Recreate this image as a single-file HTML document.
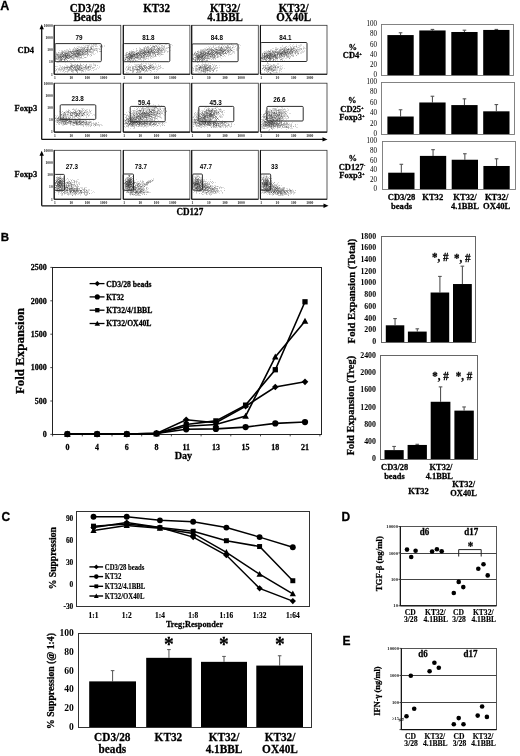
<!DOCTYPE html>
<html><head><meta charset="utf-8"><style>
html,body{margin:0;padding:0;background:#fff;width:520px;height:756px;overflow:hidden}
svg{display:block;filter:grayscale(1)}
</style></head><body>
<svg width="520" height="756" viewBox="0 0 520 756">
<rect width="520" height="756" fill="#fff"/>
<defs><filter id="sb" x="-5%" y="-5%" width="110%" height="110%"><feGaussianBlur stdDeviation="0.55"/></filter></defs>
<text x="0.3" y="9.6" font-size="12.50" text-anchor="start" font-weight="bold" font-family="'Liberation Sans',sans-serif" fill="#000" stroke="#000" stroke-width="0.28">A</text>
<text x="0.8" y="240.6" font-size="11.50" text-anchor="start" font-weight="bold" font-family="'Liberation Sans',sans-serif" fill="#000" stroke="#000" stroke-width="0.28">B</text>
<text x="1.6" y="521.3" font-size="12.00" text-anchor="start" font-weight="bold" font-family="'Liberation Sans',sans-serif" fill="#000" stroke="#000" stroke-width="0.28">C</text>
<text x="341.6" y="521.0" font-size="12.00" text-anchor="start" font-weight="bold" font-family="'Liberation Sans',sans-serif" fill="#000" stroke="#000" stroke-width="0.28">D</text>
<text x="342.6" y="645.2" font-size="12.00" text-anchor="start" font-weight="bold" font-family="'Liberation Sans',sans-serif" fill="#000" stroke="#000" stroke-width="0.28">E</text>
<text x="0" y="0" font-size="11.82" text-anchor="middle" font-weight="bold" font-family="'Liberation Serif',serif" fill="#000" stroke="#000" stroke-width="0.28" transform="translate(87.5 11.6) scale(0.93 1)">CD3/28</text>
<text x="0" y="0" font-size="11.82" text-anchor="middle" font-weight="bold" font-family="'Liberation Serif',serif" fill="#000" stroke="#000" stroke-width="0.28" transform="translate(87.5 20.9) scale(0.93 1)">Beads</text>
<text x="0" y="0" font-size="11.82" text-anchor="middle" font-weight="bold" font-family="'Liberation Serif',serif" fill="#000" stroke="#000" stroke-width="0.28" transform="translate(156.6 11.6) scale(0.93 1)">KT32</text>
<text x="0" y="0" font-size="11.82" text-anchor="middle" font-weight="bold" font-family="'Liberation Serif',serif" fill="#000" stroke="#000" stroke-width="0.28" transform="translate(225.0 11.6) scale(0.93 1)">KT32/</text>
<text x="0" y="0" font-size="11.82" text-anchor="middle" font-weight="bold" font-family="'Liberation Serif',serif" fill="#000" stroke="#000" stroke-width="0.28" transform="translate(225.0 20.9) scale(0.93 1)">4.1BBL</text>
<text x="0" y="0" font-size="11.82" text-anchor="middle" font-weight="bold" font-family="'Liberation Serif',serif" fill="#000" stroke="#000" stroke-width="0.28" transform="translate(293.7 11.6) scale(0.93 1)">KT32/</text>
<text x="0" y="0" font-size="11.82" text-anchor="middle" font-weight="bold" font-family="'Liberation Serif',serif" fill="#000" stroke="#000" stroke-width="0.28" transform="translate(293.7 20.9) scale(0.93 1)">OX40L</text>
<text x="0" y="0" font-size="9.14" text-anchor="middle" font-weight="bold" font-family="'Liberation Serif',serif" fill="#000" stroke="#000" stroke-width="0.28" transform="translate(25.8 52.75) scale(0.93 1)">CD4</text>
<text x="0" y="0" font-size="9.14" text-anchor="middle" font-weight="bold" font-family="'Liberation Serif',serif" fill="#000" stroke="#000" stroke-width="0.28" transform="translate(25.8 110.65) scale(0.93 1)">Foxp3</text>
<text x="0" y="0" font-size="9.14" text-anchor="middle" font-weight="bold" font-family="'Liberation Serif',serif" fill="#000" stroke="#000" stroke-width="0.28" transform="translate(25.8 176.95) scale(0.93 1)">Foxp3</text>
<line x1="41.70" y1="27.30" x2="41.70" y2="139.40" stroke="#111" stroke-width="1.3"/>
<line x1="41.70" y1="139.40" x2="324.50" y2="139.40" stroke="#111" stroke-width="1.3"/>
<path d="M39.5,29.3 L41.7,24.3 L43.900000000000006,29.3Z" fill="#000" stroke="none" stroke-width="1"/>
<path d="M322.5,137.20000000000002 L327.5,139.4 L322.5,141.6Z" fill="#000" stroke="none" stroke-width="1"/>
<line x1="41.70" y1="153.80" x2="41.70" y2="205.80" stroke="#111" stroke-width="1.3"/>
<line x1="41.70" y1="205.80" x2="325.50" y2="205.80" stroke="#111" stroke-width="1.3"/>
<path d="M39.5,155.8 L41.7,150.8 L43.900000000000006,155.8Z" fill="#000" stroke="none" stroke-width="1"/>
<path d="M323.5,203.60000000000002 L328.5,205.8 L323.5,208.0Z" fill="#000" stroke="none" stroke-width="1"/>
<g filter="url(#sb)" transform="translate(0 .5)">
<path d="M77 48h1M79 53h1M84 57h1M63 56h1M74 47h1M72 53h1M67 55h1M88 48h1M65 59h1M80 55h1M85 53h1M95 46h1M64 53h1M62 54h1M93 48h1M96 48h1M76 52h1M86 49h1M79 55h1M75 56h1M71 53h1M86 49h1M81 52h1M71 52h1M58 57h1M60 54h1M77 56h1M71 53h1M78 52h1M74 56h1M82 50h1M58 58h1M83 47h1M94 49h1M72 53h1M92 48h1M88 45h1M87 45h1M89 52h1M64 53h1M87 47h1M68 54h1M78 57h1M67 53h1M62 58h1M74 57h1M92 50h1M79 54h1M78 49h1M80 50h1M62 51h1M72 51h1M79 52h1M82 53h1M58 60h1M79 52h1M96 48h1M97 50h1M88 49h1M76 56h1M75 55h1M85 57h1M81 47h1M91 48h1M75 50h1M89 50h1M76 56h1M80 51h1M80 57h1M87 53h1M104 45h1M65 58h1M91 48h1M74 53h1M80 48h1M73 50h1M87 47h1M94 50h1M96 45h1M89 45h1M72 50h1M75 55h1M78 53h1M97 52h1M85 52h1M77 55h1M59 59h1M61 59h1M68 51h1M65 58h1M77 51h1M59 52h1M68 58h1M65 55h1M67 57h1M56 58h1M66 61h1M76 49h1M78 56h1M75 48h1M80 47h1M71 52h1M73 54h1M79 51h1M72 51h1M81 51h1M83 49h1M91 55h1M84 57h1M74 53h1M76 55h1M80 53h1M84 46h1M67 58h1M59 60h1M82 47h1M85 51h1M87 48h1M76 51h1M95 45h1M91 53h1M61 59h1M90 48h1M80 51h1M79 53h1M93 51h1M66 53h1M63 61h1M86 51h1M66 56h1M75 51h1M76 56h1M72 50h1M85 47h1M58 55h1M74 51h1M78 49h1M82 53h1M77 50h1M100 46h1M94 45h1M73 54h1M75 53h1M89 49h1M80 54h1M86 51h1M69 49h1M69 48h1M60 56h1M70 51h1M86 54h1M83 53h1M63 59h1M75 52h1M70 57h1M68 51h1M67 57h1M80 51h1M77 50h1M68 53h1M70 51h1M82 52h1M78 53h1M65 53h1M80 51h1M87 50h1M78 53h1M66 57h1M87 53h1M91 49h1M82 52h1M87 51h1M70 56h1M72 58h1M89 49h1M71 54h1M79 51h1M80 51h1M88 50h1M67 54h1M83 50h1M66 56h1M67 54h1M90 49h1M85 51h1M68 54h1M82 52h1M90 52h1M79 54h1M71 59h1M57 54h1M86 51h1M84 48h1M84 47h1M75 55h1M62 54h1M74 58h1M88 47h1M88 54h1M65 56h1M78 57h1M76 56h1M79 56h1M70 52h1M61 54h1M73 58h1M73 52h1M90 50h1M76 51h1M79 55h1M69 52h1M78 54h1M100 51h1M82 48h1M78 54h1M84 54h1M67 54h1M80 57h1M64 55h1M59 56h1M63 55h1M56 58h1M65 54h1M61 57h1M70 56h1M63 54h1M62 59h1M60 54h1M60 59h1M65 56h1M65 56h1M56 55h1M60 61h1M62 53h1M57 55h1M70 56h1M58 58h1M64 59h1M61 52h1M61 57h1M61 53h1M65 62h1M59 54h1M58 52h1M58 53h1M56 59h1M61 55h1M67 55h1M60 60h1M69 57h1M64 52h1M58 55h1M64 52h1M58 58h1M64 59h1M65 55h1M65 58h1M61 60h1M65 55h1M58 59h1M60 56h1M64 50h1M65 54h1M62 56h1M66 54h1M68 55h1M56 54h1M60 59h1M60 57h1M61 58h1M61 55h1M65 59h1M58 62h1M65 53h1M64 54h1M63 51h1M72 72h1M81 66h1M62 68h1M70 66h1M71 66h1M88 67h1M77 71h1M78 69h1M77 68h1M62 69h1M82 70h1M56 69h1M65 71h1M65 68h1M75 69h1M68 69h1M88 66h1M55 71h1M99 67h1M71 69h1M64 72h1M86 68h1M58 69h1M79 66h1M94 69h1M88 68h1M81 68h1M71 70h1M96 68h1M71 66h1M72 70h1M79 65h1M92 67h1M93 70h1M81 68h1M75 70h1M62 68h1M95 65h1M72 66h1M60 67h1M67 72h1M80 69h1M86 67h1M56 69h1M81 65h1M79 69h1M84 68h1M71 70h1M76 70h1M68 67h1M76 67h1M81 68h1M76 70h1M87 67h1M75 70h1M76 66h1M86 68h1M80 64h1M77 69h1M79 68h1M62 71h1M65 67h1M87 69h1M95 64h1M75 67h1M73 69h1M64 67h1M73 70h1M71 68h1M65 64h1M69 70h1M71 71h1M90 67h1M89 67h1M59 65h1M72 64h1M83 67h1M76 70h1M81 67h1M61 68h1M79 70h1M75 68h1M74 67h1M85 66h1M71 66h1M65 67h1M78 69h1M74 66h1M85 67h1M83 64h1M70 66h1M86 69h1M89 66h1M71 66h1M72 67h1M67 71h1M67 68h1M97 65h1M77 67h1M80 69h1M70 66h1M81 68h1M73 65h1M73 68h1M78 69h1M73 70h1M67 69h1M68 67h1M76 69h1" stroke="#333" stroke-opacity="0.17"/>
<path d="M81 47h1M93 45h1M78 46h1M73 56h1M64 60h1M77 50h1M67 49h1M73 59h1M81 58h1M70 51h1M77 57h1M70 54h1M72 58h1M69 54h1M86 47h1M73 53h1M66 57h1M78 51h1M85 51h1M67 53h1M80 50h1M66 55h1M68 53h1M76 50h1M87 52h1M94 54h1M67 56h1M62 52h1M69 51h1M75 56h1M95 48h1M87 52h1M73 58h1M72 53h1M86 53h1M87 53h1M90 52h1M88 47h1M84 50h1M58 57h1M59 57h1M61 57h1M83 50h1M80 52h1M89 51h1M87 50h1M77 50h1M65 58h1M78 55h1M66 53h1M76 50h1M87 49h1M66 55h1M78 53h1M97 49h1M79 46h1M84 48h1M84 50h1M73 52h1M68 53h1M71 52h1M102 46h1M63 54h1M96 50h1M72 57h1M67 53h1M81 54h1M77 53h1M59 61h1M77 54h1M81 51h1M81 57h1M73 57h1M62 53h1M91 55h1M90 49h1M84 54h1M74 54h1M71 55h1M64 56h1M72 49h1M66 53h1M71 56h1M68 51h1M77 53h1M79 54h1M85 47h1M66 58h1M69 52h1M57 59h1M79 49h1M65 51h1M62 55h1M90 46h1M94 49h1M73 52h1M77 51h1M68 50h1M65 53h1M71 59h1M77 48h1M76 58h1M73 52h1M64 57h1M83 45h1M82 48h1M81 53h1M80 50h1M61 57h1M81 51h1M64 58h1M91 55h1M90 47h1M60 60h1M73 51h1M70 51h1M86 48h1M71 51h1M78 55h1M67 55h1M61 57h1M91 54h1M75 51h1M70 56h1M74 53h1M101 45h1M79 49h1M86 52h1M74 52h1M91 48h1M87 55h1M74 53h1M101 46h1M77 56h1M82 49h1M92 49h1M58 59h1M61 56h1M73 58h1M101 46h1M77 51h1M76 48h1M86 57h1M82 54h1M73 57h1M84 47h1M85 52h1M82 50h1M69 54h1M87 51h1M78 50h1M62 58h1M96 44h1M77 52h1M79 59h1M87 50h1M67 54h1M75 49h1M68 56h1M95 49h1M75 49h1M93 50h1M80 53h1M89 51h1M99 49h1M82 54h1M90 56h1M66 56h1M80 54h1M77 48h1M87 49h1M80 50h1M76 52h1M66 56h1M91 45h1M83 54h1M79 54h1M88 46h1M75 56h1M86 51h1M87 56h1M89 50h1M67 51h1M78 58h1M91 51h1M90 49h1M83 52h1M71 55h1M75 54h1M70 56h1M66 56h1M62 53h1M99 48h1M75 51h1M88 49h1M80 55h1M90 51h1M73 49h1M71 53h1M87 45h1M59 53h1M80 50h1M71 58h1M88 54h1M81 48h1M75 50h1M65 57h1M82 51h1M75 53h1M69 54h1M91 46h1M89 44h1M82 52h1M85 50h1M79 52h1M91 52h1M85 51h1M63 59h1M63 56h1M63 57h1M57 56h1M58 52h1M62 56h1M69 57h1M60 59h1M64 57h1M67 57h1M62 56h1M60 55h1M65 57h1M61 56h1M64 54h1M63 54h1M65 54h1M61 52h1M66 59h1M65 56h1M55 59h1M70 58h1M63 56h1M66 57h1M66 57h1M60 58h1M63 54h1M65 54h1M65 57h1M65 55h1M64 54h1M59 57h1M57 54h1M65 57h1M55 56h1M55 57h1M66 57h1M65 60h1M64 59h1M66 56h1M56 57h1M58 54h1M58 57h1M57 61h1M60 58h1M64 50h1M66 52h1M56 59h1M67 61h1M64 56h1M64 59h1M61 59h1M64 59h1M63 52h1M57 54h1M56 54h1M61 57h1M65 52h1M59 55h1M73 68h1M70 69h1M56 70h1M82 68h1M82 69h1M80 67h1M75 68h1M63 70h1M88 68h1M66 66h1M71 63h1M77 73h1M91 64h1M87 70h1M71 64h1M59 69h1M56 66h1M77 72h1M73 68h1M88 66h1M86 65h1M71 69h1M82 68h1M84 65h1M84 69h1M79 69h1M68 69h1M71 66h1M88 66h1M83 69h1M62 69h1M83 71h1M55 68h1M95 66h1M70 67h1M68 70h1M60 71h1M81 65h1M93 70h1M70 67h1M71 68h1M80 69h1M64 66h1M95 69h1M76 65h1M88 68h1M66 71h1M55 70h1M99 66h1M74 67h1M72 69h1M88 67h1M57 72h1M89 69h1M60 70h1M75 64h1M71 66h1M76 69h1M73 72h1M83 70h1M85 70h1M88 67h1M85 68h1M80 65h1M78 69h1M63 69h1M81 70h1M70 68h1M83 66h1M72 69h1M78 67h1M60 69h1M64 68h1M74 69h1M82 67h1M87 67h1M78 65h1M87 68h1M78 67h1M84 67h1M77 64h1M88 69h1M58 69h1M90 67h1M71 65h1M76 67h1M79 65h1M80 70h1M71 71h1M67 67h1M64 66h1M66 67h1M55 66h1M74 66h1M88 66h1M83 68h1M85 65h1M75 69h1M76 67h1M74 64h1M57 71h1M70 69h1M90 67h1M64 68h1M73 71h1M78 69h1M69 67h1M68 70h1M61 67h1" stroke="#333" stroke-opacity="0.17"/>
<path d="M75 54h1M72 53h1M68 56h1M56 58h1M83 58h1M79 50h1M90 49h1M76 49h1M94 50h1M88 54h1M85 47h1M80 51h1M77 59h1M86 51h1M75 54h1M75 53h1M79 54h1M86 51h1M62 52h1M81 55h1M84 52h1M76 47h1M89 49h1M65 55h1M69 57h1M95 48h1M91 48h1M92 45h1M73 49h1M69 57h1M62 59h1M79 57h1M77 56h1M82 52h1M75 54h1M82 50h1M76 50h1M73 52h1M89 51h1M88 52h1M81 51h1M77 54h1M66 53h1M68 50h1M78 56h1M77 53h1M70 52h1M67 55h1M79 53h1M84 49h1M79 54h1M83 51h1M76 55h1M96 48h1M90 52h1M76 57h1M79 59h1M80 58h1M74 47h1M69 56h1M81 54h1M75 51h1M65 54h1M82 53h1M63 57h1M69 57h1M81 50h1M84 49h1M83 50h1M74 54h1M65 58h1M65 55h1M84 52h1M62 57h1M69 55h1M81 52h1M57 61h1M75 56h1M80 52h1M91 51h1M78 53h1M64 58h1M67 57h1M82 47h1M85 51h1M90 51h1M66 57h1M70 56h1M85 52h1M99 45h1M78 50h1M63 57h1M75 55h1M66 56h1M87 49h1M77 50h1M79 58h1M78 53h1M85 51h1M67 57h1M63 58h1M79 50h1M66 50h1M81 53h1M58 55h1M70 51h1M60 56h1M61 60h1M63 55h1M100 51h1M71 57h1M68 51h1M84 55h1M86 54h1M71 52h1M78 52h1M98 48h1M77 51h1M80 51h1M76 52h1M67 55h1M84 52h1M92 52h1M86 51h1M90 54h1M77 46h1M83 51h1M70 57h1M84 51h1M77 50h1M66 53h1M93 50h1M99 51h1M84 52h1M70 55h1M82 54h1M68 57h1M83 56h1M71 55h1M93 47h1M77 50h1M65 55h1M87 52h1M80 55h1M96 50h1M95 50h1M67 55h1M81 49h1M66 51h1M77 54h1M92 46h1M76 53h1M78 47h1M69 53h1M90 50h1M65 55h1M73 54h1M73 53h1M86 51h1M82 58h1M87 49h1M73 55h1M95 53h1M102 45h1M68 58h1M75 55h1M66 51h1M91 48h1M80 54h1M94 44h1M79 52h1M78 48h1M92 49h1M77 50h1M73 51h1M78 55h1M72 57h1M92 46h1M101 51h1M87 47h1M77 52h1M77 58h1M60 56h1M91 52h1M75 56h1M73 51h1M75 59h1M74 55h1M58 61h1M76 53h1M66 49h1M83 55h1M81 55h1M87 47h1M74 55h1M91 48h1M68 53h1M65 56h1M83 49h1M91 47h1M96 50h1M80 47h1M80 53h1M82 52h1M87 50h1M71 51h1M79 57h1M84 50h1M87 50h1M73 54h1M69 55h1M87 55h1M78 51h1M71 55h1M69 56h1M73 55h1M78 51h1M64 57h1M67 57h1M63 51h1M56 56h1M62 56h1M64 55h1M68 58h1M66 53h1M63 55h1M61 59h1M59 61h1M58 56h1M56 54h1M62 56h1M57 62h1M66 54h1M55 60h1M61 60h1M67 53h1M66 56h1M60 53h1M60 56h1M62 50h1M65 53h1M63 61h1M58 52h1M60 52h1M69 55h1M62 55h1M69 58h1M65 55h1M62 59h1M60 57h1M61 59h1M59 56h1M68 58h1M60 57h1M67 56h1M61 57h1M62 56h1M68 57h1M57 58h1M61 51h1M56 52h1M66 55h1M60 53h1M65 54h1M59 58h1M59 55h1M65 56h1M56 56h1M68 55h1M67 54h1M62 58h1M64 60h1M60 59h1M57 55h1M61 53h1M59 58h1M68 69h1M76 69h1M80 68h1M71 64h1M70 67h1M84 67h1M72 65h1M78 69h1M93 65h1M76 71h1M77 72h1M92 68h1M67 68h1M75 66h1M80 69h1M68 67h1M77 68h1M76 71h1M66 67h1M77 66h1M77 68h1M76 65h1M85 66h1M93 67h1M95 65h1M80 65h1M81 68h1M69 70h1M86 67h1M79 69h1M81 65h1M69 68h1M80 67h1M85 65h1M61 69h1M77 70h1M67 66h1M74 69h1M79 66h1M71 67h1M74 67h1M62 67h1M72 66h1M78 66h1M89 66h1M74 65h1M73 65h1M65 67h1M81 71h1M69 66h1M73 68h1M79 68h1M82 70h1M83 67h1M90 64h1M77 64h1M75 67h1M70 68h1M76 66h1M76 71h1M76 70h1M78 68h1M79 73h1M75 69h1M59 68h1M78 70h1M58 70h1M79 66h1M86 68h1M78 65h1M72 71h1M69 67h1M86 69h1M63 68h1M76 69h1M83 69h1M89 69h1M80 63h1M70 70h1M59 68h1M81 70h1M89 70h1M83 64h1M77 64h1M82 68h1M77 68h1M77 70h1M88 66h1M55 66h1M96 69h1M80 66h1M79 66h1M60 66h1M84 67h1M67 67h1M81 67h1M67 70h1M63 71h1M86 65h1M79 67h1M67 65h1M64 69h1M90 68h1M77 67h1M93 64h1M76 70h1M81 70h1M75 65h1M75 64h1" stroke="#333" stroke-opacity="0.17"/>
<path d="M72 51h1M71 53h1M78 53h1M63 57h1M81 55h1M61 59h1M69 55h1M79 49h1M60 54h1M64 56h1M78 56h1M72 51h1M89 52h1M72 51h1M74 53h1M82 51h1M74 57h1M74 52h1M83 55h1M104 46h1M76 53h1M79 53h1M80 51h1M83 54h1M87 51h1M77 52h1M78 54h1M77 54h1M71 53h1M97 46h1M76 55h1M78 49h1M66 57h1M78 52h1M76 52h1M72 55h1M85 53h1M95 46h1M100 46h1M66 55h1M78 50h1M59 57h1M70 53h1M82 51h1M79 55h1M79 53h1M72 54h1M93 54h1M88 51h1M70 52h1M63 56h1M82 54h1M76 51h1M72 55h1M89 50h1M76 53h1M72 55h1M73 50h1M76 54h1M85 50h1M78 51h1M76 54h1M93 49h1M84 48h1M79 52h1M72 53h1M75 57h1M100 46h1M62 56h1M69 51h1M78 55h1M92 52h1M76 49h1M87 49h1M81 54h1M65 58h1M94 50h1M64 52h1M58 56h1M82 52h1M72 55h1M77 50h1M89 55h1M77 57h1M77 50h1M68 58h1M77 51h1M64 51h1M69 53h1M74 51h1M100 47h1M87 50h1M93 44h1M74 48h1M74 56h1M78 54h1M93 46h1M72 56h1M77 54h1M75 52h1M79 51h1M81 56h1M74 50h1M80 53h1M83 48h1M75 53h1M84 48h1M90 54h1M71 53h1M96 46h1M82 48h1M78 53h1M74 52h1M77 50h1M69 57h1M87 52h1M91 47h1M88 45h1M93 46h1M77 56h1M81 46h1M84 53h1M68 56h1M81 49h1M71 57h1M82 55h1M69 55h1M76 51h1M68 55h1M70 56h1M74 55h1M83 48h1M84 48h1M85 46h1M74 51h1M91 48h1M73 57h1M78 55h1M58 56h1M85 45h1M75 55h1M73 49h1M66 57h1M95 44h1M70 51h1M60 55h1M74 54h1M96 44h1M64 54h1M83 53h1M83 49h1M76 56h1M65 58h1M79 51h1M67 57h1M73 55h1M61 54h1M87 46h1M72 55h1M73 54h1M74 60h1M59 60h1M82 54h1M87 49h1M77 53h1M79 51h1M77 59h1M102 47h1M97 51h1M81 56h1M84 51h1M90 47h1M62 55h1M63 55h1M83 51h1M72 55h1M73 54h1M86 53h1M99 51h1M87 52h1M90 49h1M68 56h1M77 50h1M79 55h1M75 51h1M83 47h1M82 49h1M83 51h1M76 56h1M81 49h1M97 48h1M74 51h1M80 55h1M78 52h1M68 52h1M66 59h1M71 56h1M60 56h1M101 51h1M70 56h1M66 59h1M75 50h1M80 49h1M71 56h1M80 49h1M87 50h1M67 50h1M82 50h1M66 56h1M70 54h1M69 51h1M63 56h1M93 49h1M78 50h1M77 53h1M69 55h1M66 55h1M63 57h1M57 58h1M64 53h1M64 53h1M68 52h1M64 55h1M61 53h1M70 57h1M70 55h1M61 60h1M66 52h1M58 57h1M62 54h1M63 61h1M57 56h1M63 56h1M63 54h1M66 53h1M62 56h1M60 60h1M68 55h1M59 57h1M67 52h1M60 57h1M68 52h1M65 52h1M64 56h1M60 56h1M64 61h1M61 54h1M62 51h1M64 59h1M63 54h1M63 61h1M61 59h1M60 57h1M62 53h1M61 54h1M62 56h1M69 55h1M64 55h1M61 56h1M62 56h1M61 57h1M57 55h1M63 55h1M62 52h1M63 55h1M60 58h1M63 54h1M62 56h1M69 56h1M59 57h1M62 61h1M56 55h1M58 57h1M66 58h1M57 57h1M56 53h1M59 70h1M73 67h1M66 69h1M59 69h1M71 66h1M85 69h1M71 66h1M58 68h1M79 67h1M76 69h1M67 68h1M77 65h1M84 67h1M77 66h1M71 69h1M70 67h1M64 68h1M74 65h1M94 67h1M82 66h1M64 67h1M82 65h1M85 66h1M72 70h1M85 67h1M77 65h1M83 71h1M79 70h1M88 67h1M74 67h1M75 66h1M74 69h1M91 68h1M82 71h1M61 69h1M73 70h1M79 67h1M61 67h1M88 67h1M89 66h1M72 67h1M74 67h1M71 69h1M78 68h1M79 66h1M71 65h1M70 66h1M72 66h1M62 66h1M66 67h1M73 68h1M87 68h1M69 67h1M64 68h1M81 68h1M55 70h1M79 67h1M59 67h1M84 69h1M81 67h1M88 67h1M77 67h1M71 65h1M89 65h1M86 66h1M91 65h1M71 71h1M73 65h1M86 64h1M91 66h1M68 71h1M75 69h1M66 69h1M77 69h1M75 70h1M65 71h1M80 65h1M68 70h1M81 68h1M92 68h1M73 67h1M90 66h1M85 67h1M88 70h1M66 65h1M87 67h1M77 65h1M64 67h1M72 65h1M78 68h1M92 67h1M60 65h1M65 69h1M77 65h1M94 65h1M78 66h1M80 64h1M64 69h1M78 65h1M85 68h1M79 69h1M95 65h1M63 67h1M61 68h1M66 67h1M77 67h1M75 69h1M78 68h1" stroke="#333" stroke-opacity="0.17"/>
<path d="M67 58h1M83 49h1M86 49h1M57 59h1M77 56h1M72 51h1M77 50h1M78 50h1M88 49h1M80 54h1M86 49h1M79 47h1M92 53h1M77 53h1M76 56h1M76 51h1M91 44h1M90 48h1M59 60h1M68 52h1M76 53h1M67 58h1M79 50h1M88 50h1M79 50h1M76 57h1M69 56h1M90 51h1M77 48h1M70 52h1M71 56h1M69 53h1M63 52h1M73 55h1M78 52h1M62 55h1M88 51h1M63 52h1M96 49h1M78 51h1M76 55h1M84 49h1M67 55h1M83 54h1M62 61h1M75 54h1M93 44h1M81 57h1M85 54h1M91 49h1M99 49h1M77 52h1M93 52h1M74 56h1M87 54h1M78 49h1M70 49h1M77 53h1M81 57h1M97 51h1M65 50h1M65 51h1M68 58h1M101 48h1M95 44h1M81 49h1M78 52h1M85 50h1M88 51h1M87 54h1M77 55h1M90 47h1M74 54h1M75 48h1M83 53h1M67 53h1M85 49h1M76 52h1M74 54h1M67 58h1M70 61h1M88 46h1M72 55h1M70 59h1M67 60h1M78 54h1M91 49h1M83 53h1M84 53h1M80 49h1M65 52h1M88 53h1M85 54h1M60 54h1M67 52h1M76 50h1M100 49h1M69 51h1M82 53h1M71 51h1M62 53h1M77 54h1M71 52h1M77 53h1M81 50h1M86 51h1M92 49h1M77 57h1M93 51h1M76 50h1M84 54h1M87 50h1M82 49h1M82 51h1M74 50h1M76 51h1M82 54h1M101 45h1M77 48h1M87 48h1M70 50h1M72 52h1M68 54h1M69 60h1M73 53h1M77 55h1M59 59h1M81 54h1M74 54h1M73 48h1M87 55h1M87 53h1M86 49h1M74 53h1M72 57h1M101 45h1M79 53h1M74 51h1M79 56h1M71 57h1M79 52h1M78 54h1M76 53h1M71 57h1M73 59h1M86 45h1M61 58h1M75 51h1M85 57h1M79 49h1M83 51h1M81 52h1M57 53h1M72 58h1M74 59h1M78 53h1M73 53h1M85 54h1M65 56h1M89 51h1M78 54h1M75 54h1M87 47h1M81 49h1M85 57h1M65 55h1M86 50h1M75 50h1M64 59h1M71 56h1M72 53h1M73 56h1M91 46h1M75 56h1M87 51h1M72 54h1M92 51h1M70 59h1M55 56h1M78 55h1M85 49h1M83 53h1M85 54h1M77 53h1M77 54h1M69 58h1M100 51h1M80 57h1M83 52h1M61 55h1M66 57h1M77 49h1M67 56h1M55 58h1M74 49h1M68 54h1M88 48h1M70 54h1M93 53h1M67 55h1M75 53h1M91 47h1M67 54h1M102 46h1M76 52h1M73 51h1M76 53h1M80 55h1M94 48h1M79 49h1M55 58h1M69 54h1M80 54h1M67 55h1M77 54h1M58 54h1M73 51h1M60 55h1M64 55h1M59 54h1M62 58h1M67 60h1M64 60h1M59 61h1M58 58h1M65 58h1M59 55h1M59 56h1M62 51h1M57 55h1M60 60h1M61 60h1M62 53h1M58 56h1M61 52h1M56 54h1M61 57h1M71 56h1M66 55h1M59 50h1M62 53h1M61 58h1M62 52h1M65 57h1M65 53h1M61 61h1M56 58h1M61 50h1M60 59h1M56 53h1M64 60h1M60 55h1M60 58h1M67 55h1M61 54h1M60 54h1M61 56h1M57 54h1M60 58h1M65 53h1M68 55h1M66 53h1M58 56h1M58 54h1M57 57h1M57 59h1M63 57h1M67 52h1M56 57h1M65 55h1M67 60h1M59 56h1M64 55h1M65 54h1M60 56h1M57 54h1M72 65h1M74 68h1M80 64h1M74 66h1M85 66h1M80 67h1M75 67h1M78 68h1M69 69h1M75 68h1M70 65h1M79 67h1M77 72h1M80 70h1M76 66h1M75 66h1M70 68h1M67 71h1M82 70h1M78 69h1M67 67h1M77 70h1M93 68h1M94 64h1M66 68h1M90 69h1M67 66h1M86 64h1M90 65h1M70 65h1M76 68h1M57 66h1M70 68h1M67 67h1M69 68h1M71 67h1M87 66h1M75 67h1M71 65h1M97 67h1M77 71h1M56 69h1M69 69h1M75 70h1M73 65h1M72 67h1M57 68h1M76 70h1M69 67h1M94 67h1M91 70h1M97 65h1M69 67h1M63 67h1M85 66h1M86 66h1M93 63h1M69 68h1M81 72h1M90 69h1M76 66h1M77 68h1M77 66h1M74 66h1M81 69h1M69 69h1M68 66h1M69 67h1M83 67h1M79 67h1M82 70h1M64 70h1M77 65h1M98 68h1M72 71h1M62 66h1M88 70h1M89 64h1M60 69h1M73 67h1M72 70h1M80 68h1M72 67h1M79 68h1M71 68h1M85 71h1M93 67h1M80 66h1M63 70h1M67 67h1M74 70h1M90 66h1M86 64h1M79 70h1M72 66h1M61 70h1M72 69h1M66 67h1M77 68h1M85 67h1M70 63h1M91 66h1M65 67h1M76 65h1M86 68h1M75 68h1M63 70h1M68 66h1" stroke="#333" stroke-opacity="0.17"/>
</g>
<rect x="54.20" y="25.30" width="66.60" height="48.90" fill="none" stroke="#333" stroke-width="0.8"/>
<line x1="54.20" y1="25.30" x2="54.20" y2="74.20" stroke="#111" stroke-width="1.15"/>
<line x1="54.20" y1="74.20" x2="120.80" y2="74.20" stroke="#111" stroke-width="1.15"/>
<rect x="55.00" y="43.60" width="46.30" height="18.10" fill="none" stroke="#222" stroke-width="0.95" rx="1"/>
<text x="78.9" y="40.1" font-size="6.30" text-anchor="middle" font-weight="bold" font-family="'Liberation Sans',sans-serif" fill="#000">79</text>
<text x="52.7" y="26.6" font-size="3.60" text-anchor="end" font-weight="bold" font-family="'Liberation Serif',serif" fill="#222">10000</text>
<text x="52.7" y="38.824999999999996" font-size="3.60" text-anchor="end" font-weight="bold" font-family="'Liberation Serif',serif" fill="#222">1000</text>
<text x="52.7" y="51.05" font-size="3.60" text-anchor="end" font-weight="bold" font-family="'Liberation Serif',serif" fill="#222">100</text>
<text x="52.7" y="63.27499999999999" font-size="3.60" text-anchor="end" font-weight="bold" font-family="'Liberation Serif',serif" fill="#222">10</text>
<text x="52.7" y="75.5" font-size="3.60" text-anchor="end" font-weight="bold" font-family="'Liberation Serif',serif" fill="#222">1</text>
<text x="55.0" y="79.0" font-size="3.60" text-anchor="middle" font-weight="bold" font-family="'Liberation Serif',serif" fill="#222">1</text>
<text x="71.2" y="79.0" font-size="3.60" text-anchor="middle" font-weight="bold" font-family="'Liberation Serif',serif" fill="#222">10</text>
<text x="87.4" y="79.0" font-size="3.60" text-anchor="middle" font-weight="bold" font-family="'Liberation Serif',serif" fill="#222">100</text>
<text x="103.6" y="79.0" font-size="3.60" text-anchor="middle" font-weight="bold" font-family="'Liberation Serif',serif" fill="#222">1000</text>
<g filter="url(#sb)" transform="translate(0 .5)">
<path d="M151 49h1M137 57h1M143 53h1M126 55h1M149 54h1M164 46h1M165 51h1M153 52h1M154 51h1M126 55h1M144 55h1M149 50h1M167 47h1M158 48h1M142 56h1M129 53h1M144 52h1M143 58h1M137 53h1M161 51h1M152 52h1M138 53h1M145 53h1M139 56h1M153 55h1M161 45h1M140 51h1M149 51h1M157 50h1M154 49h1M158 51h1M148 51h1M163 52h1M141 55h1M151 47h1M127 60h1M146 49h1M146 52h1M131 55h1M131 57h1M135 54h1M162 54h1M139 53h1M148 52h1M156 52h1M129 60h1M156 50h1M146 56h1M147 51h1M167 52h1M155 51h1M141 51h1M134 51h1M142 57h1M163 47h1M144 52h1M153 50h1M164 45h1M148 54h1M143 55h1M146 57h1M133 54h1M140 53h1M157 47h1M147 56h1M148 59h1M158 53h1M154 54h1M143 52h1M155 49h1M142 54h1M140 54h1M159 53h1M140 55h1M161 51h1M151 51h1M151 50h1M145 46h1M150 52h1M144 53h1M151 49h1M149 49h1M154 47h1M140 57h1M134 58h1M143 51h1M137 56h1M131 58h1M137 52h1M149 52h1M158 51h1M158 48h1M143 55h1M142 54h1M134 56h1M157 49h1M149 50h1M150 52h1M139 59h1M159 53h1M153 51h1M155 45h1M140 48h1M141 59h1M153 57h1M157 48h1M159 52h1M137 58h1M143 52h1M148 56h1M144 52h1M156 48h1M152 53h1M153 53h1M156 48h1M126 54h1M153 51h1M143 49h1M142 51h1M127 56h1M150 48h1M158 48h1M139 57h1M124 57h1M154 51h1M148 51h1M140 51h1M149 54h1M140 55h1M139 53h1M151 48h1M145 54h1M148 51h1M141 53h1M152 48h1M129 59h1M128 58h1M152 50h1M157 49h1M144 53h1M146 58h1M150 48h1M145 54h1M168 47h1M127 60h1M137 55h1M154 53h1M159 46h1M141 54h1M141 55h1M144 51h1M134 52h1M144 49h1M140 49h1M147 50h1M133 60h1M142 54h1M136 53h1M163 48h1M139 54h1M146 51h1M137 60h1M133 61h1M132 52h1M140 58h1M138 51h1M137 52h1M146 52h1M162 52h1M141 53h1M155 53h1M144 53h1M158 49h1M141 57h1M138 59h1M136 48h1M127 58h1M133 56h1M152 50h1M152 52h1M144 48h1M133 54h1M154 52h1M141 50h1M144 54h1M145 48h1M150 57h1M160 54h1M140 53h1M161 49h1M145 55h1M146 50h1M147 53h1M150 56h1M136 50h1M135 54h1M143 52h1M142 49h1M144 57h1M155 55h1M141 53h1M143 50h1M161 43h1M131 57h1M146 49h1M147 46h1M135 57h1M170 47h1M140 53h1M127 57h1M148 50h1M167 48h1M153 53h1M159 51h1M162 47h1M157 50h1M141 56h1M150 53h1M130 54h1M132 57h1M129 59h1M135 60h1M131 53h1M130 57h1M132 52h1M131 60h1M132 55h1M129 59h1M131 52h1M130 61h1M132 52h1M137 54h1M136 56h1M129 57h1M131 59h1M130 56h1M133 51h1M126 58h1M132 55h1M129 57h1M135 57h1M129 51h1M128 60h1M125 55h1M128 58h1M130 56h1M125 59h1M138 59h1M131 55h1M131 57h1M126 57h1M131 53h1M132 60h1M133 59h1M131 58h1M125 57h1M132 51h1M129 60h1M126 57h1M132 52h1M136 53h1M129 54h1M131 56h1M130 54h1M134 55h1M130 54h1M137 54h1M126 54h1M134 52h1M131 52h1M129 56h1M129 59h1M131 56h1M137 54h1M130 54h1M129 57h1M132 55h1M135 66h1M150 66h1M146 70h1M141 64h1M137 69h1M150 72h1M146 67h1M135 64h1M136 68h1M152 66h1M139 65h1M151 64h1M142 69h1M141 66h1M150 70h1M126 66h1M151 71h1M139 67h1M146 69h1M153 69h1M137 64h1M141 69h1M133 68h1M143 70h1M138 69h1M146 71h1M134 69h1M140 66h1M154 68h1M128 67h1M137 69h1M149 68h1M150 65h1M140 66h1M133 68h1M146 70h1M145 67h1M158 64h1M130 67h1M144 67h1M142 69h1M159 66h1M151 68h1M142 67h1M137 66h1M143 66h1M132 67h1M141 63h1M133 69h1M132 68h1M148 69h1M144 65h1M129 64h1M139 69h1M139 71h1M149 67h1M136 70h1M146 68h1M146 69h1M146 66h1M130 70h1M138 66h1M149 68h1M137 70h1M149 66h1M139 65h1M130 69h1M126 70h1M128 69h1M139 66h1M142 68h1M153 66h1M138 69h1M126 67h1M136 69h1M148 66h1M152 67h1M138 66h1M141 65h1M142 69h1M150 68h1M135 67h1M153 66h1M140 68h1M156 66h1M132 72h1M145 68h1M150 67h1M133 72h1M134 64h1M139 72h1M150 66h1M152 67h1M140 68h1M144 69h1M148 68h1M138 71h1M145 63h1" stroke="#333" stroke-opacity="0.17"/>
<path d="M143 53h1M125 59h1M161 52h1M149 56h1M158 50h1M149 53h1M158 50h1M162 48h1M139 47h1M130 60h1M151 51h1M143 60h1M133 53h1M161 50h1M162 50h1M135 55h1M156 46h1M134 54h1M136 53h1M159 48h1M159 54h1M151 52h1M148 51h1M145 59h1M160 49h1M161 51h1M158 45h1M157 51h1M131 58h1M131 56h1M151 47h1M154 47h1M148 50h1M155 50h1M134 54h1M151 58h1M140 55h1M136 48h1M166 48h1M161 45h1M148 51h1M169 45h1M142 53h1M161 50h1M145 50h1M151 50h1M158 54h1M143 53h1M136 55h1M139 59h1M154 53h1M148 58h1M151 50h1M145 54h1M157 50h1M147 49h1M151 51h1M149 50h1M140 51h1M152 47h1M141 56h1M153 53h1M138 57h1M151 51h1M144 55h1M155 54h1M130 57h1M143 49h1M132 58h1M170 46h1M148 51h1M143 59h1M160 50h1M158 49h1M142 49h1M155 49h1M159 54h1M158 52h1M149 49h1M154 52h1M157 51h1M153 50h1M152 51h1M151 52h1M161 54h1M161 48h1M153 56h1M151 48h1M147 55h1M144 55h1M154 52h1M134 56h1M138 56h1M139 54h1M151 51h1M134 54h1M139 54h1M141 57h1M145 58h1M152 54h1M159 48h1M148 50h1M156 54h1M144 56h1M149 51h1M168 51h1M142 51h1M159 47h1M137 58h1M130 55h1M145 54h1M140 58h1M138 53h1M143 52h1M127 54h1M134 58h1M153 45h1M132 58h1M144 54h1M154 53h1M148 51h1M154 48h1M125 53h1M154 49h1M143 55h1M145 57h1M138 55h1M145 54h1M150 49h1M131 55h1M141 51h1M148 52h1M150 50h1M171 44h1M138 53h1M136 53h1M150 57h1M146 56h1M151 50h1M164 47h1M128 58h1M159 48h1M156 51h1M140 48h1M138 53h1M145 54h1M131 55h1M147 50h1M130 57h1M162 50h1M148 53h1M128 55h1M148 52h1M159 47h1M160 50h1M148 47h1M142 57h1M168 45h1M158 49h1M145 54h1M141 56h1M151 49h1M140 59h1M140 54h1M156 46h1M143 56h1M130 55h1M129 56h1M144 50h1M159 49h1M138 55h1M157 54h1M142 49h1M148 49h1M153 46h1M149 51h1M152 47h1M143 52h1M157 47h1M144 49h1M141 52h1M151 56h1M151 50h1M132 57h1M146 56h1M157 47h1M134 52h1M140 57h1M150 54h1M153 50h1M144 51h1M159 44h1M128 53h1M135 57h1M163 46h1M158 48h1M144 58h1M152 54h1M142 52h1M145 51h1M154 48h1M146 49h1M130 55h1M140 52h1M127 58h1M143 50h1M150 45h1M125 60h1M144 56h1M156 52h1M147 52h1M146 52h1M131 55h1M158 52h1M143 52h1M164 51h1M163 48h1M141 55h1M127 52h1M136 56h1M139 56h1M128 58h1M135 57h1M136 53h1M130 62h1M135 60h1M126 54h1M130 58h1M129 59h1M133 58h1M128 56h1M132 56h1M129 54h1M132 53h1M124 60h1M134 54h1M130 58h1M135 56h1M131 54h1M130 55h1M130 54h1M129 52h1M137 54h1M127 58h1M132 51h1M130 62h1M128 58h1M137 53h1M129 55h1M124 55h1M133 55h1M138 54h1M137 56h1M136 54h1M128 54h1M136 54h1M132 56h1M126 53h1M138 55h1M136 57h1M136 50h1M127 59h1M131 56h1M137 55h1M129 55h1M131 56h1M127 59h1M139 54h1M133 53h1M135 58h1M133 56h1M132 54h1M137 54h1M129 59h1M127 57h1M132 62h1M130 57h1M144 65h1M137 71h1M142 69h1M143 68h1M146 67h1M145 68h1M124 71h1M155 67h1M141 68h1M160 65h1M130 67h1M130 70h1M155 64h1M145 70h1M156 71h1M133 67h1M137 69h1M153 68h1M144 65h1M138 69h1M139 69h1M142 68h1M143 70h1M137 67h1M133 71h1M141 69h1M143 68h1M160 67h1M138 69h1M140 68h1M132 68h1M149 69h1M145 70h1M160 66h1M145 71h1M153 63h1M138 66h1M129 68h1M142 68h1M138 66h1M146 64h1M157 67h1M137 68h1M142 68h1M135 69h1M139 66h1M141 67h1M128 67h1M132 71h1M149 65h1M142 64h1M137 70h1M146 67h1M153 66h1M150 65h1M132 70h1M139 69h1M127 70h1M132 72h1M137 72h1M139 70h1M143 68h1M139 67h1M158 68h1M133 70h1M143 66h1M130 70h1M141 66h1M155 63h1M143 69h1M134 69h1M139 66h1M138 70h1M136 72h1M155 67h1M157 70h1M144 72h1M150 65h1M144 66h1M127 69h1M138 67h1M136 67h1M128 69h1M143 63h1M132 70h1M137 71h1M135 67h1M127 68h1M150 67h1M132 69h1M144 69h1M133 68h1M157 67h1M139 65h1M142 67h1M141 66h1M159 68h1M139 72h1" stroke="#333" stroke-opacity="0.17"/>
<path d="M137 52h1M160 48h1M131 58h1M164 46h1M129 55h1M162 45h1M142 57h1M156 51h1M158 51h1M158 48h1M139 50h1M158 52h1M150 45h1M164 50h1M137 50h1M140 52h1M128 56h1M151 48h1M169 47h1M136 58h1M140 53h1M133 54h1M145 56h1M136 54h1M161 54h1M157 52h1M160 44h1M150 53h1M156 49h1M156 46h1M155 55h1M147 52h1M158 50h1M161 49h1M150 48h1M140 58h1M150 55h1M133 55h1M164 52h1M149 52h1M164 50h1M141 56h1M140 56h1M140 52h1M146 54h1M144 55h1M166 50h1M141 49h1M146 53h1M145 53h1M138 53h1M138 52h1M144 52h1M147 48h1M148 52h1M157 47h1M159 50h1M153 54h1M147 54h1M146 55h1M158 53h1M133 60h1M139 54h1M158 48h1M148 48h1M148 50h1M142 51h1M153 46h1M144 59h1M140 55h1M151 51h1M149 49h1M126 54h1M154 46h1M143 52h1M140 52h1M146 47h1M155 52h1M148 53h1M138 57h1M164 52h1M162 46h1M152 50h1M159 44h1M141 53h1M154 46h1M164 51h1M144 57h1M149 55h1M139 51h1M146 58h1M128 54h1M133 56h1M166 47h1M129 53h1M140 57h1M155 55h1M144 51h1M154 49h1M146 52h1M157 46h1M148 56h1M139 55h1M154 46h1M139 55h1M140 55h1M134 54h1M149 52h1M147 50h1M137 53h1M143 48h1M148 53h1M128 53h1M137 54h1M136 55h1M154 51h1M126 56h1M136 57h1M148 46h1M157 52h1M130 51h1M157 54h1M141 51h1M154 47h1M155 45h1M152 52h1M143 57h1M147 55h1M143 56h1M149 55h1M150 55h1M144 50h1M142 58h1M140 52h1M135 57h1M148 49h1M153 50h1M134 58h1M134 54h1M128 57h1M140 56h1M154 53h1M155 52h1M144 47h1M145 52h1M132 54h1M155 55h1M124 59h1M146 51h1M139 53h1M144 56h1M142 50h1M151 47h1M138 53h1M147 52h1M131 56h1M152 48h1M151 55h1M154 51h1M148 56h1M127 57h1M150 49h1M165 50h1M150 52h1M157 50h1M158 55h1M153 52h1M143 57h1M148 54h1M149 47h1M141 52h1M131 56h1M162 45h1M125 61h1M150 51h1M164 48h1M152 52h1M147 51h1M139 54h1M159 56h1M142 52h1M147 54h1M145 54h1M141 53h1M143 47h1M156 52h1M125 55h1M136 51h1M162 50h1M147 50h1M159 50h1M134 55h1M142 52h1M154 51h1M137 58h1M148 50h1M155 52h1M164 49h1M155 47h1M143 54h1M152 56h1M139 52h1M137 57h1M161 50h1M155 54h1M139 51h1M150 52h1M161 53h1M132 53h1M159 47h1M151 50h1M144 52h1M144 51h1M162 48h1M130 58h1M144 53h1M148 48h1M130 52h1M135 59h1M127 57h1M134 56h1M126 52h1M134 62h1M132 56h1M129 57h1M136 54h1M133 54h1M130 56h1M129 56h1M132 56h1M137 57h1M129 58h1M134 57h1M131 57h1M130 55h1M125 55h1M131 51h1M134 58h1M131 58h1M127 60h1M134 53h1M124 60h1M137 56h1M129 53h1M132 53h1M125 59h1M125 59h1M133 49h1M128 55h1M134 54h1M135 52h1M131 51h1M129 51h1M130 56h1M129 57h1M133 56h1M136 54h1M128 54h1M131 50h1M127 54h1M132 55h1M133 55h1M127 56h1M127 60h1M134 56h1M125 57h1M128 55h1M134 55h1M131 57h1M133 58h1M129 57h1M136 53h1M133 54h1M136 53h1M130 52h1M132 57h1M138 72h1M137 69h1M153 69h1M135 69h1M154 68h1M137 65h1M149 66h1M142 68h1M128 69h1M128 72h1M152 67h1M143 69h1M134 68h1M152 64h1M125 68h1M140 67h1M136 64h1M129 67h1M131 70h1M138 72h1M154 69h1M149 66h1M139 68h1M150 65h1M137 72h1M150 67h1M133 69h1M153 67h1M148 66h1M143 65h1M147 68h1M137 69h1M141 63h1M142 70h1M149 67h1M141 70h1M146 66h1M135 66h1M150 68h1M143 70h1M163 68h1M148 66h1M146 69h1M143 68h1M136 72h1M140 65h1M141 65h1M136 67h1M136 69h1M133 71h1M141 64h1M159 66h1M128 68h1M126 72h1M142 68h1M142 70h1M159 68h1M139 68h1M137 68h1M160 65h1M140 66h1M149 67h1M153 65h1M144 66h1M152 68h1M144 69h1M157 68h1M137 71h1M153 67h1M148 66h1M135 66h1M150 67h1M127 72h1M136 65h1M151 68h1M140 65h1M137 66h1M144 66h1M141 67h1M129 67h1M129 66h1M136 66h1M133 71h1M128 68h1M141 67h1M139 71h1M149 66h1M147 67h1M150 64h1M145 68h1M145 65h1M149 67h1M150 67h1M149 70h1M145 65h1M149 65h1M143 65h1M129 69h1M139 67h1" stroke="#333" stroke-opacity="0.17"/>
<path d="M153 54h1M148 51h1M145 55h1M147 54h1M125 59h1M139 55h1M139 53h1M131 54h1M157 54h1M156 51h1M143 56h1M154 47h1M159 52h1M138 53h1M160 47h1M148 56h1M143 55h1M169 48h1M145 51h1M158 51h1M145 50h1M146 56h1M143 51h1M157 44h1M153 49h1M156 52h1M133 51h1M159 49h1M147 52h1M167 51h1M131 59h1M160 51h1M150 54h1M146 53h1M161 46h1M168 44h1M141 55h1M146 54h1M130 56h1M139 48h1M143 58h1M149 48h1M124 58h1M145 52h1M144 57h1M168 47h1M132 58h1M143 55h1M151 53h1M139 49h1M144 49h1M138 52h1M136 53h1M144 51h1M158 51h1M160 55h1M161 49h1M139 52h1M138 55h1M140 54h1M153 46h1M147 46h1M143 52h1M133 56h1M133 53h1M141 57h1M165 44h1M147 54h1M152 46h1M155 54h1M146 53h1M153 52h1M140 51h1M145 50h1M156 45h1M135 51h1M144 54h1M158 54h1M160 53h1M144 48h1M152 52h1M151 52h1M157 52h1M145 52h1M139 55h1M163 49h1M172 45h1M136 57h1M155 56h1M129 59h1M126 53h1M155 54h1M132 55h1M136 57h1M147 49h1M143 50h1M148 54h1M127 54h1M152 55h1M145 52h1M147 58h1M147 47h1M138 55h1M146 49h1M169 48h1M147 52h1M161 50h1M166 48h1M146 48h1M162 48h1M148 57h1M148 48h1M159 49h1M157 54h1M131 59h1M149 52h1M137 56h1M137 54h1M140 59h1M152 57h1M134 55h1M148 51h1M147 52h1M130 55h1M147 47h1M154 46h1M141 60h1M164 47h1M146 56h1M161 54h1M137 55h1M154 51h1M134 54h1M141 51h1M168 47h1M153 55h1M146 53h1M148 55h1M147 47h1M144 54h1M148 52h1M155 55h1M158 53h1M170 44h1M142 53h1M141 51h1M141 53h1M152 53h1M144 58h1M137 56h1M132 56h1M167 51h1M150 55h1M155 49h1M130 54h1M142 54h1M162 49h1M153 49h1M155 50h1M146 50h1M156 49h1M148 55h1M136 55h1M153 46h1M144 54h1M142 50h1M126 57h1M158 50h1M149 55h1M159 49h1M130 53h1M145 52h1M155 50h1M149 53h1M153 52h1M157 54h1M149 53h1M133 60h1M138 56h1M160 52h1M132 59h1M129 55h1M139 51h1M139 57h1M148 52h1M149 49h1M144 49h1M156 56h1M149 49h1M141 57h1M131 52h1M150 51h1M129 53h1M132 57h1M147 56h1M150 49h1M163 46h1M136 54h1M138 61h1M144 51h1M163 49h1M143 53h1M140 50h1M154 48h1M150 49h1M136 60h1M150 53h1M150 53h1M130 58h1M128 57h1M154 46h1M132 55h1M146 52h1M139 50h1M131 57h1M141 56h1M148 47h1M131 58h1M127 57h1M137 57h1M135 60h1M128 56h1M132 60h1M132 55h1M135 53h1M129 57h1M131 52h1M132 61h1M127 52h1M128 59h1M138 58h1M136 53h1M128 60h1M132 55h1M131 53h1M136 51h1M129 58h1M131 54h1M127 56h1M126 52h1M136 58h1M128 54h1M129 54h1M131 55h1M134 55h1M138 56h1M139 54h1M134 58h1M136 52h1M135 56h1M133 52h1M133 54h1M129 53h1M126 57h1M129 59h1M136 57h1M135 56h1M129 58h1M128 60h1M134 55h1M134 55h1M131 54h1M129 52h1M126 59h1M135 54h1M132 61h1M128 59h1M126 57h1M129 59h1M130 59h1M130 56h1M138 53h1M139 58h1M129 56h1M131 55h1M128 56h1M133 70h1M139 68h1M130 69h1M140 64h1M150 65h1M140 71h1M132 67h1M135 65h1M132 66h1M145 71h1M141 69h1M146 67h1M151 66h1M133 66h1M156 69h1M151 65h1M152 67h1M161 67h1M139 64h1M135 67h1M133 66h1M149 69h1M148 68h1M145 65h1M139 66h1M143 65h1M158 65h1M128 66h1M140 68h1M136 69h1M144 69h1M125 69h1M153 67h1M134 66h1M132 71h1M150 70h1M140 64h1M130 68h1M140 68h1M155 68h1M140 67h1M136 70h1M144 67h1M137 70h1M141 66h1M148 68h1M160 67h1M138 70h1M156 65h1M132 69h1M136 67h1M154 66h1M160 68h1M152 67h1M139 70h1M149 64h1M140 71h1M152 65h1M144 67h1M140 72h1M146 70h1M144 71h1M137 69h1M144 68h1M144 67h1M130 67h1M145 67h1M158 66h1M126 67h1M144 66h1M133 67h1M147 71h1M132 66h1M141 68h1M155 66h1M130 66h1M147 70h1M132 68h1M140 71h1M143 70h1M145 65h1M136 65h1M134 69h1M147 68h1M134 70h1M150 67h1M132 67h1M148 68h1M147 71h1M130 70h1M135 68h1M141 71h1M147 68h1M127 69h1M138 64h1M149 68h1M127 66h1M144 67h1M139 70h1" stroke="#333" stroke-opacity="0.17"/>
<path d="M142 54h1M137 50h1M132 54h1M143 56h1M150 52h1M152 50h1M129 54h1M157 52h1M152 49h1M152 52h1M136 53h1M137 53h1M162 51h1M145 51h1M154 56h1M158 49h1M151 47h1M145 51h1M152 46h1M157 52h1M140 55h1M143 55h1M160 52h1M136 57h1M132 54h1M146 48h1M156 45h1M158 48h1M133 54h1M140 49h1M153 48h1M153 46h1M153 52h1M157 54h1M140 51h1M146 53h1M137 57h1M140 58h1M147 49h1M145 46h1M148 52h1M140 54h1M138 52h1M153 47h1M140 50h1M143 55h1M146 50h1M154 56h1M142 50h1M144 53h1M148 52h1M147 52h1M140 53h1M137 57h1M150 51h1M142 53h1M153 48h1M150 50h1M147 51h1M143 50h1M148 51h1M147 52h1M144 50h1M133 51h1M150 51h1M138 58h1M142 53h1M163 54h1M133 52h1M129 61h1M146 56h1M155 56h1M145 52h1M148 53h1M151 49h1M145 47h1M160 53h1M152 51h1M128 56h1M139 54h1M139 58h1M126 56h1M151 50h1M146 48h1M141 49h1M163 49h1M131 56h1M151 51h1M158 53h1M141 49h1M157 53h1M135 61h1M149 54h1M145 51h1M144 51h1M131 58h1M150 54h1M142 52h1M152 51h1M132 56h1M153 50h1M149 51h1M151 56h1M144 47h1M143 60h1M136 49h1M157 50h1M141 56h1M155 50h1M159 50h1M128 58h1M162 54h1M148 46h1M136 55h1M161 47h1M166 44h1M143 57h1M151 51h1M144 56h1M151 49h1M155 52h1M130 57h1M144 50h1M148 52h1M159 52h1M149 53h1M148 52h1M160 50h1M143 53h1M136 53h1M144 54h1M146 54h1M141 54h1M150 54h1M158 51h1M142 53h1M141 55h1M131 56h1M160 50h1M130 57h1M150 51h1M134 53h1M141 50h1M150 53h1M148 51h1M130 55h1M143 57h1M150 58h1M170 50h1M162 52h1M141 53h1M165 48h1M141 57h1M145 52h1M144 48h1M129 58h1M144 53h1M153 49h1M136 56h1M151 56h1M152 45h1M125 58h1M142 56h1M147 55h1M158 46h1M132 56h1M157 48h1M159 49h1M154 53h1M152 52h1M143 53h1M160 48h1M135 55h1M138 52h1M145 52h1M143 53h1M133 54h1M134 57h1M138 57h1M130 60h1M141 50h1M139 50h1M137 55h1M154 49h1M142 55h1M161 47h1M150 48h1M160 51h1M144 48h1M131 53h1M163 49h1M161 52h1M130 60h1M125 59h1M149 52h1M125 58h1M143 55h1M154 52h1M133 55h1M152 53h1M156 49h1M152 49h1M135 57h1M146 51h1M134 59h1M138 52h1M144 53h1M146 47h1M144 51h1M149 53h1M155 46h1M163 50h1M149 55h1M139 52h1M147 54h1M165 49h1M145 59h1M136 53h1M134 56h1M132 55h1M128 53h1M138 57h1M132 56h1M125 54h1M127 56h1M133 58h1M126 56h1M128 56h1M130 54h1M126 55h1M133 59h1M128 56h1M129 53h1M137 56h1M135 53h1M132 51h1M133 53h1M130 53h1M127 57h1M130 57h1M134 54h1M134 59h1M135 54h1M131 56h1M132 56h1M127 55h1M133 57h1M129 58h1M134 54h1M131 55h1M124 60h1M129 53h1M131 55h1M137 54h1M129 57h1M130 55h1M133 56h1M129 53h1M126 57h1M130 57h1M131 53h1M129 54h1M136 54h1M132 57h1M135 54h1M133 57h1M135 57h1M131 58h1M134 52h1M137 52h1M130 56h1M137 53h1M126 57h1M135 55h1M127 57h1M125 56h1M156 67h1M128 67h1M136 69h1M128 65h1M149 68h1M140 71h1M148 63h1M141 69h1M128 68h1M154 71h1M148 66h1M139 67h1M142 68h1M143 66h1M146 67h1M145 68h1M142 68h1M145 68h1M128 69h1M133 70h1M140 66h1M148 64h1M142 68h1M142 66h1M151 66h1M143 70h1M142 67h1M154 68h1M153 69h1M150 68h1M138 67h1M144 67h1M146 66h1M148 69h1M141 67h1M143 69h1M140 68h1M148 68h1M146 69h1M162 68h1M141 66h1M140 70h1M139 66h1M136 69h1M142 67h1M152 69h1M150 65h1M126 72h1M151 66h1M139 67h1M158 69h1M135 69h1M156 69h1M141 70h1M150 70h1M147 67h1M158 66h1M137 69h1M141 69h1M148 70h1M151 65h1M144 65h1M146 63h1M137 68h1M152 69h1M131 65h1M152 67h1M129 70h1M139 67h1M141 68h1M131 70h1M147 67h1M152 64h1M139 65h1M140 68h1M140 72h1M138 69h1M138 66h1M138 64h1M143 69h1M154 67h1M145 67h1M136 72h1M132 68h1M150 63h1M139 69h1M144 70h1M151 67h1M151 70h1M154 69h1M145 66h1M150 67h1M143 70h1M146 70h1M157 69h1M153 67h1M151 67h1M134 66h1" stroke="#333" stroke-opacity="0.17"/>
</g>
<rect x="123.30" y="25.30" width="66.60" height="48.90" fill="none" stroke="#333" stroke-width="0.8"/>
<line x1="123.30" y1="25.30" x2="123.30" y2="74.20" stroke="#111" stroke-width="1.15"/>
<line x1="123.30" y1="74.20" x2="189.90" y2="74.20" stroke="#111" stroke-width="1.15"/>
<rect x="123.30" y="43.60" width="46.50" height="18.10" fill="none" stroke="#222" stroke-width="0.95" rx="1"/>
<text x="148.4" y="40.1" font-size="6.30" text-anchor="middle" font-weight="bold" font-family="'Liberation Sans',sans-serif" fill="#000">81.8</text>
<text x="124.1" y="79.0" font-size="3.60" text-anchor="middle" font-weight="bold" font-family="'Liberation Serif',serif" fill="#222">1</text>
<text x="140.29999999999998" y="79.0" font-size="3.60" text-anchor="middle" font-weight="bold" font-family="'Liberation Serif',serif" fill="#222">10</text>
<text x="156.5" y="79.0" font-size="3.60" text-anchor="middle" font-weight="bold" font-family="'Liberation Serif',serif" fill="#222">100</text>
<text x="172.7" y="79.0" font-size="3.60" text-anchor="middle" font-weight="bold" font-family="'Liberation Serif',serif" fill="#222">1000</text>
<g filter="url(#sb)" transform="translate(0 .5)">
<path d="M232 52h1M221 47h1M216 52h1M207 53h1M214 54h1M225 53h1M226 51h1M213 50h1M202 57h1M227 49h1M212 57h1M215 55h1M232 47h1M208 49h1M218 53h1M225 47h1M220 52h1M193 56h1M215 47h1M195 57h1M220 54h1M214 56h1M211 52h1M214 48h1M220 48h1M220 49h1M222 53h1M226 49h1M205 55h1M215 51h1M212 52h1M236 43h1M211 48h1M214 57h1M210 49h1M217 50h1M229 54h1M207 54h1M207 52h1M212 51h1M224 50h1M213 54h1M224 51h1M216 53h1M212 55h1M223 48h1M226 53h1M195 57h1M212 55h1M214 55h1M222 52h1M201 53h1M208 53h1M209 51h1M216 52h1M217 55h1M219 53h1M228 47h1M233 47h1M223 52h1M207 54h1M200 55h1M239 48h1M213 50h1M211 49h1M216 49h1M196 56h1M210 54h1M208 52h1M216 54h1M215 53h1M212 55h1M207 60h1M210 50h1M217 52h1M210 49h1M225 46h1M203 53h1M227 47h1M239 44h1M209 54h1M227 50h1M228 50h1M220 50h1M220 55h1M220 49h1M197 56h1M224 53h1M233 51h1M205 56h1M205 53h1M208 51h1M203 49h1M193 57h1M195 61h1M210 56h1M210 54h1M207 57h1M217 52h1M217 53h1M237 47h1M224 55h1M208 53h1M201 49h1M223 46h1M220 51h1M211 53h1M219 49h1M210 49h1M204 52h1M228 47h1M205 49h1M230 49h1M207 53h1M224 53h1M205 52h1M203 58h1M203 52h1M210 56h1M225 52h1M216 51h1M223 56h1M217 52h1M202 56h1M228 48h1M206 52h1M221 47h1M194 59h1M210 56h1M215 53h1M211 50h1M210 55h1M201 53h1M209 58h1M218 47h1M223 51h1M230 46h1M211 54h1M224 55h1M211 49h1M204 57h1M214 55h1M203 55h1M235 46h1M219 49h1M205 54h1M221 53h1M218 46h1M229 44h1M207 53h1M206 53h1M226 47h1M208 53h1M207 49h1M223 49h1M223 51h1M218 50h1M201 54h1M219 52h1M232 48h1M208 54h1M200 57h1M232 53h1M211 51h1M232 47h1M216 53h1M208 57h1M206 52h1M207 48h1M207 51h1M207 54h1M229 47h1M224 50h1M197 57h1M212 53h1M213 58h1M194 60h1M209 54h1M228 54h1M209 54h1M206 49h1M207 55h1M231 50h1M217 51h1M226 54h1M213 54h1M218 50h1M194 54h1M225 50h1M228 46h1M220 54h1M215 49h1M212 54h1M224 53h1M218 56h1M218 48h1M209 56h1M205 53h1M219 52h1M214 53h1M218 49h1M221 47h1M204 59h1M204 54h1M205 54h1M233 51h1M218 53h1M199 53h1M212 56h1M217 56h1M192 54h1M222 50h1M222 49h1M225 50h1M211 50h1M203 55h1M222 49h1M193 58h1M207 58h1M197 58h1M200 52h1M216 49h1M214 56h1M197 55h1M221 50h1M196 54h1M227 45h1M204 57h1M202 55h1M202 55h1M196 53h1M206 55h1M202 59h1M197 59h1M198 56h1M201 57h1M200 54h1M196 55h1M198 51h1M195 54h1M193 58h1M202 55h1M207 55h1M197 57h1M195 59h1M203 57h1M201 53h1M194 53h1M200 51h1M203 55h1M199 54h1M194 59h1M197 52h1M203 55h1M199 55h1M201 55h1M200 54h1M203 55h1M197 56h1M193 54h1M201 54h1M200 52h1M193 59h1M200 52h1M197 58h1M194 53h1M200 51h1M192 58h1M197 55h1M202 59h1M204 57h1M195 55h1M195 61h1M206 55h1M204 55h1M196 56h1M202 59h1M198 57h1M199 55h1M202 56h1M202 55h1M202 56h1M199 60h1M197 53h1M204 52h1M200 57h1M199 56h1M204 51h1M198 54h1M195 57h1M200 59h1M199 70h1M209 67h1M202 65h1M209 68h1M219 65h1M206 68h1M196 69h1M199 69h1M205 64h1M209 66h1M207 70h1M208 66h1M195 68h1M206 68h1M201 68h1M217 67h1M201 72h1M205 68h1M200 66h1M213 67h1M198 67h1M205 71h1M198 69h1M210 67h1M196 66h1M202 63h1M212 68h1M215 68h1M197 70h1M193 72h1M204 65h1M205 72h1M201 68h1M204 69h1M203 67h1M205 67h1M203 64h1M208 65h1M208 63h1M212 64h1M202 68h1M196 66h1M209 70h1M213 66h1M206 68h1M204 69h1M210 63h1M213 69h1M202 67h1M210 65h1M207 67h1M200 67h1M204 66h1M205 69h1M205 69h1M209 69h1M198 70h1M204 66h1M205 72h1M193 70h1M202 66h1M202 65h1M206 68h1M214 68h1M205 72h1M202 67h1M207 70h1M205 69h1M200 68h1M201 67h1M205 68h1M219 67h1M206 66h1M209 67h1M206 68h1M205 68h1M193 70h1M195 66h1M192 68h1M210 66h1M212 72h1M196 65h1M207 69h1" stroke="#333" stroke-opacity="0.17"/>
<path d="M214 49h1M217 49h1M206 55h1M223 53h1M215 55h1M217 54h1M214 50h1M212 53h1M212 49h1M213 56h1M231 49h1M228 55h1M204 49h1M213 46h1M221 55h1M219 52h1M213 52h1M224 51h1M209 53h1M231 53h1M195 59h1M223 50h1M220 53h1M208 51h1M209 54h1M226 48h1M213 55h1M205 50h1M218 53h1M227 48h1M219 50h1M227 50h1M211 53h1M195 55h1M224 45h1M210 56h1M200 49h1M217 53h1M204 52h1M216 52h1M220 49h1M209 51h1M219 47h1M208 49h1M195 55h1M222 54h1M198 54h1M209 47h1M225 52h1M231 44h1M201 55h1M209 57h1M225 50h1M209 49h1M229 47h1M215 53h1M222 51h1M196 61h1M207 51h1M212 49h1M222 50h1M221 52h1M202 56h1M219 51h1M217 50h1M197 56h1M223 53h1M211 55h1M221 50h1M209 58h1M209 47h1M220 52h1M230 50h1M212 56h1M205 54h1M202 61h1M226 53h1M216 48h1M196 60h1M202 61h1M228 51h1M220 48h1M213 52h1M201 54h1M202 61h1M227 46h1M215 48h1M202 57h1M221 50h1M221 46h1M202 51h1M206 57h1M205 56h1M215 45h1M208 53h1M228 51h1M224 53h1M210 54h1M225 49h1M213 58h1M202 50h1M196 59h1M215 49h1M220 49h1M201 53h1M206 55h1M213 56h1M195 55h1M218 46h1M218 49h1M217 49h1M215 50h1M198 56h1M202 50h1M211 57h1M202 53h1M216 50h1M221 50h1M202 60h1M198 57h1M207 60h1M203 59h1M198 51h1M211 52h1M228 51h1M209 53h1M223 51h1M214 52h1M211 55h1M220 51h1M210 56h1M201 61h1M231 50h1M209 54h1M198 57h1M223 50h1M204 54h1M217 50h1M206 58h1M222 51h1M197 59h1M237 48h1M229 47h1M240 45h1M198 54h1M208 48h1M217 49h1M193 59h1M208 52h1M201 52h1M199 56h1M195 60h1M205 57h1M209 54h1M206 47h1M216 50h1M213 53h1M222 48h1M214 50h1M213 47h1M213 52h1M197 55h1M222 53h1M232 50h1M222 52h1M214 51h1M197 57h1M218 53h1M208 52h1M209 48h1M199 60h1M220 54h1M220 53h1M238 44h1M217 57h1M215 51h1M228 45h1M235 46h1M213 54h1M212 58h1M227 52h1M203 51h1M217 54h1M223 46h1M212 50h1M231 54h1M205 57h1M214 57h1M211 50h1M207 51h1M214 51h1M232 50h1M225 47h1M222 51h1M209 59h1M219 53h1M203 53h1M216 49h1M217 53h1M204 50h1M197 55h1M214 57h1M220 52h1M213 52h1M209 48h1M202 62h1M203 56h1M211 54h1M223 52h1M201 55h1M206 60h1M207 49h1M223 51h1M193 59h1M215 49h1M218 51h1M218 52h1M213 52h1M213 54h1M195 58h1M224 49h1M222 50h1M193 61h1M216 53h1M237 49h1M209 53h1M220 48h1M198 57h1M205 58h1M195 59h1M197 61h1M198 52h1M204 54h1M201 61h1M199 57h1M201 60h1M201 58h1M201 51h1M198 57h1M203 54h1M200 55h1M194 52h1M197 56h1M202 58h1M194 57h1M201 57h1M202 56h1M201 57h1M203 58h1M197 55h1M205 56h1M199 55h1M200 56h1M207 53h1M198 56h1M201 58h1M200 59h1M203 55h1M197 51h1M201 53h1M197 53h1M199 60h1M194 55h1M199 59h1M199 58h1M200 57h1M207 55h1M204 59h1M197 56h1M200 56h1M198 56h1M204 59h1M202 55h1M202 57h1M201 58h1M198 55h1M200 59h1M202 56h1M195 57h1M199 57h1M201 51h1M198 55h1M195 53h1M199 59h1M199 61h1M202 56h1M205 58h1M196 56h1M200 58h1M203 58h1M203 68h1M197 65h1M204 65h1M199 72h1M207 67h1M204 69h1M210 71h1M202 70h1M209 66h1M207 68h1M211 69h1M198 64h1M199 67h1M200 71h1M204 67h1M192 67h1M208 70h1M212 64h1M216 70h1M207 70h1M196 70h1M210 68h1M205 70h1M203 71h1M198 72h1M212 68h1M195 69h1M209 69h1M201 67h1M196 68h1M216 68h1M201 65h1M205 68h1M198 68h1M198 65h1M199 67h1M198 64h1M199 67h1M203 66h1M209 70h1M207 65h1M205 66h1M192 67h1M195 65h1M204 71h1M204 66h1M210 67h1M199 69h1M203 70h1M199 70h1M197 68h1M213 71h1M201 70h1M205 69h1M204 73h1M207 68h1M206 68h1M209 68h1M195 71h1M205 70h1M210 69h1M212 69h1M211 69h1M197 69h1M203 68h1M203 69h1M213 70h1M196 70h1M197 68h1M205 68h1M203 70h1M210 68h1M201 68h1M197 71h1M207 67h1M214 69h1M206 65h1M207 69h1M199 68h1M200 67h1M214 67h1M211 68h1M203 69h1" stroke="#333" stroke-opacity="0.17"/>
<path d="M223 49h1M230 54h1M209 54h1M195 51h1M200 54h1M210 58h1M213 49h1M217 56h1M210 50h1M204 54h1M220 52h1M198 52h1M212 53h1M206 61h1M211 47h1M212 49h1M230 46h1M221 53h1M227 47h1M208 53h1M209 54h1M224 50h1M223 54h1M223 54h1M199 56h1M205 50h1M202 53h1M213 54h1M219 52h1M203 60h1M229 44h1M213 46h1M217 53h1M208 55h1M200 52h1M224 48h1M218 57h1M200 52h1M201 58h1M230 52h1M219 52h1M221 51h1M214 48h1M230 49h1M214 54h1M213 49h1M228 51h1M212 49h1M203 51h1M209 50h1M230 49h1M211 52h1M219 51h1M217 57h1M203 49h1M225 50h1M226 53h1M214 53h1M212 55h1M228 52h1M207 57h1M210 51h1M210 50h1M204 57h1M217 50h1M217 47h1M211 49h1M209 53h1M208 58h1M211 50h1M217 53h1M228 50h1M201 52h1M218 52h1M213 50h1M222 51h1M222 51h1M221 51h1M209 55h1M226 48h1M204 51h1M208 51h1M206 55h1M214 53h1M205 53h1M225 49h1M219 54h1M220 56h1M220 50h1M198 55h1M197 60h1M228 52h1M212 50h1M194 54h1M226 49h1M222 51h1M222 48h1M207 53h1M205 55h1M216 52h1M205 53h1M209 51h1M232 51h1M214 56h1M216 52h1M225 52h1M203 58h1M197 57h1M225 49h1M207 58h1M208 50h1M205 58h1M210 53h1M217 53h1M202 59h1M225 50h1M213 57h1M207 56h1M198 59h1M229 48h1M211 49h1M212 51h1M208 55h1M214 51h1M204 48h1M221 55h1M207 60h1M220 50h1M219 50h1M230 54h1M212 52h1M205 55h1M215 55h1M222 52h1M212 57h1M237 50h1M221 53h1M228 49h1M206 53h1M217 54h1M207 49h1M200 54h1M212 49h1M204 56h1M220 54h1M221 46h1M221 47h1M216 54h1M222 50h1M198 57h1M203 53h1M216 49h1M196 54h1M218 56h1M213 55h1M196 54h1M225 46h1M226 47h1M219 56h1M211 54h1M221 50h1M214 54h1M214 55h1M229 52h1M203 54h1M210 52h1M219 54h1M203 52h1M216 47h1M219 49h1M204 53h1M206 55h1M214 55h1M222 49h1M229 50h1M207 58h1M205 57h1M217 52h1M231 43h1M204 55h1M208 54h1M194 57h1M225 52h1M199 51h1M213 57h1M204 55h1M216 51h1M221 50h1M225 53h1M211 50h1M198 59h1M237 45h1M222 45h1M210 48h1M229 50h1M199 58h1M208 58h1M216 49h1M213 50h1M221 50h1M210 56h1M207 49h1M220 54h1M201 56h1M212 52h1M224 49h1M209 51h1M220 55h1M202 50h1M213 59h1M204 60h1M196 53h1M229 50h1M234 53h1M220 49h1M221 52h1M228 53h1M208 55h1M212 53h1M227 51h1M207 53h1M225 52h1M221 47h1M218 47h1M208 51h1M232 45h1M216 49h1M199 56h1M198 57h1M202 56h1M197 58h1M199 60h1M200 56h1M192 53h1M206 55h1M206 53h1M202 53h1M196 56h1M201 61h1M198 54h1M200 57h1M196 56h1M196 54h1M195 60h1M198 58h1M201 56h1M199 54h1M198 58h1M197 54h1M198 57h1M203 52h1M198 58h1M203 52h1M200 53h1M202 56h1M195 52h1M199 56h1M196 55h1M195 57h1M202 58h1M202 51h1M199 56h1M193 54h1M204 54h1M201 59h1M198 58h1M206 58h1M199 55h1M205 56h1M195 58h1M193 58h1M193 59h1M205 53h1M204 54h1M202 52h1M199 58h1M204 51h1M205 53h1M202 58h1M207 54h1M200 57h1M198 58h1M198 55h1M207 56h1M197 56h1M202 55h1M193 55h1M204 57h1M201 53h1M199 57h1M200 67h1M214 64h1M203 69h1M199 69h1M206 67h1M199 65h1M196 68h1M215 65h1M207 70h1M210 71h1M199 68h1M207 73h1M208 69h1M202 70h1M214 68h1M216 70h1M216 65h1M205 68h1M209 68h1M204 64h1M197 66h1M200 67h1M215 67h1M205 70h1M198 71h1M197 66h1M198 68h1M202 69h1M213 70h1M208 67h1M216 67h1M201 71h1M206 70h1M209 71h1M204 71h1M205 65h1M214 69h1M203 69h1M205 71h1M207 64h1M210 65h1M207 68h1M203 69h1M197 65h1M205 71h1M206 64h1M200 70h1M203 70h1M207 67h1M199 67h1M205 67h1M208 66h1M202 64h1M204 64h1M210 66h1M203 70h1M201 69h1M203 68h1M201 69h1M205 66h1M213 66h1M207 71h1M202 67h1M195 70h1M196 68h1M213 69h1M204 68h1M209 65h1M211 70h1M212 70h1M202 71h1M201 66h1M210 67h1M202 67h1M203 66h1M203 68h1M204 67h1M205 70h1M213 67h1M208 66h1M204 69h1M199 67h1M200 66h1" stroke="#333" stroke-opacity="0.17"/>
<path d="M218 53h1M193 61h1M208 51h1M210 55h1M221 55h1M231 50h1M226 53h1M213 47h1M228 50h1M223 49h1M227 50h1M216 52h1M233 45h1M230 48h1M210 52h1M200 53h1M213 59h1M211 54h1M221 49h1M200 50h1M199 54h1M196 53h1M203 50h1M225 49h1M210 53h1M210 53h1M196 58h1M220 53h1M223 47h1M218 50h1M224 50h1M211 48h1M208 50h1M203 52h1M212 51h1M231 50h1M198 50h1M217 55h1M210 57h1M211 56h1M215 53h1M233 46h1M222 53h1M238 46h1M196 58h1M218 51h1M216 51h1M212 51h1M212 56h1M216 51h1M230 51h1M201 52h1M230 51h1M219 49h1M198 53h1M209 49h1M215 52h1M209 50h1M212 54h1M203 53h1M231 50h1M208 52h1M217 57h1M227 52h1M206 49h1M204 58h1M229 49h1M213 54h1M208 56h1M205 53h1M212 47h1M205 52h1M203 50h1M215 52h1M221 49h1M220 49h1M206 60h1M199 52h1M206 54h1M211 54h1M227 48h1M205 56h1M194 53h1M208 52h1M229 52h1M219 50h1M207 50h1M208 54h1M196 53h1M219 47h1M201 50h1M208 53h1M198 58h1M221 55h1M205 49h1M215 56h1M233 52h1M226 47h1M214 58h1M222 52h1M223 54h1M219 46h1M231 50h1M227 52h1M221 55h1M205 48h1M221 48h1M209 52h1M230 49h1M219 52h1M197 59h1M206 54h1M216 47h1M206 50h1M232 47h1M213 52h1M201 51h1M198 59h1M211 51h1M216 49h1M232 47h1M222 44h1M223 50h1M195 59h1M209 58h1M214 54h1M210 56h1M236 48h1M221 48h1M208 46h1M215 49h1M201 54h1M211 52h1M221 47h1M223 49h1M221 50h1M203 54h1M214 51h1M214 54h1M224 50h1M215 58h1M211 59h1M227 45h1M213 51h1M221 48h1M205 51h1M214 51h1M222 48h1M199 56h1M216 52h1M223 52h1M221 51h1M225 53h1M215 57h1M210 52h1M213 52h1M201 56h1M227 45h1M214 53h1M195 60h1M234 47h1M212 55h1M210 53h1M206 52h1M211 56h1M225 52h1M214 50h1M227 51h1M215 52h1M193 58h1M220 50h1M215 56h1M208 55h1M219 53h1M204 58h1M220 57h1M228 46h1M233 49h1M236 49h1M222 49h1M225 52h1M223 51h1M200 54h1M220 54h1M222 56h1M220 55h1M223 51h1M218 50h1M205 53h1M223 51h1M215 51h1M221 54h1M208 58h1M215 53h1M216 52h1M230 50h1M208 52h1M207 53h1M223 51h1M217 51h1M204 59h1M228 47h1M217 51h1M205 56h1M227 48h1M197 51h1M199 57h1M213 50h1M221 52h1M220 47h1M227 46h1M215 52h1M202 56h1M203 60h1M204 52h1M216 57h1M199 55h1M225 56h1M220 51h1M198 53h1M227 48h1M201 61h1M218 52h1M226 51h1M208 48h1M202 52h1M210 53h1M200 56h1M201 60h1M197 57h1M195 54h1M197 58h1M197 59h1M197 53h1M203 55h1M198 62h1M200 56h1M203 53h1M202 55h1M194 53h1M207 58h1M199 56h1M198 54h1M198 61h1M197 60h1M197 62h1M202 59h1M192 54h1M205 54h1M205 60h1M200 54h1M206 58h1M202 57h1M195 52h1M203 58h1M198 55h1M202 56h1M204 54h1M201 56h1M202 54h1M201 54h1M201 53h1M197 56h1M198 59h1M197 54h1M196 57h1M196 57h1M194 54h1M198 58h1M198 57h1M203 59h1M195 56h1M200 59h1M205 54h1M202 60h1M204 54h1M196 55h1M203 57h1M204 58h1M200 57h1M200 58h1M199 55h1M198 56h1M201 55h1M202 54h1M197 51h1M203 56h1M197 58h1M203 55h1M203 54h1M207 65h1M203 71h1M216 65h1M206 69h1M201 70h1M210 71h1M210 68h1M201 70h1M213 71h1M206 70h1M204 65h1M210 68h1M204 70h1M205 66h1M199 65h1M206 66h1M214 69h1M200 66h1M200 68h1M196 69h1M199 67h1M204 72h1M208 67h1M209 71h1M201 64h1M206 65h1M203 66h1M202 66h1M208 67h1M201 66h1M197 69h1M208 67h1M200 67h1M201 70h1M209 66h1M209 73h1M200 72h1M200 68h1M207 69h1M210 65h1M203 71h1M204 65h1M200 66h1M204 66h1M212 70h1M198 69h1M209 68h1M205 66h1M210 65h1M201 67h1M197 69h1M198 67h1M205 62h1M203 67h1M208 70h1M203 71h1M204 66h1M209 65h1M207 65h1M208 69h1M217 67h1M205 69h1M212 67h1M194 66h1M207 70h1M211 68h1M206 69h1M208 70h1M210 67h1M196 65h1M212 68h1M200 65h1M199 69h1M207 70h1M207 69h1M213 70h1M207 68h1M215 66h1M206 68h1M207 68h1M206 66h1M199 69h1M199 67h1" stroke="#333" stroke-opacity="0.17"/>
<path d="M207 49h1M222 47h1M199 60h1M208 58h1M205 61h1M210 57h1M219 53h1M209 50h1M220 55h1M206 50h1M198 57h1M218 50h1M219 50h1M200 52h1M211 54h1M216 51h1M200 54h1M213 50h1M212 53h1M229 51h1M212 53h1M226 48h1M234 52h1M208 56h1M222 53h1M214 51h1M229 53h1M208 51h1M220 48h1M220 50h1M210 46h1M202 58h1M219 45h1M199 57h1M207 55h1M213 57h1M217 56h1M216 54h1M219 54h1M218 55h1M236 45h1M215 56h1M221 50h1M217 49h1M196 57h1M195 52h1M206 53h1M209 61h1M220 55h1M210 53h1M207 52h1M198 57h1M207 57h1M221 44h1M221 47h1M212 52h1M217 54h1M194 53h1M223 54h1M221 48h1M202 60h1M213 57h1M203 54h1M201 60h1M226 47h1M215 52h1M221 58h1M204 50h1M210 54h1M228 49h1M196 59h1M197 59h1M226 46h1M211 56h1M201 55h1M225 53h1M224 48h1M226 50h1M230 49h1M230 48h1M207 49h1M212 53h1M211 54h1M196 53h1M201 56h1M211 52h1M201 52h1M193 55h1M212 54h1M206 60h1M209 49h1M212 51h1M212 56h1M225 51h1M209 51h1M206 50h1M205 54h1M239 47h1M223 51h1M220 53h1M216 55h1M211 51h1M216 54h1M203 55h1M212 54h1M203 51h1M211 53h1M200 53h1M222 52h1M201 58h1M215 48h1M220 52h1M212 58h1M210 49h1M210 56h1M209 56h1M215 52h1M219 50h1M213 50h1M211 57h1M205 52h1M199 59h1M221 51h1M217 51h1M202 56h1M200 50h1M211 52h1M213 45h1M202 51h1M222 48h1M223 51h1M221 49h1M228 49h1M201 53h1M214 48h1M204 51h1M205 55h1M236 50h1M206 52h1M206 57h1M211 51h1M208 56h1M201 57h1M212 55h1M207 56h1M199 52h1M226 49h1M214 55h1M214 56h1M219 53h1M199 54h1M228 51h1M211 48h1M227 47h1M214 57h1M213 54h1M207 55h1M230 47h1M207 52h1M205 51h1M224 49h1M207 56h1M224 50h1M223 53h1M211 59h1M230 47h1M218 48h1M203 53h1M220 50h1M224 50h1M224 47h1M234 51h1M203 51h1M192 58h1M218 52h1M216 51h1M202 49h1M219 54h1M223 51h1M222 52h1M234 49h1M203 58h1M209 55h1M207 59h1M228 47h1M202 53h1M204 55h1M204 53h1M221 53h1M220 47h1M201 58h1M205 52h1M229 48h1M208 57h1M218 52h1M216 49h1M215 50h1M215 59h1M231 48h1M212 50h1M209 54h1M215 51h1M218 54h1M204 56h1M208 51h1M231 50h1M227 50h1M217 53h1M200 54h1M228 51h1M204 57h1M201 57h1M231 44h1M217 52h1M215 58h1M227 50h1M214 57h1M208 53h1M204 57h1M208 52h1M206 56h1M209 53h1M219 48h1M207 53h1M210 53h1M211 50h1M213 50h1M200 61h1M202 54h1M205 58h1M208 54h1M197 57h1M201 57h1M200 57h1M205 52h1M202 60h1M202 53h1M203 53h1M194 57h1M198 55h1M195 60h1M197 59h1M199 55h1M199 60h1M200 53h1M197 55h1M198 52h1M203 59h1M202 61h1M199 56h1M207 53h1M206 59h1M201 56h1M200 59h1M204 61h1M196 55h1M199 56h1M198 55h1M204 56h1M202 57h1M202 54h1M204 59h1M197 58h1M197 56h1M197 62h1M199 59h1M197 53h1M197 57h1M201 57h1M202 53h1M204 54h1M200 54h1M201 52h1M196 58h1M200 55h1M202 56h1M203 56h1M195 60h1M199 57h1M200 55h1M202 57h1M201 56h1M201 50h1M197 60h1M195 60h1M197 51h1M200 51h1M201 59h1M197 56h1M199 58h1M206 70h1M213 65h1M200 67h1M196 70h1M214 65h1M203 67h1M198 67h1M208 70h1M206 67h1M206 69h1M208 64h1M216 65h1M200 66h1M205 67h1M200 69h1M210 69h1M207 70h1M217 70h1M203 64h1M195 69h1M196 71h1M200 67h1M193 68h1M193 69h1M196 67h1M206 68h1M207 67h1M213 71h1M207 72h1M208 67h1M204 67h1M216 71h1M209 67h1M202 68h1M204 68h1M212 70h1M214 68h1M204 71h1M205 67h1M205 63h1M195 70h1M215 68h1M205 64h1M195 68h1M193 68h1M202 71h1M208 67h1M207 68h1M206 64h1M201 70h1M210 70h1M205 68h1M206 71h1M203 72h1M199 68h1M204 68h1M213 70h1M205 65h1M203 71h1M195 67h1M204 67h1M209 65h1M206 65h1M208 68h1M196 65h1M211 66h1M208 67h1M204 70h1M200 66h1M201 67h1M210 70h1M209 69h1M210 66h1M199 66h1M202 65h1M215 66h1M199 68h1M217 68h1M205 67h1M199 69h1M209 70h1M201 71h1M211 68h1" stroke="#333" stroke-opacity="0.17"/>
</g>
<rect x="191.70" y="25.30" width="66.60" height="48.90" fill="none" stroke="#333" stroke-width="0.8"/>
<line x1="191.70" y1="25.30" x2="191.70" y2="74.20" stroke="#111" stroke-width="1.15"/>
<line x1="191.70" y1="74.20" x2="258.30" y2="74.20" stroke="#111" stroke-width="1.15"/>
<rect x="192.00" y="43.90" width="46.10" height="17.80" fill="none" stroke="#222" stroke-width="0.95" rx="1"/>
<text x="216.79999999999998" y="40.1" font-size="6.30" text-anchor="middle" font-weight="bold" font-family="'Liberation Sans',sans-serif" fill="#000">84.8</text>
<text x="192.5" y="79.0" font-size="3.60" text-anchor="middle" font-weight="bold" font-family="'Liberation Serif',serif" fill="#222">1</text>
<text x="208.7" y="79.0" font-size="3.60" text-anchor="middle" font-weight="bold" font-family="'Liberation Serif',serif" fill="#222">10</text>
<text x="224.9" y="79.0" font-size="3.60" text-anchor="middle" font-weight="bold" font-family="'Liberation Serif',serif" fill="#222">100</text>
<text x="241.1" y="79.0" font-size="3.60" text-anchor="middle" font-weight="bold" font-family="'Liberation Serif',serif" fill="#222">1000</text>
<g filter="url(#sb)" transform="translate(0 .5)">
<path d="M275 51h1M278 51h1M288 49h1M288 52h1M286 57h1M269 54h1M287 51h1M277 57h1M296 52h1M280 53h1M282 48h1M301 49h1M280 50h1M268 58h1M298 53h1M278 54h1M266 53h1M282 60h1M270 55h1M284 47h1M281 57h1M280 53h1M287 52h1M279 52h1M262 61h1M268 56h1M279 52h1M272 57h1M280 50h1M275 57h1M278 57h1M271 54h1M287 56h1M276 51h1M289 49h1M277 53h1M277 53h1M284 50h1M279 56h1M287 53h1M277 55h1M288 56h1M274 55h1M279 49h1M267 56h1M296 50h1M276 50h1M284 51h1M286 55h1M285 52h1M294 51h1M284 53h1M292 52h1M280 56h1M274 57h1M261 60h1M287 52h1M275 51h1M277 53h1M298 51h1M273 58h1M285 49h1M270 58h1M285 53h1M272 54h1M290 47h1M291 49h1M281 59h1M281 53h1M293 51h1M293 50h1M282 55h1M285 54h1M284 56h1M268 55h1M293 52h1M273 60h1M289 52h1M290 49h1M287 50h1M269 55h1M277 53h1M283 52h1M286 49h1M274 55h1M282 53h1M269 51h1M271 57h1M275 48h1M285 50h1M271 56h1M276 54h1M285 52h1M266 56h1M267 61h1M263 57h1M282 58h1M303 48h1M269 57h1M292 54h1M293 48h1M287 52h1M280 57h1M298 52h1M274 55h1M297 49h1M272 53h1M282 52h1M298 53h1M281 52h1M278 52h1M268 53h1M281 55h1M284 48h1M281 52h1M264 58h1M282 51h1M269 53h1M279 54h1M292 56h1M269 57h1M269 56h1M288 54h1M286 53h1M292 45h1M285 47h1M281 47h1M292 52h1M274 54h1M284 49h1M286 56h1M291 50h1M275 59h1M303 48h1M273 56h1M295 52h1M273 55h1M290 50h1M273 56h1M301 45h1M277 51h1M291 53h1M280 49h1M284 51h1M296 55h1M285 47h1M303 49h1M283 50h1M271 55h1M288 53h1M287 49h1M282 53h1M269 60h1M280 52h1M282 51h1M301 51h1M273 55h1M285 48h1M274 53h1M303 51h1M273 52h1M289 50h1M290 54h1M287 57h1M273 54h1M288 54h1M267 52h1M275 51h1M281 54h1M270 56h1M270 51h1M280 55h1M286 52h1M289 51h1M298 54h1M287 55h1M274 51h1M297 48h1M287 49h1M295 54h1M285 48h1M270 53h1M284 55h1M298 53h1M262 61h1M279 55h1M285 55h1M286 54h1M291 52h1M292 50h1M265 59h1M274 53h1M263 55h1M270 55h1M269 51h1M262 57h1M273 51h1M291 55h1M277 52h1M269 56h1M269 54h1M277 51h1M272 54h1M270 57h1M275 58h1M302 51h1M271 55h1M295 50h1M295 46h1M292 53h1M277 54h1M284 54h1M277 58h1M272 56h1M276 52h1M284 52h1M276 58h1M268 58h1M262 56h1M264 57h1M269 58h1M264 56h1M263 52h1M263 60h1M274 57h1M270 56h1M272 58h1M266 55h1M261 57h1M266 54h1M270 55h1M262 55h1M269 57h1M264 58h1M264 51h1M264 53h1M267 56h1M264 61h1M265 56h1M275 58h1M266 55h1M272 51h1M262 53h1M269 57h1M266 55h1M269 53h1M262 54h1M270 54h1M263 61h1M267 56h1M267 57h1M271 56h1M267 55h1M262 57h1M270 55h1M266 53h1M269 60h1M267 54h1M262 53h1M273 57h1M270 60h1M271 56h1M267 56h1M268 55h1M267 55h1M267 57h1M267 57h1M266 53h1M265 61h1M262 58h1M268 51h1M262 58h1M263 56h1M275 58h1M270 58h1M269 58h1M272 52h1M264 56h1M266 56h1M266 68h1M272 70h1M268 71h1M267 63h1M271 69h1M265 67h1M267 70h1M270 66h1M271 70h1M273 69h1M266 68h1M265 68h1M264 70h1M269 68h1M263 67h1M268 69h1M276 72h1M263 65h1M276 65h1M265 68h1M266 70h1M273 67h1M278 66h1M269 64h1M277 64h1M267 68h1M272 71h1M278 67h1M269 67h1M282 68h1M277 66h1M269 72h1M264 67h1M267 66h1M274 70h1M270 69h1M265 67h1M272 70h1M273 67h1M274 69h1M278 67h1M272 68h1M264 72h1M265 65h1M281 66h1M279 72h1M269 67h1M266 70h1M277 72h1M265 70h1M275 68h1M267 63h1M268 65h1M268 69h1M270 73h1M267 69h1M279 66h1M264 69h1" stroke="#333" stroke-opacity="0.17"/>
<path d="M273 60h1M275 57h1M278 54h1M288 50h1M298 53h1M276 57h1M264 56h1M268 55h1M262 55h1M275 54h1M269 55h1M293 50h1M291 50h1M278 57h1M264 55h1M281 54h1M297 53h1M291 55h1M286 51h1M270 52h1M282 51h1M293 47h1M289 58h1M278 53h1M283 55h1M280 59h1M289 58h1M289 58h1M300 49h1M269 53h1M296 46h1M279 56h1M266 51h1M286 48h1M284 50h1M275 51h1M296 52h1M293 50h1M286 55h1M285 54h1M298 47h1M282 45h1M272 60h1M276 48h1M276 58h1M277 57h1M264 54h1M282 49h1M280 54h1M291 49h1M283 54h1M267 57h1M296 50h1M286 52h1M282 53h1M294 50h1M280 54h1M275 56h1M290 52h1M283 55h1M276 52h1M273 58h1M280 53h1M291 50h1M275 49h1M276 51h1M282 51h1M282 56h1M281 54h1M300 53h1M285 52h1M290 51h1M289 51h1M271 52h1M272 51h1M289 49h1M279 57h1M273 56h1M273 59h1M277 58h1M281 49h1M279 58h1M290 49h1M262 58h1M280 54h1M284 49h1M275 56h1M291 53h1M280 53h1M291 55h1M292 51h1M274 55h1M271 58h1M288 49h1M291 47h1M292 49h1M283 54h1M264 57h1M286 49h1M262 59h1M273 52h1M281 59h1M266 59h1M293 56h1M291 51h1M290 53h1M261 57h1M273 51h1M270 55h1M276 49h1M274 54h1M275 52h1M283 51h1M274 55h1M279 52h1M284 50h1M277 54h1M276 55h1M286 55h1M271 49h1M275 61h1M284 47h1M271 56h1M295 49h1M274 52h1M294 53h1M294 49h1M286 52h1M296 50h1M292 55h1M281 59h1M272 56h1M273 48h1M287 53h1M287 57h1M294 50h1M276 52h1M292 48h1M280 52h1M299 50h1M294 48h1M268 60h1M268 55h1M299 51h1M264 59h1M271 54h1M279 51h1M275 57h1M270 49h1M293 49h1M274 53h1M302 50h1M284 57h1M275 56h1M284 51h1M286 54h1M269 51h1M275 57h1M274 51h1M261 58h1M284 54h1M287 51h1M268 57h1M299 47h1M278 51h1M265 52h1M273 61h1M297 52h1M284 55h1M261 58h1M284 56h1M285 52h1M291 52h1M284 49h1M285 53h1M278 56h1M296 49h1M268 58h1M296 46h1M276 57h1M275 55h1M278 53h1M267 59h1M271 57h1M276 47h1M290 44h1M277 54h1M294 50h1M296 45h1M286 48h1M269 56h1M274 56h1M277 56h1M274 53h1M268 52h1M275 50h1M286 49h1M275 49h1M284 48h1M283 57h1M272 55h1M265 55h1M276 52h1M284 51h1M284 60h1M287 52h1M269 52h1M300 52h1M289 53h1M288 49h1M281 57h1M277 49h1M289 52h1M280 57h1M279 55h1M276 49h1M270 59h1M267 54h1M269 56h1M269 52h1M261 58h1M264 54h1M270 53h1M267 54h1M264 58h1M268 57h1M261 57h1M267 54h1M265 57h1M270 57h1M264 57h1M271 56h1M264 56h1M270 59h1M267 59h1M271 57h1M275 56h1M263 58h1M274 56h1M264 57h1M273 59h1M267 56h1M276 57h1M272 54h1M275 57h1M266 57h1M272 56h1M264 56h1M274 59h1M270 53h1M264 56h1M267 57h1M265 56h1M269 58h1M265 56h1M266 58h1M267 55h1M270 56h1M266 52h1M266 61h1M267 56h1M265 56h1M270 53h1M271 55h1M268 55h1M264 55h1M267 57h1M271 58h1M271 58h1M263 55h1M266 56h1M266 58h1M272 57h1M266 60h1M269 61h1M267 54h1M264 54h1M269 54h1M269 54h1M271 68h1M271 66h1M271 68h1M268 68h1M273 66h1M267 70h1M273 65h1M270 66h1M282 65h1M279 70h1M267 71h1M280 67h1M273 70h1M271 73h1M270 68h1M277 70h1M267 68h1M276 72h1M264 67h1M275 66h1M268 67h1M268 67h1M263 65h1M262 68h1M274 65h1M264 69h1M272 66h1M274 72h1M270 73h1M267 69h1M263 66h1M275 72h1M270 72h1M277 67h1M263 68h1M271 69h1M262 68h1M272 67h1M269 67h1M267 69h1M263 67h1M278 63h1M274 69h1M271 70h1M276 67h1M266 69h1M269 68h1M268 69h1M269 69h1M272 71h1M271 69h1M265 69h1M275 70h1M270 73h1M269 70h1M265 65h1M273 68h1M261 70h1" stroke="#333" stroke-opacity="0.17"/>
<path d="M267 57h1M269 56h1M280 53h1M294 46h1M280 51h1M280 53h1M292 49h1M290 53h1M290 50h1M288 50h1M266 60h1M273 53h1M280 55h1M284 52h1M298 49h1M292 52h1M285 51h1M302 52h1M272 51h1M293 50h1M282 55h1M281 52h1M274 54h1M293 46h1M278 53h1M301 49h1M287 56h1M286 51h1M276 58h1M280 53h1M297 52h1M283 52h1M285 55h1M277 52h1M277 58h1M295 51h1M285 53h1M275 55h1M275 47h1M281 48h1M271 54h1M278 52h1M290 48h1M263 61h1M284 51h1M287 53h1M292 49h1M283 53h1M279 57h1M300 48h1M279 58h1M303 46h1M270 58h1M278 48h1M288 53h1M269 55h1M277 52h1M276 56h1M276 53h1M265 61h1M276 58h1M270 50h1M287 51h1M280 48h1M285 52h1M287 49h1M297 47h1M275 52h1M265 60h1M275 54h1M289 49h1M290 50h1M282 51h1M279 55h1M277 53h1M295 51h1M296 44h1M283 53h1M284 51h1M281 56h1M273 57h1M293 55h1M272 56h1M283 54h1M280 47h1M297 50h1M282 53h1M273 55h1M264 58h1M272 51h1M279 49h1M295 51h1M262 57h1M293 55h1M272 54h1M288 50h1M271 61h1M290 56h1M277 59h1M284 50h1M297 51h1M283 50h1M274 53h1M280 49h1M285 58h1M296 51h1M278 53h1M282 58h1M262 54h1M285 52h1M288 53h1M283 51h1M286 46h1M270 59h1M303 47h1M292 52h1M276 50h1M270 52h1M298 50h1M282 54h1M281 50h1M265 56h1M265 59h1M288 49h1M277 55h1M287 51h1M268 54h1M284 49h1M296 47h1M284 53h1M277 51h1M291 51h1M276 49h1M286 58h1M299 48h1M294 48h1M288 49h1M280 54h1M269 60h1M293 54h1M265 56h1M286 50h1M295 53h1M281 56h1M289 48h1M288 53h1M300 50h1M283 51h1M292 53h1M287 51h1M268 55h1M290 52h1M282 51h1M284 54h1M287 52h1M267 51h1M282 52h1M296 50h1M293 51h1M269 56h1M288 48h1M283 54h1M277 49h1M293 49h1M263 58h1M291 53h1M273 56h1M283 47h1M295 52h1M285 52h1M270 54h1M275 49h1M288 53h1M298 45h1M288 49h1M285 52h1M273 52h1M272 61h1M281 53h1M272 52h1M300 44h1M268 54h1M295 52h1M285 46h1M281 55h1M281 55h1M283 58h1M291 50h1M279 54h1M288 55h1M276 56h1M282 52h1M286 52h1M277 58h1M274 57h1M287 49h1M281 58h1M270 53h1M276 57h1M285 53h1M291 48h1M281 53h1M304 51h1M286 53h1M266 59h1M270 54h1M273 56h1M281 55h1M279 53h1M275 54h1M271 55h1M305 48h1M293 48h1M287 49h1M278 53h1M290 54h1M268 58h1M262 55h1M265 53h1M263 59h1M264 56h1M269 57h1M263 56h1M268 56h1M261 58h1M262 57h1M266 57h1M266 56h1M265 54h1M265 52h1M269 58h1M269 57h1M268 56h1M263 59h1M270 55h1M271 53h1M266 55h1M268 60h1M273 56h1M269 54h1M267 54h1M267 56h1M264 59h1M262 60h1M263 57h1M265 59h1M269 59h1M268 58h1M263 61h1M268 50h1M271 56h1M267 56h1M268 58h1M275 53h1M263 55h1M275 56h1M268 58h1M265 55h1M269 53h1M269 58h1M268 57h1M269 53h1M273 54h1M272 54h1M267 57h1M267 62h1M272 55h1M263 61h1M266 50h1M269 57h1M264 54h1M272 55h1M270 53h1M270 50h1M270 55h1M265 60h1M264 52h1M272 54h1M267 56h1M268 66h1M273 69h1M278 66h1M264 66h1M277 66h1M268 67h1M274 70h1M279 70h1M268 68h1M262 65h1M265 66h1M273 65h1M280 68h1M279 71h1M277 68h1M273 70h1M275 66h1M279 68h1M269 70h1M276 71h1M276 69h1M268 70h1M280 65h1M280 66h1M266 69h1M273 64h1M269 66h1M274 66h1M264 70h1M265 68h1M271 73h1M270 65h1M275 67h1M269 67h1M271 68h1M271 71h1M266 64h1M271 69h1M267 67h1M275 70h1M270 68h1M268 71h1M274 69h1M270 67h1M276 68h1M262 68h1M271 65h1M275 67h1M266 68h1M263 67h1M274 65h1M262 68h1M275 67h1M276 70h1M269 68h1M278 67h1M271 66h1M272 69h1" stroke="#333" stroke-opacity="0.17"/>
<path d="M275 56h1M281 54h1M270 60h1M264 56h1M293 47h1M286 50h1M273 60h1M269 53h1M276 54h1M272 50h1M262 53h1M275 54h1M280 51h1M281 51h1M285 49h1M277 54h1M276 57h1M277 54h1M287 50h1M279 55h1M292 55h1M295 53h1M274 52h1M285 54h1M291 49h1M271 54h1M270 58h1M269 51h1M273 53h1M290 51h1M264 58h1M282 60h1M293 44h1M267 55h1M289 58h1M283 54h1M301 48h1M292 48h1M268 51h1M289 51h1M295 51h1M283 56h1M277 55h1M280 52h1M301 52h1M279 53h1M266 57h1M284 51h1M286 48h1M282 49h1M289 45h1M280 56h1M285 51h1M279 56h1M283 56h1M280 53h1M290 54h1M268 51h1M273 56h1M276 55h1M275 57h1M290 52h1M291 49h1M286 52h1M268 54h1M283 51h1M285 50h1M268 52h1M286 46h1M274 55h1M278 51h1M273 59h1M277 55h1M278 54h1M282 52h1M300 48h1M304 47h1M285 53h1M289 55h1M290 46h1M282 53h1M271 50h1M288 56h1M280 57h1M297 54h1M276 61h1M290 51h1M290 53h1M274 56h1M281 51h1M300 45h1M291 48h1M277 53h1M271 55h1M270 59h1M268 57h1M296 50h1M283 50h1M296 49h1M299 45h1M301 44h1M278 53h1M286 55h1M292 46h1M274 59h1M291 49h1M275 52h1M273 60h1M296 46h1M277 55h1M272 54h1M274 54h1M282 53h1M266 58h1M281 55h1M272 58h1M290 50h1M279 54h1M280 50h1M301 48h1M270 54h1M273 58h1M287 51h1M264 53h1M297 51h1M297 53h1M291 51h1M279 56h1M280 50h1M277 56h1M296 55h1M282 53h1M282 48h1M281 53h1M299 49h1M290 56h1M282 49h1M286 50h1M268 55h1M292 49h1M273 52h1M285 52h1M290 51h1M270 57h1M278 50h1M281 49h1M281 55h1M277 54h1M288 53h1M292 52h1M279 51h1M287 54h1M300 46h1M264 57h1M282 54h1M287 54h1M277 49h1M277 54h1M266 60h1M276 55h1M301 49h1M277 48h1M286 54h1M269 59h1M289 52h1M275 55h1M293 47h1M291 54h1M288 51h1M283 49h1M282 49h1M280 49h1M299 46h1M274 51h1M286 53h1M281 53h1M270 55h1M270 54h1M279 53h1M279 53h1M270 60h1M280 60h1M280 54h1M274 55h1M283 53h1M291 51h1M272 58h1M288 54h1M267 52h1M262 54h1M274 55h1M289 51h1M270 58h1M290 51h1M284 56h1M287 49h1M290 47h1M289 52h1M270 54h1M264 56h1M279 51h1M281 54h1M277 60h1M291 50h1M265 58h1M285 54h1M286 54h1M294 52h1M277 58h1M280 56h1M273 56h1M280 54h1M282 56h1M281 53h1M282 52h1M289 53h1M268 58h1M264 53h1M264 56h1M271 53h1M271 53h1M271 52h1M269 58h1M264 54h1M266 54h1M267 57h1M265 53h1M272 53h1M265 53h1M266 60h1M264 59h1M269 56h1M270 59h1M264 53h1M271 54h1M265 59h1M267 56h1M270 51h1M265 59h1M271 59h1M263 53h1M270 54h1M270 58h1M265 53h1M265 51h1M264 53h1M265 58h1M265 57h1M264 58h1M262 56h1M266 53h1M270 58h1M264 54h1M263 59h1M269 54h1M269 56h1M270 51h1M269 53h1M265 57h1M264 51h1M266 57h1M267 61h1M270 56h1M270 54h1M264 55h1M262 56h1M269 55h1M271 58h1M273 57h1M264 55h1M262 59h1M267 53h1M262 58h1M261 57h1M274 56h1M273 52h1M268 55h1M266 54h1M273 71h1M269 68h1M274 70h1M268 70h1M269 67h1M264 69h1M269 68h1M269 67h1M269 68h1M265 65h1M278 67h1M264 69h1M266 67h1M273 70h1M271 67h1M268 69h1M272 69h1M273 70h1M265 67h1M275 67h1M270 66h1M271 67h1M270 64h1M266 65h1M280 70h1M275 66h1M276 65h1M269 69h1M275 69h1M275 68h1M274 64h1M266 71h1M271 65h1M280 69h1M269 68h1M270 72h1M279 69h1M272 65h1M274 66h1M264 65h1M269 66h1M275 65h1M271 70h1M273 72h1M273 70h1M273 67h1M262 69h1M275 66h1M270 70h1M263 65h1M271 65h1M261 72h1M271 69h1M284 68h1M265 68h1M266 68h1M270 66h1M277 63h1" stroke="#333" stroke-opacity="0.17"/>
<path d="M268 61h1M290 46h1M278 52h1M297 49h1M280 53h1M288 48h1M280 47h1M275 56h1M288 49h1M275 55h1M290 50h1M270 57h1M284 55h1M289 56h1M272 52h1M282 59h1M266 54h1M277 57h1M284 52h1M268 55h1M293 48h1M279 57h1M287 51h1M283 48h1M275 52h1M296 55h1M279 55h1M275 55h1M291 48h1M282 49h1M268 53h1M281 50h1M283 53h1M277 52h1M297 51h1M268 53h1M288 52h1M280 53h1M272 58h1M272 57h1M279 54h1M291 47h1M281 59h1M276 54h1M276 57h1M282 46h1M275 54h1M277 52h1M289 53h1M270 58h1M270 57h1M294 46h1M295 48h1M296 46h1M290 48h1M278 52h1M304 48h1M269 57h1M281 54h1M273 59h1M267 51h1M295 53h1M276 52h1M279 52h1M298 49h1M279 52h1M266 55h1M303 52h1M280 51h1M294 50h1M281 52h1M276 56h1M286 51h1M288 48h1M279 50h1M287 49h1M295 49h1M293 56h1M289 52h1M277 56h1M270 53h1M269 57h1M282 55h1M284 52h1M284 53h1M266 55h1M273 50h1M279 51h1M284 52h1M266 55h1M290 57h1M304 50h1M282 56h1M279 55h1M270 54h1M272 55h1M289 57h1M278 52h1M294 52h1M294 47h1M285 47h1M286 52h1M284 53h1M273 51h1M292 51h1M292 53h1M269 56h1M280 59h1M288 46h1M291 49h1M288 57h1M292 51h1M283 48h1M281 53h1M284 56h1M275 55h1M294 48h1M267 55h1M288 55h1M284 48h1M287 47h1M284 54h1M269 51h1M295 53h1M285 53h1M283 52h1M275 55h1M281 53h1M282 52h1M280 59h1M286 50h1M279 54h1M281 54h1M272 50h1M266 57h1M301 53h1M266 53h1M291 48h1M284 52h1M296 51h1M286 54h1M290 53h1M284 52h1M279 50h1M292 51h1M292 51h1M289 52h1M288 51h1M288 51h1M272 48h1M288 49h1M284 54h1M273 53h1M285 50h1M293 48h1M264 57h1M275 58h1M288 56h1M287 50h1M291 52h1M281 52h1M287 55h1M285 52h1M274 53h1M288 57h1M292 51h1M283 49h1M285 51h1M292 52h1M287 53h1M281 55h1M290 53h1M274 52h1M262 56h1M284 50h1M275 51h1M289 54h1M287 56h1M274 50h1M281 53h1M283 50h1M285 53h1M282 53h1M283 52h1M266 58h1M288 49h1M288 48h1M283 50h1M266 52h1M276 59h1M268 58h1M272 53h1M292 49h1M286 55h1M275 60h1M286 54h1M284 50h1M277 54h1M271 53h1M283 54h1M293 48h1M284 49h1M299 49h1M281 49h1M290 49h1M273 56h1M275 60h1M279 50h1M282 56h1M283 51h1M286 56h1M289 52h1M287 52h1M273 55h1M298 47h1M271 57h1M269 57h1M267 62h1M262 58h1M269 51h1M266 58h1M269 59h1M274 56h1M264 53h1M273 59h1M270 58h1M274 54h1M265 56h1M263 57h1M275 54h1M268 50h1M267 53h1M269 55h1M264 53h1M269 55h1M263 57h1M271 59h1M266 56h1M273 59h1M273 57h1M271 55h1M274 55h1M267 55h1M262 58h1M265 55h1M267 57h1M267 58h1M272 56h1M262 55h1M274 55h1M264 59h1M264 53h1M264 57h1M272 57h1M266 55h1M275 55h1M264 55h1M271 53h1M272 56h1M267 54h1M272 51h1M273 54h1M270 53h1M266 55h1M262 54h1M266 57h1M268 53h1M267 55h1M270 52h1M265 56h1M275 52h1M264 57h1M270 56h1M263 57h1M266 58h1M269 59h1M268 55h1M265 55h1M265 66h1M268 64h1M281 69h1M277 69h1M282 67h1M268 69h1M273 64h1M281 68h1M273 67h1M267 65h1M268 69h1M270 67h1M280 68h1M266 71h1M274 67h1M267 67h1M266 67h1M267 72h1M271 66h1M270 72h1M270 68h1M277 67h1M267 65h1M265 68h1M278 64h1M268 67h1M263 68h1M277 67h1M267 72h1M281 71h1M270 69h1M272 71h1M269 69h1M271 68h1M270 67h1M267 69h1M268 68h1M268 65h1M268 63h1M268 69h1M270 69h1M274 67h1M281 69h1M273 67h1M272 69h1M275 69h1M275 67h1M268 69h1M274 68h1M268 71h1M268 71h1M273 70h1M267 65h1M270 70h1M272 68h1M272 66h1M272 68h1M275 67h1" stroke="#333" stroke-opacity="0.17"/>
</g>
<rect x="260.40" y="25.30" width="66.60" height="48.90" fill="none" stroke="#333" stroke-width="0.8"/>
<line x1="260.40" y1="25.30" x2="260.40" y2="74.20" stroke="#111" stroke-width="1.15"/>
<line x1="260.40" y1="74.20" x2="327.00" y2="74.20" stroke="#111" stroke-width="1.15"/>
<rect x="260.70" y="42.50" width="46.30" height="19.00" fill="none" stroke="#222" stroke-width="0.95" rx="1"/>
<text x="285.5" y="39.5" font-size="6.30" text-anchor="middle" font-weight="bold" font-family="'Liberation Sans',sans-serif" fill="#000">84.1</text>
<text x="261.2" y="79.0" font-size="3.60" text-anchor="middle" font-weight="bold" font-family="'Liberation Serif',serif" fill="#222">1</text>
<text x="277.4" y="79.0" font-size="3.60" text-anchor="middle" font-weight="bold" font-family="'Liberation Serif',serif" fill="#222">10</text>
<text x="293.59999999999997" y="79.0" font-size="3.60" text-anchor="middle" font-weight="bold" font-family="'Liberation Serif',serif" fill="#222">100</text>
<text x="309.79999999999995" y="79.0" font-size="3.60" text-anchor="middle" font-weight="bold" font-family="'Liberation Serif',serif" fill="#222">1000</text>
<g filter="url(#sb)" transform="translate(0 .5)">
<path d="M82 110h1M79 110h1M85 112h1M68 117h1M86 117h1M79 111h1M83 113h1M75 110h1M77 113h1M70 114h1M79 111h1M79 113h1M90 112h1M75 109h1M80 111h1M81 108h1M79 111h1M73 108h1M64 112h1M82 112h1M78 112h1M82 115h1M71 115h1M83 114h1M81 115h1M86 110h1M78 113h1M68 110h1M80 113h1M82 115h1M84 114h1M77 113h1M72 109h1M71 112h1M72 113h1M74 113h1M76 115h1M83 113h1M69 110h1M71 115h1M64 113h1M83 114h1M82 115h1M67 112h1M82 109h1M65 114h1M94 114h1M67 113h1M76 111h1M66 112h1M69 117h1M82 111h1M89 110h1M73 113h1M69 112h1M75 115h1M79 118h1M75 116h1M78 114h1M77 117h1M65 115h1M72 116h1M78 109h1M61 112h1M68 111h1M75 111h1M77 110h1M64 112h1M76 114h1M79 113h1M68 111h1M81 113h1M73 112h1M59 111h1M76 109h1M82 115h1M71 115h1M76 111h1M86 114h1M75 112h1M74 110h1M81 115h1M72 113h1M71 112h1M60 122h1M73 122h1M77 120h1M73 121h1M87 119h1M65 121h1M65 122h1M60 119h1M79 122h1M77 122h1M84 122h1M91 125h1M76 123h1M94 124h1M61 118h1M80 120h1M72 119h1M68 122h1M79 121h1M91 123h1M57 120h1M86 122h1M74 123h1M79 119h1M65 119h1M77 120h1M84 122h1M79 122h1M87 123h1M63 122h1M83 120h1M73 122h1M64 124h1M64 121h1M76 124h1M80 122h1M77 122h1M99 124h1M68 122h1M88 124h1M91 122h1M79 121h1M76 121h1M73 122h1M77 119h1M78 119h1M70 120h1M75 121h1M79 121h1M72 124h1M77 124h1M61 119h1M77 123h1M63 122h1M72 122h1M76 121h1M77 122h1M101 124h1M88 124h1M57 120h1M90 122h1M77 124h1M93 123h1M82 121h1M84 123h1M76 122h1M72 124h1M76 122h1M90 126h1M68 121h1M93 123h1M91 124h1M90 122h1M60 120h1M85 123h1M75 120h1M82 124h1M64 118h1M96 124h1M80 125h1M86 123h1M68 122h1M62 120h1M80 123h1M93 125h1M78 118h1M83 121h1M73 122h1M73 125h1M93 124h1M75 122h1M77 120h1M76 122h1M101 125h1M81 121h1M68 117h1M83 122h1M74 117h1M80 119h1M71 121h1M86 121h1M80 120h1M82 119h1M76 125h1M67 120h1M93 125h1M87 124h1M62 119h1M62 117h1M91 123h1M79 120h1M73 125h1M86 124h1M94 126h1M80 122h1M86 121h1M88 122h1M63 117h1M64 121h1M77 125h1M93 120h1M63 124h1M62 118h1M63 124h1M64 118h1M66 118h1M65 119h1M59 123h1M62 125h1M64 123h1M59 120h1M65 123h1M63 115h1M68 123h1M67 114h1M55 118h1M60 123h1M65 119h1M66 123h1M61 118h1M66 120h1M65 114h1M60 118h1M67 122h1M66 117h1M63 115h1M55 117h1M64 117h1M57 115h1M58 124h1M56 124h1M63 120h1M59 124h1M57 118h1M65 114h1M58 118h1M59 124h1M64 123h1M60 118h1M63 117h1M65 115h1M58 116h1M66 119h1M58 123h1M63 123h1M61 115h1M65 115h1M66 118h1M63 119h1" stroke="#333" stroke-opacity="0.17"/>
<path d="M79 116h1M83 110h1M79 110h1M65 113h1M83 113h1M66 111h1M93 114h1M80 112h1M70 117h1M70 115h1M82 113h1M65 116h1M77 115h1M63 114h1M70 114h1M70 113h1M80 115h1M76 114h1M75 113h1M66 115h1M64 114h1M72 112h1M68 112h1M72 112h1M71 112h1M76 115h1M73 109h1M82 114h1M73 117h1M85 110h1M81 112h1M77 114h1M79 110h1M83 113h1M80 112h1M90 111h1M80 110h1M72 117h1M76 108h1M79 114h1M75 112h1M80 111h1M75 112h1M79 116h1M78 117h1M79 113h1M74 112h1M69 110h1M70 113h1M76 115h1M77 114h1M76 116h1M74 112h1M80 114h1M70 115h1M72 113h1M80 118h1M89 114h1M81 113h1M78 110h1M81 114h1M77 114h1M71 113h1M87 114h1M64 113h1M78 115h1M73 111h1M79 111h1M68 112h1M88 113h1M81 111h1M70 115h1M77 115h1M68 115h1M72 113h1M67 111h1M74 112h1M76 116h1M73 116h1M74 112h1M74 116h1M76 116h1M78 115h1M91 113h1M66 124h1M65 123h1M55 118h1M98 124h1M65 120h1M87 124h1M85 124h1M89 121h1M73 124h1M83 119h1M56 119h1M95 123h1M73 123h1M62 120h1M61 121h1M65 120h1M87 123h1M86 120h1M74 123h1M68 118h1M72 118h1M94 124h1M66 120h1M69 120h1M70 122h1M87 121h1M84 120h1M81 122h1M77 120h1M71 123h1M62 121h1M82 121h1M68 121h1M78 124h1M69 121h1M86 125h1M74 122h1M66 121h1M78 121h1M82 122h1M80 121h1M73 120h1M65 123h1M79 119h1M65 120h1M78 121h1M69 122h1M97 124h1M67 122h1M100 124h1M63 119h1M69 121h1M89 122h1M61 122h1M79 121h1M72 118h1M76 124h1M82 124h1M92 123h1M76 122h1M81 123h1M64 120h1M91 125h1M89 124h1M89 125h1M83 121h1M70 120h1M73 122h1M81 121h1M79 120h1M81 122h1M66 118h1M69 119h1M69 118h1M70 123h1M82 122h1M83 123h1M66 122h1M68 121h1M60 118h1M58 118h1M57 122h1M81 122h1M82 122h1M89 122h1M55 118h1M64 119h1M67 122h1M90 126h1M83 122h1M75 119h1M86 123h1M74 119h1M80 121h1M70 121h1M63 121h1M96 123h1M79 121h1M77 122h1M64 122h1M88 125h1M63 122h1M70 121h1M75 119h1M96 123h1M77 123h1M74 123h1M77 124h1M76 124h1M82 124h1M66 124h1M79 124h1M73 119h1M97 125h1M82 121h1M69 118h1M95 125h1M66 121h1M77 123h1M87 122h1M74 119h1M61 117h1M66 117h1M63 115h1M68 117h1M63 123h1M59 119h1M57 122h1M63 117h1M64 124h1M69 119h1M60 120h1M67 120h1M67 116h1M65 119h1M58 117h1M65 121h1M62 117h1M61 118h1M57 120h1M65 118h1M61 123h1M62 119h1M64 121h1M60 120h1M66 122h1M64 118h1M63 125h1M55 121h1M59 119h1M63 116h1M65 114h1M61 120h1M59 119h1M64 118h1M66 120h1M57 122h1M63 118h1M62 116h1M57 122h1M59 120h1M70 121h1M63 119h1M67 118h1M65 122h1M62 117h1M64 119h1M63 121h1" stroke="#333" stroke-opacity="0.17"/>
<path d="M68 111h1M77 113h1M62 111h1M86 115h1M67 114h1M75 118h1M72 116h1M77 113h1M73 109h1M63 115h1M70 113h1M79 114h1M81 112h1M79 112h1M70 117h1M69 118h1M78 115h1M61 114h1M76 115h1M82 111h1M77 114h1M76 113h1M72 109h1M79 110h1M78 114h1M82 113h1M72 115h1M88 116h1M88 115h1M75 115h1M85 112h1M75 111h1M78 115h1M85 110h1M82 114h1M83 113h1M65 116h1M66 110h1M81 111h1M74 112h1M94 115h1M76 115h1M76 113h1M70 114h1M75 110h1M79 116h1M80 113h1M74 109h1M77 113h1M90 111h1M62 114h1M86 116h1M68 112h1M85 110h1M74 117h1M62 111h1M75 116h1M70 112h1M66 116h1M75 112h1M87 113h1M70 112h1M64 112h1M76 113h1M77 113h1M68 113h1M76 114h1M65 113h1M79 113h1M61 114h1M82 115h1M72 114h1M75 115h1M60 111h1M81 110h1M77 115h1M91 110h1M83 112h1M63 114h1M83 108h1M78 113h1M80 117h1M75 113h1M70 114h1M66 120h1M66 120h1M70 124h1M73 121h1M75 120h1M66 121h1M98 124h1M57 119h1M81 120h1M60 121h1M85 124h1M72 122h1M73 125h1M75 121h1M65 122h1M69 120h1M68 123h1M58 120h1M90 121h1M76 121h1M83 124h1M88 122h1M61 120h1M80 124h1M85 122h1M62 119h1M59 119h1M75 121h1M68 119h1M70 120h1M85 122h1M83 121h1M71 120h1M81 124h1M81 121h1M73 123h1M66 120h1M71 124h1M77 124h1M78 120h1M76 123h1M60 119h1M85 120h1M74 122h1M76 123h1M66 121h1M68 118h1M74 122h1M56 118h1M64 121h1M76 122h1M73 120h1M74 122h1M67 123h1M77 123h1M73 119h1M78 122h1M86 123h1M75 124h1M80 123h1M75 122h1M56 122h1M67 120h1M69 123h1M62 121h1M78 118h1M65 122h1M64 120h1M71 121h1M86 121h1M79 120h1M91 125h1M78 122h1M79 121h1M62 118h1M83 126h1M67 122h1M90 121h1M88 121h1M72 121h1M75 123h1M63 118h1M71 122h1M74 122h1M64 121h1M76 120h1M70 122h1M63 119h1M74 125h1M73 120h1M87 124h1M79 123h1M58 121h1M56 120h1M59 121h1M79 122h1M99 126h1M74 121h1M88 123h1M70 124h1M84 123h1M82 122h1M79 124h1M65 121h1M67 119h1M70 122h1M76 123h1M70 119h1M95 125h1M76 123h1M80 122h1M72 125h1M75 122h1M69 121h1M71 119h1M59 122h1M63 121h1M75 121h1M70 117h1M90 122h1M78 121h1M65 118h1M65 118h1M67 120h1M66 120h1M68 118h1M62 118h1M64 119h1M60 120h1M64 116h1M65 121h1M65 123h1M65 124h1M56 117h1M59 119h1M63 117h1M64 114h1M59 119h1M65 121h1M61 119h1M58 118h1M59 116h1M61 115h1M61 118h1M58 123h1M63 118h1M63 118h1M62 124h1M64 121h1M62 121h1M64 124h1M60 120h1M60 114h1M57 118h1M64 115h1M57 121h1M60 115h1M67 118h1M67 114h1M61 120h1M60 117h1M58 119h1M58 119h1M62 122h1M62 118h1M62 122h1M57 118h1M68 120h1" stroke="#333" stroke-opacity="0.17"/>
<path d="M86 109h1M76 113h1M65 112h1M63 114h1M82 115h1M79 114h1M84 114h1M82 108h1M78 110h1M87 109h1M77 114h1M76 112h1M84 112h1M82 115h1M87 112h1M79 113h1M70 115h1M87 114h1M74 112h1M66 114h1M85 111h1M70 113h1M64 112h1M65 111h1M81 111h1M84 112h1M76 114h1M72 115h1M84 115h1M75 115h1M74 114h1M89 109h1M78 115h1M85 115h1M82 115h1M83 110h1M75 113h1M71 114h1M89 111h1M86 117h1M87 114h1M84 112h1M74 115h1M70 111h1M89 115h1M79 110h1M76 115h1M67 111h1M71 115h1M73 112h1M78 115h1M68 114h1M73 114h1M69 113h1M62 115h1M80 116h1M77 111h1M74 113h1M71 115h1M68 114h1M68 109h1M73 113h1M74 110h1M87 114h1M76 115h1M82 115h1M72 112h1M68 112h1M81 116h1M61 114h1M74 113h1M76 116h1M76 113h1M77 117h1M79 113h1M78 116h1M83 116h1M72 114h1M75 115h1M69 112h1M84 111h1M86 112h1M90 113h1M82 109h1M76 121h1M99 125h1M85 124h1M63 117h1M89 120h1M95 122h1M80 120h1M62 123h1M67 120h1M75 119h1M89 123h1M70 123h1M76 123h1M83 119h1M90 125h1M84 121h1M69 121h1M81 124h1M88 126h1M66 123h1M71 122h1M76 119h1M65 123h1M94 124h1M85 124h1M74 120h1M75 120h1M78 124h1M73 122h1M80 124h1M95 123h1M76 123h1M74 125h1M72 120h1M69 120h1M74 120h1M83 121h1M75 122h1M88 124h1M57 120h1M59 120h1M70 121h1M89 122h1M63 119h1M81 122h1M75 123h1M63 120h1M76 122h1M82 125h1M95 124h1M77 121h1M73 123h1M79 124h1M74 121h1M80 123h1M65 119h1M67 120h1M79 121h1M82 122h1M65 120h1M69 123h1M89 122h1M81 125h1M80 121h1M80 123h1M84 122h1M55 118h1M71 121h1M65 124h1M79 121h1M70 121h1M79 124h1M91 124h1M68 121h1M80 123h1M81 123h1M82 120h1M87 125h1M72 117h1M82 122h1M68 119h1M78 122h1M84 124h1M67 122h1M76 121h1M60 119h1M74 123h1M75 122h1M69 122h1M95 124h1M69 121h1M88 122h1M66 122h1M71 122h1M72 121h1M79 122h1M85 122h1M91 121h1M67 123h1M76 120h1M58 118h1M67 120h1M70 121h1M67 120h1M86 122h1M79 122h1M75 121h1M70 121h1M95 124h1M88 124h1M99 125h1M76 122h1M76 122h1M78 122h1M82 124h1M76 124h1M71 121h1M59 120h1M76 123h1M71 120h1M63 119h1M64 124h1M61 118h1M62 121h1M70 121h1M60 119h1M61 124h1M63 122h1M59 122h1M57 118h1M58 117h1M63 113h1M55 115h1M67 114h1M58 117h1M61 116h1M61 119h1M61 117h1M56 120h1M67 115h1M63 119h1M58 118h1M55 120h1M66 119h1M64 116h1M63 117h1M68 119h1M66 124h1M69 121h1M62 120h1M60 122h1M62 113h1M65 117h1M63 115h1M61 118h1M58 119h1M61 117h1M61 121h1M63 117h1M60 118h1M58 120h1M66 118h1M71 118h1M59 118h1M66 119h1M60 113h1M58 117h1M69 116h1" stroke="#333" stroke-opacity="0.17"/>
<path d="M76 115h1M86 113h1M81 114h1M78 112h1M68 116h1M87 111h1M81 113h1M75 112h1M79 115h1M92 115h1M88 115h1M84 114h1M70 116h1M79 115h1M82 115h1M76 113h1M75 111h1M66 117h1M68 111h1M79 111h1M84 112h1M86 111h1M84 113h1M80 112h1M83 113h1M90 111h1M63 112h1M87 111h1M84 112h1M72 112h1M75 114h1M79 114h1M89 112h1M70 111h1M72 115h1M84 109h1M80 112h1M60 112h1M79 113h1M86 112h1M75 113h1M79 112h1M67 112h1M71 115h1M74 118h1M79 113h1M63 115h1M88 112h1M68 110h1M76 114h1M66 112h1M79 113h1M78 115h1M63 116h1M76 112h1M73 111h1M71 112h1M77 111h1M74 112h1M66 118h1M64 112h1M80 112h1M83 113h1M70 113h1M73 113h1M71 115h1M74 114h1M64 112h1M72 115h1M89 110h1M76 112h1M61 114h1M75 111h1M83 115h1M81 115h1M67 111h1M75 116h1M80 110h1M74 114h1M73 112h1M72 113h1M74 116h1M74 114h1M71 112h1M70 123h1M74 119h1M81 122h1M83 122h1M81 119h1M76 120h1M72 122h1M86 122h1M94 123h1M61 122h1M83 121h1M70 118h1M70 125h1M83 125h1M74 123h1M80 123h1M70 121h1M75 123h1M65 120h1M63 121h1M83 124h1M79 118h1M83 121h1M64 121h1M69 119h1M81 123h1M69 118h1M98 125h1M65 120h1M83 123h1M73 122h1M80 123h1M69 121h1M71 121h1M98 122h1M77 121h1M76 121h1M65 122h1M79 121h1M83 125h1M85 120h1M86 122h1M79 124h1M90 124h1M69 118h1M62 118h1M79 124h1M82 122h1M77 123h1M78 124h1M71 121h1M59 120h1M70 122h1M63 120h1M80 121h1M67 124h1M61 123h1M85 122h1M86 124h1M69 120h1M78 123h1M82 119h1M76 124h1M61 119h1M57 120h1M75 120h1M74 122h1M88 123h1M56 121h1M69 120h1M97 124h1M73 122h1M79 123h1M77 121h1M96 122h1M62 120h1M67 119h1M79 119h1M86 126h1M72 123h1M70 123h1M86 121h1M86 122h1M96 123h1M85 121h1M63 123h1M71 121h1M76 122h1M102 125h1M80 124h1M85 125h1M83 121h1M68 119h1M86 124h1M89 123h1M85 124h1M65 119h1M85 123h1M62 120h1M68 122h1M78 125h1M58 117h1M78 122h1M95 125h1M77 119h1M84 122h1M79 122h1M76 119h1M98 122h1M83 126h1M81 124h1M67 122h1M58 121h1M72 119h1M62 118h1M61 121h1M62 121h1M86 123h1M95 125h1M93 122h1M96 125h1M58 120h1M57 119h1M62 121h1M60 119h1M65 123h1M60 119h1M63 117h1M64 120h1M58 121h1M66 118h1M62 116h1M60 119h1M61 121h1M57 118h1M64 122h1M57 121h1M68 120h1M60 119h1M56 116h1M63 113h1M63 121h1M63 120h1M60 121h1M64 119h1M66 116h1M65 113h1M69 118h1M58 120h1M64 115h1M63 119h1M69 115h1M59 122h1M70 123h1M56 119h1M61 123h1M61 122h1M59 122h1M61 114h1M58 122h1M63 123h1M64 114h1M63 116h1M65 117h1M64 120h1M63 118h1M61 120h1M65 118h1" stroke="#333" stroke-opacity="0.17"/>
</g>
<rect x="54.20" y="83.20" width="66.60" height="48.90" fill="none" stroke="#333" stroke-width="0.8"/>
<line x1="54.20" y1="83.20" x2="54.20" y2="132.10" stroke="#111" stroke-width="1.15"/>
<line x1="54.20" y1="132.10" x2="120.80" y2="132.10" stroke="#111" stroke-width="1.15"/>
<rect x="60.20" y="104.80" width="35.60" height="14.60" fill="none" stroke="#222" stroke-width="0.95" rx="1"/>
<text x="77.6" y="101.4" font-size="6.30" text-anchor="middle" font-weight="bold" font-family="'Liberation Sans',sans-serif" fill="#000">23.8</text>
<text x="52.7" y="84.5" font-size="3.60" text-anchor="end" font-weight="bold" font-family="'Liberation Serif',serif" fill="#222">10000</text>
<text x="52.7" y="96.725" font-size="3.60" text-anchor="end" font-weight="bold" font-family="'Liberation Serif',serif" fill="#222">1000</text>
<text x="52.7" y="108.95" font-size="3.60" text-anchor="end" font-weight="bold" font-family="'Liberation Serif',serif" fill="#222">100</text>
<text x="52.7" y="121.175" font-size="3.60" text-anchor="end" font-weight="bold" font-family="'Liberation Serif',serif" fill="#222">10</text>
<text x="52.7" y="133.4" font-size="3.60" text-anchor="end" font-weight="bold" font-family="'Liberation Serif',serif" fill="#222">1</text>
<text x="55.0" y="136.9" font-size="3.60" text-anchor="middle" font-weight="bold" font-family="'Liberation Serif',serif" fill="#222">1</text>
<text x="71.2" y="136.9" font-size="3.60" text-anchor="middle" font-weight="bold" font-family="'Liberation Serif',serif" fill="#222">10</text>
<text x="87.4" y="136.9" font-size="3.60" text-anchor="middle" font-weight="bold" font-family="'Liberation Serif',serif" fill="#222">100</text>
<text x="103.6" y="136.9" font-size="3.60" text-anchor="middle" font-weight="bold" font-family="'Liberation Serif',serif" fill="#222">1000</text>
<g filter="url(#sb)" transform="translate(0 .5)">
<path d="M154 119h1M134 118h1M133 115h1M141 109h1M154 112h1M141 119h1M143 113h1M144 122h1M132 122h1M154 110h1M140 107h1M151 116h1M131 115h1M130 113h1M136 117h1M145 113h1M146 113h1M154 114h1M157 115h1M140 110h1M139 119h1M147 113h1M141 114h1M136 118h1M136 117h1M134 117h1M152 110h1M137 118h1M157 108h1M133 118h1M130 113h1M143 110h1M135 118h1M150 111h1M152 120h1M154 117h1M136 117h1M136 115h1M147 114h1M149 119h1M156 115h1M158 110h1M142 112h1M154 112h1M149 118h1M136 113h1M159 112h1M154 115h1M153 107h1M144 120h1M138 115h1M151 112h1M139 123h1M140 115h1M142 113h1M141 111h1M159 114h1M146 117h1M141 115h1M141 119h1M154 110h1M143 120h1M156 118h1M141 113h1M139 112h1M154 105h1M140 115h1M126 112h1M143 109h1M148 119h1M136 113h1M138 115h1M129 122h1M144 113h1M143 109h1M147 115h1M136 116h1M146 114h1M147 120h1M150 111h1M149 113h1M161 110h1M144 113h1M134 115h1M142 120h1M138 110h1M142 119h1M132 110h1M128 118h1M139 114h1M148 113h1M143 111h1M136 112h1M140 110h1M151 112h1M158 111h1M139 116h1M131 124h1M152 109h1M142 118h1M139 113h1M150 116h1M163 111h1M140 111h1M145 108h1M149 108h1M144 115h1M139 116h1M143 118h1M148 112h1M158 113h1M148 106h1M155 116h1M137 115h1M149 109h1M157 113h1M157 113h1M166 111h1M143 116h1M156 113h1M140 121h1M136 119h1M154 110h1M151 108h1M133 118h1M142 114h1M148 111h1M153 114h1M156 108h1M137 108h1M125 121h1M149 112h1M130 115h1M160 114h1M160 117h1M131 118h1M154 118h1M154 114h1M146 118h1M159 111h1M154 108h1M139 117h1M141 113h1M139 111h1M139 112h1M149 114h1M154 120h1M146 117h1M159 113h1M139 123h1M139 113h1M132 120h1M132 116h1M131 120h1M152 109h1M147 112h1M154 114h1M144 115h1M142 114h1M149 114h1M160 109h1M140 114h1M159 110h1M142 112h1M140 111h1M156 114h1M148 115h1M155 106h1M147 118h1M143 115h1M150 114h1M152 115h1M139 118h1M144 105h1M157 115h1M138 110h1M164 109h1M155 117h1M136 116h1M153 106h1M134 114h1M138 115h1M156 111h1M145 114h1M148 112h1M133 114h1M150 106h1M146 107h1M153 113h1M146 123h1M157 116h1M136 113h1M140 116h1M143 110h1M144 115h1M140 112h1M149 113h1M154 111h1M141 108h1M147 123h1M150 111h1M141 110h1M135 123h1M161 118h1M148 115h1M160 115h1M144 110h1M131 116h1M151 107h1M133 114h1M151 109h1M126 117h1M155 106h1M133 119h1M149 114h1M152 110h1M136 111h1M127 121h1M151 119h1M144 112h1M138 116h1M166 111h1M126 119h1M139 108h1M148 105h1M150 114h1M130 115h1M126 119h1M144 112h1M137 114h1M146 117h1M150 116h1M141 116h1M147 112h1M138 112h1M142 123h1M151 116h1M144 123h1M134 113h1M135 120h1M142 108h1M131 118h1M159 116h1M135 117h1M125 120h1M135 119h1M151 113h1M130 118h1M129 123h1M132 123h1M129 117h1M133 123h1M138 121h1M135 122h1M125 117h1M125 123h1M129 123h1M133 117h1M136 122h1M128 122h1M135 119h1M134 124h1M136 121h1M133 122h1M129 120h1M132 119h1M139 118h1M132 118h1M128 125h1M140 124h1M128 119h1M138 120h1M136 123h1M135 125h1M135 122h1M133 124h1M136 120h1M135 124h1M135 123h1M137 118h1M135 122h1M137 116h1M128 120h1M136 125h1M134 122h1M126 117h1M132 121h1M136 119h1M131 126h1M132 125h1M134 125h1M137 123h1M128 125h1M125 122h1M138 119h1M131 122h1M133 128h1M131 120h1M125 123h1M130 122h1M139 122h1M128 121h1M135 122h1M125 121h1M137 116h1M131 118h1M130 121h1M139 123h1M136 121h1M131 121h1M134 119h1M134 119h1M129 121h1M137 121h1M129 121h1M138 123h1M131 125h1M134 121h1M151 120h1M151 124h1M139 124h1M155 124h1M145 122h1M156 122h1M133 124h1M150 123h1M153 126h1M137 124h1M142 122h1M129 124h1M144 122h1M157 125h1M139 124h1M144 125h1M149 124h1M132 123h1M133 122h1M143 124h1M147 123h1M149 123h1M140 123h1M148 122h1M146 127h1M155 121h1M152 121h1M132 125h1M132 122h1M156 123h1M146 120h1M147 126h1M151 125h1M144 126h1M146 123h1M154 124h1M147 122h1M157 125h1M126 122h1M154 125h1M136 121h1M149 123h1M134 122h1M144 124h1M150 125h1M140 123h1M124 123h1M131 124h1M144 123h1M151 122h1M144 121h1M139 125h1M144 125h1M127 123h1M145 125h1M140 122h1M137 123h1M142 123h1M151 123h1M144 122h1M144 126h1M139 121h1M160 126h1M153 124h1M147 122h1M161 122h1M128 121h1M152 121h1M144 123h1M160 122h1M149 123h1M144 121h1M138 122h1M144 123h1M163 122h1M153 122h1" stroke="#333" stroke-opacity="0.17"/>
<path d="M139 110h1M124 119h1M158 114h1M149 114h1M134 115h1M154 120h1M140 118h1M146 114h1M143 112h1M156 115h1M160 111h1M133 117h1M141 115h1M145 115h1M147 116h1M133 119h1M137 115h1M153 115h1M155 114h1M159 113h1M141 113h1M143 108h1M143 110h1M164 115h1M153 113h1M149 115h1M147 114h1M141 119h1M142 113h1M149 115h1M132 113h1M154 110h1M161 117h1M146 111h1M158 110h1M150 115h1M126 115h1M154 110h1M134 115h1M154 117h1M145 117h1M158 112h1M138 116h1M147 117h1M134 113h1M142 121h1M130 116h1M151 115h1M148 115h1M149 112h1M144 113h1M136 111h1M153 111h1M133 114h1M144 113h1M132 122h1M138 119h1M136 121h1M137 116h1M159 109h1M156 107h1M139 110h1M130 118h1M143 114h1M154 114h1M145 113h1M145 108h1M126 115h1M154 108h1M154 118h1M141 118h1M151 112h1M152 112h1M136 124h1M156 114h1M155 116h1M128 122h1M165 112h1M137 115h1M148 108h1M139 110h1M127 120h1M138 118h1M145 111h1M153 105h1M138 110h1M144 114h1M131 119h1M151 114h1M133 113h1M137 110h1M147 115h1M140 114h1M151 117h1M142 115h1M142 116h1M155 114h1M139 115h1M150 113h1M152 110h1M156 113h1M131 119h1M162 113h1M133 116h1M140 114h1M146 121h1M147 107h1M149 109h1M157 109h1M125 114h1M152 119h1M128 115h1M152 110h1M130 112h1M152 110h1M126 122h1M146 108h1M139 120h1M144 114h1M166 111h1M152 105h1M142 116h1M146 112h1M160 108h1M162 113h1M140 116h1M155 107h1M142 120h1M131 113h1M146 118h1M143 114h1M125 120h1M150 118h1M151 106h1M140 120h1M148 115h1M130 113h1M150 105h1M136 107h1M158 110h1M126 119h1M134 116h1M149 110h1M145 115h1M143 119h1M127 115h1M151 120h1M147 110h1M135 111h1M139 113h1M145 113h1M153 108h1M160 107h1M140 119h1M142 116h1M159 116h1M143 120h1M136 111h1M138 123h1M140 117h1M153 110h1M126 116h1M145 115h1M143 114h1M149 114h1M153 111h1M155 115h1M151 116h1M146 110h1M141 115h1M140 116h1M136 113h1M138 116h1M150 121h1M149 120h1M138 121h1M150 111h1M134 116h1M137 112h1M149 114h1M145 117h1M137 111h1M142 115h1M147 113h1M156 114h1M148 118h1M148 117h1M151 111h1M139 111h1M144 119h1M128 118h1M134 112h1M148 114h1M151 111h1M160 116h1M149 105h1M140 120h1M154 120h1M155 112h1M140 122h1M137 123h1M147 108h1M150 116h1M147 117h1M144 116h1M141 117h1M165 110h1M151 111h1M144 114h1M136 119h1M128 119h1M133 115h1M133 123h1M150 109h1M155 110h1M142 116h1M148 104h1M150 116h1M143 108h1M153 114h1M143 112h1M139 119h1M145 109h1M138 111h1M160 109h1M135 117h1M153 113h1M151 111h1M153 112h1M142 113h1M151 114h1M152 114h1M149 112h1M139 110h1M161 110h1M142 119h1M130 122h1M150 107h1M143 112h1M136 120h1M134 118h1M145 116h1M140 110h1M157 111h1M146 119h1M165 108h1M140 118h1M143 117h1M165 114h1M140 122h1M126 122h1M136 118h1M132 117h1M128 118h1M130 123h1M135 122h1M131 121h1M132 126h1M129 118h1M127 123h1M137 121h1M132 118h1M131 120h1M126 125h1M130 118h1M130 119h1M132 120h1M132 116h1M129 124h1M128 120h1M139 120h1M140 122h1M130 122h1M133 126h1M127 118h1M137 122h1M131 123h1M138 126h1M135 120h1M141 121h1M128 121h1M127 118h1M130 116h1M136 124h1M136 119h1M127 118h1M134 126h1M130 122h1M131 124h1M138 122h1M126 123h1M126 120h1M131 122h1M129 120h1M124 120h1M130 125h1M132 124h1M134 117h1M132 123h1M130 124h1M136 122h1M138 122h1M136 122h1M137 122h1M131 124h1M131 123h1M135 119h1M136 125h1M125 124h1M126 120h1M124 126h1M137 122h1M132 120h1M130 117h1M130 122h1M137 118h1M127 121h1M137 124h1M144 124h1M147 123h1M148 123h1M164 125h1M146 122h1M151 126h1M129 123h1M133 126h1M136 121h1M145 123h1M142 126h1M137 123h1M141 122h1M131 121h1M146 121h1M151 125h1M133 122h1M150 122h1M147 124h1M143 121h1M156 122h1M151 121h1M140 125h1M139 123h1M147 122h1M150 124h1M152 125h1M127 123h1M157 125h1M162 123h1M151 122h1M150 123h1M162 123h1M131 123h1M154 122h1M146 124h1M147 125h1M133 122h1M147 120h1M152 124h1M156 124h1M148 124h1M152 122h1M143 123h1M145 123h1M158 122h1M149 124h1M130 122h1M153 123h1M154 123h1M146 122h1M149 123h1M145 123h1M155 121h1M147 121h1M142 125h1M152 124h1M162 122h1M126 123h1M152 124h1M142 124h1M149 121h1M139 124h1M134 123h1M159 123h1M133 125h1M137 123h1M150 120h1M138 124h1M140 121h1M146 125h1M146 126h1M164 125h1M141 125h1M132 122h1" stroke="#333" stroke-opacity="0.17"/>
<path d="M154 110h1M165 112h1M151 114h1M141 112h1M155 116h1M140 119h1M135 120h1M141 118h1M135 112h1M139 119h1M153 112h1M159 113h1M135 110h1M129 117h1M141 119h1M131 114h1M159 113h1M151 117h1M135 114h1M146 115h1M134 116h1M150 118h1M143 111h1M155 105h1M140 119h1M143 113h1M140 114h1M125 120h1M144 112h1M141 118h1M134 111h1M156 107h1M146 113h1M145 113h1M128 122h1M124 114h1M156 111h1M142 113h1M138 113h1M144 112h1M131 117h1M152 115h1M143 113h1M145 116h1M141 122h1M153 111h1M141 117h1M140 114h1M154 113h1M144 113h1M154 119h1M153 110h1M134 122h1M141 114h1M148 111h1M130 117h1M148 114h1M154 109h1M126 116h1M136 109h1M128 116h1M144 113h1M151 106h1M149 106h1M138 116h1M142 117h1M140 110h1M141 114h1M151 116h1M152 107h1M139 116h1M157 116h1M139 113h1M152 108h1M146 111h1M138 116h1M142 107h1M150 112h1M135 113h1M149 105h1M144 116h1M144 112h1M146 113h1M151 112h1M142 107h1M143 106h1M138 117h1M143 118h1M140 117h1M131 111h1M143 121h1M146 119h1M127 120h1M134 110h1M134 120h1M141 109h1M153 115h1M157 112h1M136 117h1M160 109h1M138 119h1M133 123h1M137 111h1M148 108h1M131 117h1M144 116h1M142 116h1M142 119h1M144 115h1M139 113h1M146 110h1M155 106h1M147 114h1M158 116h1M139 118h1M145 120h1M150 119h1M144 117h1M156 116h1M154 113h1M149 110h1M159 113h1M140 114h1M142 109h1M137 120h1M145 115h1M144 114h1M154 109h1M152 114h1M138 120h1M145 113h1M143 112h1M143 116h1M151 117h1M151 109h1M127 114h1M146 115h1M128 117h1M144 109h1M137 116h1M140 115h1M147 119h1M147 109h1M142 117h1M151 112h1M136 115h1M152 112h1M145 112h1M148 117h1M137 108h1M133 112h1M138 116h1M141 122h1M127 123h1M140 117h1M134 117h1M151 112h1M141 110h1M144 112h1M152 118h1M145 116h1M139 114h1M157 113h1M140 118h1M136 117h1M160 109h1M158 109h1M147 113h1M145 113h1M148 113h1M157 112h1M138 107h1M149 109h1M136 114h1M137 114h1M142 112h1M156 115h1M157 118h1M152 118h1M136 118h1M149 118h1M142 111h1M151 109h1M157 114h1M148 113h1M142 123h1M142 108h1M147 106h1M149 114h1M139 120h1M139 114h1M141 110h1M142 116h1M150 114h1M147 106h1M132 121h1M143 111h1M166 110h1M149 117h1M149 109h1M133 118h1M145 113h1M157 110h1M155 107h1M140 118h1M145 114h1M145 119h1M130 122h1M154 108h1M157 117h1M152 112h1M138 113h1M141 119h1M150 110h1M150 119h1M154 121h1M151 110h1M146 105h1M141 116h1M157 113h1M155 111h1M148 115h1M137 117h1M146 116h1M155 107h1M144 113h1M132 120h1M145 117h1M143 114h1M147 115h1M141 114h1M140 117h1M140 113h1M156 118h1M150 120h1M153 114h1M139 117h1M142 115h1M124 114h1M145 114h1M129 120h1M146 116h1M155 113h1M139 115h1M149 112h1M132 112h1M142 113h1M152 114h1M152 110h1M132 125h1M130 123h1M138 118h1M132 121h1M137 122h1M128 121h1M138 120h1M133 122h1M125 123h1M126 122h1M131 119h1M136 118h1M132 119h1M126 121h1M125 120h1M133 119h1M132 121h1M127 119h1M136 121h1M134 121h1M125 127h1M131 118h1M129 118h1M131 118h1M133 123h1M131 119h1M138 124h1M132 119h1M133 116h1M130 123h1M128 116h1M136 121h1M128 121h1M127 126h1M131 119h1M126 123h1M136 117h1M136 125h1M128 125h1M129 120h1M130 121h1M134 124h1M129 121h1M128 120h1M128 126h1M128 124h1M139 123h1M135 121h1M132 119h1M128 127h1M137 120h1M130 123h1M131 120h1M134 119h1M128 121h1M133 122h1M128 116h1M132 120h1M130 123h1M138 119h1M133 122h1M130 123h1M135 119h1M132 124h1M133 122h1M133 120h1M140 119h1M131 126h1M155 124h1M143 123h1M146 123h1M146 124h1M132 123h1M129 123h1M132 124h1M155 121h1M150 124h1M150 122h1M135 122h1M136 122h1M138 124h1M146 123h1M146 123h1M145 125h1M142 123h1M145 125h1M164 123h1M142 124h1M143 126h1M138 124h1M134 123h1M154 123h1M153 123h1M147 122h1M147 124h1M139 124h1M152 122h1M141 122h1M147 121h1M144 124h1M154 123h1M132 124h1M125 122h1M139 121h1M152 124h1M155 122h1M153 124h1M137 124h1M136 122h1M135 124h1M138 125h1M152 121h1M149 123h1M136 122h1M135 123h1M142 125h1M139 123h1M144 122h1M137 123h1M143 123h1M144 123h1M131 125h1M134 122h1M129 124h1M158 123h1M145 121h1M153 123h1M143 124h1M132 122h1M156 123h1M128 125h1M157 122h1M150 123h1M155 125h1M158 123h1M139 125h1M129 124h1M151 122h1M147 123h1M150 122h1M142 122h1M131 122h1M138 126h1M136 124h1" stroke="#333" stroke-opacity="0.17"/>
<path d="M127 115h1M143 114h1M164 112h1M134 119h1M157 111h1M152 114h1M143 115h1M149 116h1M137 114h1M143 111h1M125 114h1M151 105h1M136 113h1M154 112h1M158 113h1M126 118h1M139 120h1M148 107h1M150 116h1M148 116h1M147 114h1M141 115h1M153 117h1M147 119h1M151 111h1M141 120h1M140 117h1M163 110h1M143 110h1M147 112h1M128 122h1M148 105h1M136 116h1M142 116h1M152 120h1M144 113h1M145 113h1M143 117h1M149 115h1M129 112h1M152 112h1M141 113h1M133 110h1M160 112h1M146 120h1M136 117h1M132 118h1M158 110h1M143 109h1M142 112h1M148 121h1M139 113h1M162 112h1M130 120h1M146 117h1M151 116h1M139 109h1M138 112h1M142 115h1M137 109h1M150 111h1M140 111h1M163 114h1M143 113h1M140 113h1M130 120h1M146 111h1M127 118h1M149 109h1M146 113h1M155 117h1M150 111h1M142 110h1M137 114h1M154 118h1M148 113h1M149 116h1M133 122h1M146 117h1M156 112h1M150 111h1M142 117h1M131 115h1M155 111h1M157 108h1M136 112h1M144 116h1M147 107h1M144 120h1M135 119h1M140 116h1M136 117h1M151 114h1M159 111h1M133 111h1M138 118h1M149 117h1M152 117h1M160 117h1M157 111h1M147 113h1M136 122h1M134 110h1M135 119h1M143 110h1M132 119h1M130 120h1M133 117h1M140 123h1M133 113h1M134 118h1M153 109h1M155 111h1M163 108h1M131 122h1M148 113h1M146 112h1M156 107h1M143 117h1M155 112h1M150 111h1M131 120h1M145 110h1M144 119h1M136 114h1M143 118h1M144 117h1M134 121h1M139 115h1M148 109h1M145 114h1M134 108h1M138 118h1M137 117h1M163 106h1M140 111h1M150 115h1M128 111h1M142 112h1M139 115h1M140 118h1M148 107h1M149 110h1M149 110h1M143 115h1M164 108h1M145 114h1M153 110h1M161 111h1M136 114h1M165 112h1M146 116h1M146 115h1M145 119h1M132 114h1M161 113h1M140 111h1M135 117h1M157 111h1M148 115h1M149 116h1M140 110h1M147 110h1M153 110h1M140 118h1M145 115h1M145 116h1M137 113h1M154 107h1M151 119h1M133 114h1M154 115h1M156 107h1M142 113h1M156 118h1M160 113h1M144 112h1M152 107h1M136 116h1M141 113h1M140 118h1M142 106h1M152 109h1M151 114h1M151 114h1M147 111h1M142 120h1M141 123h1M146 115h1M139 116h1M147 109h1M150 112h1M140 110h1M140 112h1M147 119h1M132 117h1M140 116h1M158 109h1M146 107h1M142 117h1M163 110h1M139 117h1M159 110h1M159 108h1M145 106h1M163 109h1M153 112h1M130 113h1M157 108h1M157 113h1M149 114h1M149 111h1M158 108h1M154 114h1M155 107h1M154 108h1M149 111h1M147 116h1M154 117h1M135 114h1M138 113h1M154 116h1M146 115h1M153 109h1M146 118h1M143 117h1M146 115h1M162 111h1M161 105h1M157 119h1M146 117h1M130 115h1M137 117h1M151 119h1M155 115h1M149 112h1M157 112h1M144 116h1M152 119h1M143 107h1M151 112h1M158 104h1M139 122h1M138 118h1M137 118h1M141 117h1M137 122h1M153 112h1M125 120h1M134 120h1M125 122h1M128 119h1M124 123h1M126 118h1M127 119h1M137 121h1M127 125h1M129 123h1M128 121h1M130 119h1M134 117h1M134 128h1M136 121h1M134 126h1M139 122h1M127 123h1M135 119h1M131 122h1M136 122h1M137 121h1M128 119h1M132 117h1M137 121h1M130 119h1M133 118h1M130 121h1M129 118h1M127 123h1M129 116h1M130 121h1M134 119h1M139 117h1M136 124h1M142 123h1M134 121h1M141 121h1M132 123h1M128 119h1M132 121h1M136 119h1M131 117h1M133 120h1M131 120h1M130 115h1M133 118h1M133 121h1M135 122h1M127 126h1M140 126h1M128 123h1M136 122h1M130 121h1M126 125h1M126 123h1M133 124h1M134 123h1M130 123h1M130 128h1M128 123h1M139 124h1M133 120h1M135 118h1M135 115h1M125 117h1M128 120h1M139 120h1M133 124h1M144 123h1M153 121h1M146 123h1M156 126h1M159 124h1M155 124h1M150 122h1M145 123h1M133 123h1M134 121h1M155 124h1M132 126h1M139 122h1M141 122h1M149 124h1M132 124h1M130 124h1M149 125h1M140 120h1M141 124h1M138 124h1M153 120h1M151 123h1M138 122h1M139 122h1M162 125h1M144 122h1M155 123h1M144 125h1M130 121h1M140 124h1M154 124h1M137 121h1M139 125h1M144 122h1M139 122h1M160 125h1M165 122h1M158 120h1M157 121h1M141 122h1M148 125h1M132 123h1M161 124h1M147 121h1M148 126h1M132 125h1M144 123h1M138 121h1M149 125h1M159 123h1M157 125h1M163 124h1M141 126h1M162 121h1M159 122h1M153 123h1M148 123h1M141 126h1M150 122h1M162 122h1M124 124h1M136 122h1M140 123h1M153 124h1M142 124h1M143 122h1M162 124h1M135 121h1M145 122h1M131 121h1M139 125h1M156 123h1M155 122h1M131 124h1M144 124h1" stroke="#333" stroke-opacity="0.17"/>
<path d="M137 116h1M149 111h1M152 113h1M141 116h1M144 108h1M149 110h1M134 121h1M154 115h1M141 113h1M140 106h1M148 114h1M161 113h1M136 112h1M152 117h1M165 108h1M146 114h1M147 121h1M146 109h1M144 112h1M134 115h1M136 122h1M152 117h1M146 111h1M151 114h1M146 118h1M144 117h1M143 118h1M144 118h1M128 119h1M147 114h1M133 118h1M139 119h1M133 114h1M153 110h1M146 112h1M151 110h1M149 112h1M145 112h1M132 117h1M144 116h1M148 113h1M125 120h1M134 115h1M137 117h1M142 116h1M131 117h1M134 115h1M140 118h1M147 112h1M137 113h1M146 115h1M150 114h1M140 117h1M153 109h1M138 112h1M155 112h1M147 115h1M138 117h1M147 113h1M158 105h1M156 113h1M159 113h1M140 121h1M150 118h1M140 112h1M153 113h1M146 112h1M150 113h1M137 116h1M142 113h1M154 107h1M132 119h1M142 112h1M134 120h1M160 114h1M141 108h1M130 119h1M150 108h1M155 119h1M146 117h1M150 113h1M148 118h1M134 117h1M132 120h1M159 115h1M143 113h1M146 114h1M134 112h1M149 116h1M146 119h1M131 121h1M142 108h1M142 119h1M133 111h1M155 115h1M144 108h1M133 110h1M144 122h1M155 114h1M135 116h1M142 119h1M162 106h1M148 113h1M154 107h1M144 116h1M138 116h1M132 113h1M144 121h1M145 120h1M137 114h1M147 117h1M145 117h1M149 121h1M134 120h1M153 104h1M142 111h1M129 112h1M152 119h1M130 117h1M127 119h1M154 112h1M149 115h1M149 112h1M159 105h1M131 118h1M151 113h1M139 114h1M160 112h1M133 119h1M155 109h1M152 116h1M142 115h1M129 112h1M136 120h1M128 119h1M139 116h1M133 115h1M160 108h1M148 110h1M141 115h1M155 108h1M133 118h1M136 116h1M148 114h1M131 124h1M148 116h1M153 117h1M156 112h1M140 118h1M160 111h1M136 122h1M159 107h1M138 107h1M154 112h1M149 116h1M156 114h1M153 107h1M151 111h1M137 111h1M145 115h1M138 116h1M138 124h1M133 112h1M150 111h1M158 116h1M142 114h1M144 115h1M144 117h1M146 113h1M151 116h1M151 112h1M154 111h1M165 108h1M126 119h1M143 116h1M140 117h1M131 113h1M143 114h1M131 119h1M132 115h1M145 117h1M149 115h1M140 118h1M142 114h1M148 116h1M128 121h1M155 116h1M149 120h1M158 116h1M148 113h1M149 109h1M148 109h1M153 115h1M147 115h1M134 113h1M149 107h1M143 110h1M150 118h1M153 115h1M138 113h1M152 113h1M138 115h1M148 121h1M141 113h1M157 112h1M140 114h1M146 120h1M157 110h1M149 110h1M137 121h1M157 113h1M161 112h1M153 117h1M145 111h1M155 118h1M139 110h1M165 109h1M146 121h1M165 113h1M142 115h1M159 117h1M134 115h1M136 109h1M146 112h1M138 115h1M145 123h1M144 120h1M137 117h1M146 113h1M139 114h1M155 118h1M137 120h1M139 110h1M148 115h1M151 118h1M129 118h1M145 117h1M133 122h1M151 114h1M137 123h1M149 115h1M155 105h1M135 118h1M162 108h1M135 122h1M130 117h1M148 120h1M130 114h1M138 119h1M135 116h1M131 122h1M124 121h1M126 119h1M138 121h1M134 124h1M131 124h1M132 123h1M133 120h1M134 122h1M126 126h1M135 125h1M129 123h1M127 124h1M128 122h1M130 124h1M129 121h1M130 119h1M134 121h1M132 122h1M134 125h1M135 124h1M134 127h1M127 121h1M135 119h1M127 123h1M136 122h1M127 122h1M124 126h1M129 124h1M130 125h1M133 124h1M131 116h1M128 126h1M132 123h1M128 124h1M132 123h1M129 125h1M129 124h1M130 119h1M134 122h1M130 126h1M127 124h1M137 121h1M134 123h1M133 122h1M129 124h1M134 122h1M133 125h1M135 121h1M140 123h1M131 122h1M139 121h1M132 117h1M126 126h1M134 123h1M130 121h1M132 116h1M134 127h1M139 123h1M128 121h1M130 119h1M129 124h1M141 124h1M141 124h1M130 123h1M138 126h1M134 122h1M135 123h1M132 125h1M139 123h1M139 124h1M150 124h1M150 123h1M143 124h1M132 125h1M145 123h1M154 124h1M141 125h1M154 125h1M136 125h1M158 123h1M140 123h1M145 126h1M143 122h1M139 122h1M138 122h1M154 122h1M160 123h1M129 123h1M137 126h1M142 124h1M143 123h1M137 121h1M147 124h1M146 123h1M151 121h1M136 121h1M160 121h1M143 124h1M158 125h1M150 123h1M149 122h1M156 124h1M143 124h1M139 126h1M139 122h1M162 123h1M150 124h1M143 123h1M141 123h1M142 123h1M136 126h1M149 124h1M166 122h1M128 124h1M153 124h1M126 123h1M152 124h1M155 124h1M140 123h1M146 124h1M153 123h1M150 124h1M141 123h1M145 122h1M153 126h1M154 123h1M139 123h1M128 125h1M143 127h1M149 124h1M162 125h1M145 124h1M151 122h1M138 124h1M147 124h1M149 120h1M141 124h1M141 124h1M145 125h1M150 125h1M153 124h1M146 121h1" stroke="#333" stroke-opacity="0.17"/>
</g>
<rect x="123.30" y="83.20" width="66.60" height="48.90" fill="none" stroke="#333" stroke-width="0.8"/>
<line x1="123.30" y1="83.20" x2="123.30" y2="132.10" stroke="#111" stroke-width="1.15"/>
<line x1="123.30" y1="132.10" x2="189.90" y2="132.10" stroke="#111" stroke-width="1.15"/>
<rect x="130.20" y="106.40" width="35.00" height="15.30" fill="none" stroke="#222" stroke-width="0.95" rx="1"/>
<text x="144.2" y="105.10000000000001" font-size="6.30" text-anchor="middle" font-weight="bold" font-family="'Liberation Sans',sans-serif" fill="#000">59.4</text>
<text x="124.1" y="136.9" font-size="3.60" text-anchor="middle" font-weight="bold" font-family="'Liberation Serif',serif" fill="#222">1</text>
<text x="140.29999999999998" y="136.9" font-size="3.60" text-anchor="middle" font-weight="bold" font-family="'Liberation Serif',serif" fill="#222">10</text>
<text x="156.5" y="136.9" font-size="3.60" text-anchor="middle" font-weight="bold" font-family="'Liberation Serif',serif" fill="#222">100</text>
<text x="172.7" y="136.9" font-size="3.60" text-anchor="middle" font-weight="bold" font-family="'Liberation Serif',serif" fill="#222">1000</text>
<g filter="url(#sb)" transform="translate(0 .5)">
<path d="M209 116h1M196 113h1M206 113h1M204 119h1M214 113h1M205 111h1M212 117h1M206 115h1M210 119h1M206 109h1M209 114h1M218 113h1M201 112h1M202 116h1M217 113h1M214 111h1M210 113h1M204 116h1M210 117h1M216 114h1M205 116h1M209 120h1M208 115h1M208 118h1M204 118h1M203 113h1M205 116h1M214 111h1M214 110h1M215 111h1M209 120h1M208 113h1M213 113h1M211 112h1M210 111h1M210 117h1M212 110h1M215 120h1M203 118h1M221 109h1M198 120h1M215 113h1M209 114h1M215 117h1M210 112h1M204 114h1M204 116h1M208 119h1M205 120h1M204 112h1M204 115h1M211 115h1M204 115h1M210 113h1M203 121h1M222 111h1M201 114h1M208 121h1M217 112h1M211 114h1M212 118h1M212 116h1M200 120h1M204 112h1M204 109h1M213 115h1M220 109h1M211 116h1M210 119h1M210 113h1M196 119h1M213 114h1M211 114h1M220 114h1M200 113h1M213 117h1M216 120h1M207 115h1M207 112h1M195 114h1M214 114h1M206 110h1M209 115h1M215 116h1M197 111h1M198 118h1M218 112h1M208 113h1M203 113h1M200 113h1M216 110h1M224 110h1M201 119h1M223 114h1M209 111h1M215 118h1M204 116h1M213 113h1M207 122h1M208 115h1M206 118h1M212 111h1M222 117h1M207 115h1M201 119h1M206 114h1M209 121h1M205 116h1M206 116h1M210 114h1M210 109h1M213 113h1M210 114h1M200 116h1M213 115h1M222 112h1M208 110h1M193 116h1M203 118h1M218 114h1M211 118h1M201 114h1M208 118h1M213 113h1M221 112h1M206 110h1M219 110h1M202 115h1M210 119h1M211 110h1M205 112h1M197 117h1M205 116h1M206 117h1M211 112h1M210 119h1M202 111h1M216 107h1M201 121h1M216 117h1M209 116h1M213 116h1M210 118h1M199 116h1M215 116h1M200 118h1M218 114h1M211 112h1M204 114h1M201 118h1M209 112h1M201 118h1M215 110h1M211 114h1M210 113h1M203 115h1M207 122h1M203 117h1M213 118h1M211 111h1M210 116h1M201 117h1M209 115h1M207 115h1M200 126h1M196 124h1M205 121h1M206 119h1M198 123h1M197 122h1M200 118h1M197 121h1M198 121h1M193 126h1M203 120h1M199 124h1M194 123h1M199 119h1M193 124h1M199 123h1M195 123h1M194 119h1M194 120h1M206 124h1M200 118h1M209 123h1M196 125h1M205 120h1M196 116h1M203 126h1M198 123h1M197 120h1M198 119h1M202 122h1M205 123h1M203 121h1M202 119h1M198 125h1M196 119h1M205 121h1M207 122h1M194 120h1M198 118h1M197 120h1M211 120h1M204 124h1M200 119h1M203 118h1M208 123h1M208 121h1M199 123h1M195 120h1M195 121h1M205 119h1M203 115h1M196 122h1M202 126h1M194 121h1M203 122h1M212 123h1M223 125h1M213 124h1M225 127h1M215 122h1M216 123h1M206 119h1M209 125h1M216 126h1M208 122h1M219 125h1M214 121h1M206 121h1M210 124h1M217 123h1M215 125h1M201 123h1M199 124h1M214 124h1M218 126h1M217 123h1M204 125h1M197 120h1M194 122h1M219 125h1M222 123h1M226 123h1M198 122h1M196 121h1M219 120h1M215 123h1M207 123h1M203 123h1M198 121h1M221 127h1M200 123h1M202 120h1M209 122h1M210 123h1M208 121h1M213 121h1M207 124h1M216 125h1M204 121h1M205 123h1M216 123h1M215 121h1M222 123h1M225 121h1M213 122h1M216 124h1M213 126h1M199 125h1M216 120h1M202 123h1M208 123h1M214 125h1M216 126h1M209 125h1M212 122h1M195 122h1M214 124h1M227 123h1M199 123h1M209 122h1M215 123h1M208 122h1M228 123h1M213 124h1M211 123h1M220 126h1M201 119h1M205 123h1M206 120h1M207 123h1M211 121h1M220 123h1M208 123h1M220 127h1M221 123h1M217 125h1M209 125h1M205 125h1M210 121h1M201 124h1M225 126h1M224 122h1M210 125h1M210 125h1M206 122h1M222 120h1M210 125h1M210 124h1M219 126h1M221 123h1M220 123h1M215 125h1M200 123h1" stroke="#333" stroke-opacity="0.17"/>
<path d="M215 114h1M204 116h1M211 113h1M216 116h1M197 116h1M217 112h1M204 114h1M207 112h1M194 113h1M206 112h1M209 119h1M209 117h1M206 116h1M203 114h1M204 119h1M210 116h1M220 117h1M204 113h1M206 112h1M216 110h1M197 117h1M212 109h1M207 115h1M205 114h1M212 114h1M201 121h1M206 110h1M215 108h1M197 115h1M210 116h1M217 113h1M214 117h1M209 114h1M195 112h1M210 110h1M204 118h1M212 115h1M204 116h1M212 109h1M212 111h1M202 118h1M217 115h1M205 117h1M216 120h1M220 115h1M217 118h1M220 109h1M216 114h1M222 116h1M207 117h1M209 118h1M218 108h1M214 117h1M197 114h1M212 118h1M218 112h1M218 112h1M203 115h1M210 115h1M216 112h1M207 117h1M214 113h1M214 114h1M202 111h1M214 113h1M209 119h1M208 109h1M206 120h1M205 114h1M218 111h1M212 109h1M212 112h1M204 112h1M215 110h1M210 113h1M212 115h1M210 111h1M200 116h1M216 113h1M215 111h1M199 109h1M222 111h1M214 110h1M220 111h1M207 120h1M215 112h1M206 113h1M208 108h1M202 119h1M205 113h1M215 116h1M221 111h1M206 111h1M214 112h1M197 112h1M215 108h1M204 118h1M211 110h1M221 117h1M209 111h1M212 110h1M204 117h1M210 113h1M204 113h1M207 109h1M212 109h1M217 118h1M200 120h1M207 115h1M207 113h1M215 112h1M216 113h1M210 115h1M205 116h1M203 115h1M206 113h1M213 117h1M204 108h1M210 122h1M207 110h1M195 112h1M208 116h1M210 113h1M206 112h1M214 114h1M205 111h1M208 117h1M213 110h1M202 118h1M205 117h1M211 116h1M220 108h1M204 119h1M199 118h1M210 116h1M213 115h1M198 112h1M209 118h1M211 114h1M215 117h1M205 116h1M215 112h1M206 117h1M209 112h1M218 119h1M204 115h1M207 116h1M202 115h1M211 111h1M204 114h1M209 115h1M210 121h1M200 113h1M218 109h1M222 113h1M212 110h1M208 120h1M222 112h1M224 112h1M211 112h1M210 113h1M210 114h1M207 117h1M213 108h1M210 122h1M193 120h1M203 120h1M203 121h1M203 122h1M205 122h1M199 122h1M205 122h1M206 124h1M202 124h1M200 118h1M204 120h1M208 125h1M205 124h1M194 119h1M200 124h1M204 122h1M196 124h1M194 121h1M203 117h1M205 123h1M204 125h1M208 120h1M204 118h1M201 121h1M206 119h1M198 123h1M204 121h1M203 120h1M207 125h1M202 119h1M201 117h1M204 126h1M206 121h1M196 125h1M197 120h1M198 121h1M209 121h1M197 118h1M196 119h1M201 122h1M201 119h1M195 123h1M197 123h1M204 121h1M202 125h1M202 124h1M203 122h1M197 119h1M201 127h1M206 124h1M193 126h1M201 118h1M196 120h1M223 124h1M213 125h1M218 123h1M222 125h1M207 122h1M206 123h1M208 122h1M230 127h1M225 124h1M205 126h1M211 127h1M222 122h1M216 123h1M202 123h1M216 123h1M212 121h1M205 122h1M208 124h1M200 121h1M209 124h1M217 122h1M208 119h1M204 123h1M220 127h1M216 124h1M205 122h1M198 123h1M223 121h1M215 125h1M208 121h1M221 122h1M231 124h1M203 121h1M213 124h1M207 123h1M209 120h1M210 123h1M216 124h1M201 122h1M204 123h1M213 126h1M213 123h1M202 121h1M197 119h1M218 123h1M196 119h1M212 123h1M217 125h1M231 126h1M215 122h1M218 123h1M206 125h1M205 123h1M211 123h1M204 124h1M206 126h1M227 126h1M211 124h1M214 126h1M213 122h1M214 124h1M231 123h1M203 120h1M195 121h1M228 124h1M220 122h1M211 126h1M216 124h1M224 122h1M216 125h1M225 125h1M227 125h1M203 126h1M215 123h1M218 125h1M213 123h1M229 126h1M196 122h1M209 122h1M217 124h1M216 125h1M226 123h1M219 126h1M203 124h1M217 123h1M225 125h1M195 124h1M194 121h1M204 124h1M208 125h1M201 124h1M205 122h1M194 119h1M221 126h1M203 124h1M231 123h1M208 123h1M195 123h1M210 120h1" stroke="#333" stroke-opacity="0.17"/>
<path d="M207 112h1M206 114h1M208 110h1M207 116h1M218 119h1M194 119h1M200 114h1M219 109h1M214 112h1M212 108h1M204 121h1M207 113h1M203 116h1M220 116h1M201 117h1M216 119h1M211 119h1M211 115h1M216 111h1M214 114h1M215 110h1M211 109h1M211 111h1M202 114h1M220 109h1M197 112h1M203 113h1M213 109h1M209 116h1M204 117h1M195 119h1M201 117h1M208 115h1M212 119h1M207 118h1M213 114h1M215 116h1M212 118h1M222 114h1M214 117h1M208 113h1M205 116h1M218 112h1M209 114h1M213 111h1M205 118h1M210 118h1M202 113h1M205 117h1M212 114h1M202 116h1M204 115h1M210 110h1M208 108h1M200 115h1M204 111h1M212 115h1M201 114h1M195 115h1M210 112h1M213 112h1M210 114h1M216 117h1M197 114h1M213 113h1M222 114h1M207 120h1M207 114h1M210 110h1M209 114h1M194 113h1M204 113h1M217 114h1M210 114h1M198 115h1M207 119h1M208 117h1M215 118h1M220 111h1M206 111h1M207 113h1M208 109h1M204 117h1M205 116h1M211 119h1M219 113h1M205 120h1M200 111h1M206 109h1M216 116h1M209 115h1M194 115h1M204 116h1M219 109h1M196 117h1M210 116h1M206 112h1M215 119h1M218 112h1M216 116h1M214 110h1M204 118h1M218 112h1M207 116h1M206 113h1M197 116h1M211 114h1M207 113h1M209 108h1M207 112h1M205 119h1M202 114h1M213 116h1M212 112h1M204 111h1M204 118h1M220 110h1M205 115h1M208 112h1M204 111h1M211 111h1M210 116h1M213 112h1M205 112h1M218 119h1M209 118h1M216 119h1M206 110h1M197 120h1M206 112h1M210 115h1M203 117h1M203 117h1M215 111h1M202 117h1M210 115h1M215 108h1M211 113h1M204 117h1M218 117h1M200 119h1M210 119h1M209 114h1M211 117h1M223 115h1M211 112h1M206 115h1M201 115h1M216 109h1M211 112h1M207 110h1M209 109h1M216 109h1M202 118h1M213 120h1M211 115h1M196 115h1M202 118h1M204 118h1M205 115h1M207 111h1M210 115h1M210 117h1M210 115h1M204 120h1M194 122h1M200 117h1M196 121h1M199 123h1M205 119h1M205 121h1M201 123h1M196 125h1M208 122h1M206 121h1M203 124h1M205 121h1M196 122h1M202 123h1M198 126h1M201 127h1M198 125h1M195 119h1M202 123h1M205 119h1M201 118h1M197 118h1M199 126h1M201 121h1M207 117h1M198 122h1M201 121h1M207 120h1M200 124h1M206 120h1M195 120h1M198 126h1M206 124h1M204 121h1M196 126h1M199 123h1M200 124h1M196 123h1M204 119h1M198 119h1M193 119h1M197 126h1M193 123h1M195 117h1M205 121h1M199 126h1M195 122h1M205 121h1M208 121h1M197 122h1M192 119h1M202 122h1M200 125h1M214 127h1M196 122h1M203 121h1M214 126h1M203 123h1M201 120h1M217 127h1M225 122h1M218 125h1M213 122h1M221 123h1M224 122h1M220 122h1M213 125h1M214 122h1M197 124h1M215 126h1M229 124h1M224 123h1M207 124h1M207 122h1M211 127h1M226 126h1M214 124h1M223 123h1M213 122h1M199 124h1M222 122h1M218 124h1M223 123h1M205 122h1M216 125h1M213 121h1M225 124h1M213 122h1M204 122h1M219 122h1M216 125h1M198 120h1M227 125h1M213 127h1M212 121h1M219 127h1M221 122h1M226 122h1M218 126h1M214 123h1M220 126h1M215 124h1M218 124h1M231 124h1M203 119h1M222 122h1M208 124h1M210 121h1M209 123h1M205 122h1M214 124h1M207 122h1M213 125h1M198 123h1M215 122h1M209 123h1M210 120h1M221 125h1M222 123h1M216 123h1M222 126h1M220 126h1M195 122h1M195 122h1M228 125h1M211 121h1M199 122h1M202 122h1M202 121h1M214 123h1M228 125h1M212 121h1M211 124h1M205 122h1M214 122h1M210 126h1M197 125h1M209 122h1M205 120h1M208 123h1M213 123h1M225 122h1M216 125h1M213 125h1M220 124h1M224 125h1M221 123h1M223 126h1M204 123h1M220 121h1M197 122h1M207 125h1" stroke="#333" stroke-opacity="0.17"/>
<path d="M208 116h1M209 110h1M207 115h1M209 115h1M214 120h1M217 118h1M211 116h1M216 117h1M211 113h1M205 110h1M197 117h1M205 107h1M213 115h1M212 114h1M213 116h1M207 110h1M219 116h1M206 114h1M204 121h1M221 115h1M216 119h1M201 114h1M221 112h1M196 116h1M210 114h1M202 115h1M202 113h1M208 117h1M204 116h1M203 116h1M214 120h1M207 117h1M207 117h1M215 116h1M197 120h1M212 111h1M199 114h1M211 119h1M197 113h1M213 112h1M212 116h1M207 116h1M214 113h1M216 112h1M207 117h1M209 114h1M204 117h1M206 110h1M213 114h1M209 117h1M200 120h1M212 108h1M209 112h1M207 114h1M208 109h1M209 110h1M201 120h1M202 117h1M202 113h1M218 112h1M208 110h1M196 118h1M212 120h1M213 114h1M210 118h1M211 115h1M206 115h1M203 117h1M206 113h1M201 114h1M219 111h1M212 117h1M216 119h1M199 118h1M200 117h1M202 117h1M217 107h1M200 116h1M209 113h1M217 111h1M209 116h1M209 115h1M207 119h1M211 116h1M202 117h1M209 116h1M202 113h1M204 119h1M203 118h1M210 111h1M208 109h1M219 113h1M205 119h1M209 108h1M205 115h1M207 119h1M213 110h1M204 115h1M213 114h1M206 117h1M207 108h1M209 113h1M211 120h1M208 119h1M221 116h1M207 116h1M214 115h1M208 113h1M212 116h1M209 115h1M214 112h1M217 118h1M202 119h1M197 114h1M208 115h1M204 116h1M202 122h1M198 113h1M211 110h1M220 117h1M211 110h1M211 116h1M223 110h1M222 111h1M201 113h1M208 110h1M221 110h1M210 111h1M213 117h1M217 118h1M204 117h1M212 109h1M202 112h1M214 115h1M214 113h1M203 115h1M203 114h1M203 118h1M211 114h1M209 119h1M214 115h1M202 113h1M201 116h1M201 110h1M211 110h1M203 111h1M211 108h1M216 117h1M212 115h1M206 115h1M198 115h1M206 112h1M197 118h1M212 114h1M204 116h1M207 112h1M211 117h1M201 121h1M211 110h1M211 115h1M211 111h1M203 117h1M216 113h1M206 114h1M193 121h1M208 124h1M197 120h1M194 124h1M194 116h1M202 123h1M210 122h1M203 118h1M194 119h1M209 121h1M205 124h1M204 119h1M205 123h1M203 117h1M201 120h1M195 122h1M201 124h1M195 122h1M205 117h1M198 118h1M205 115h1M201 124h1M200 124h1M201 124h1M197 128h1M204 122h1M202 120h1M196 116h1M201 125h1M196 126h1M195 121h1M203 123h1M201 117h1M193 122h1M206 120h1M202 120h1M193 124h1M210 120h1M200 120h1M199 122h1M202 120h1M201 126h1M199 119h1M194 122h1M195 122h1M206 120h1M200 119h1M201 122h1M208 125h1M192 117h1M195 120h1M196 121h1M197 123h1M200 125h1M224 123h1M218 124h1M213 123h1M198 123h1M210 123h1M204 121h1M218 123h1M207 123h1M209 123h1M224 124h1M228 124h1M229 125h1M224 122h1M219 124h1M223 124h1M198 122h1M222 124h1M211 122h1M207 124h1M197 121h1M200 120h1M221 125h1M209 122h1M213 125h1M208 123h1M226 126h1M214 122h1M209 124h1M221 121h1M221 122h1M205 122h1M210 124h1M202 123h1M213 124h1M222 125h1M203 119h1M216 125h1M219 126h1M213 124h1M199 125h1M205 123h1M204 125h1M217 122h1M224 121h1M215 125h1M205 122h1M220 124h1M203 123h1M215 121h1M207 127h1M214 124h1M202 122h1M199 122h1M220 124h1M204 124h1M195 124h1M209 124h1M216 122h1M215 123h1M215 123h1M212 125h1M224 125h1M210 123h1M223 127h1M215 127h1M200 124h1M213 126h1M225 122h1M207 122h1M210 123h1M209 124h1M210 121h1M208 123h1M211 122h1M222 122h1M208 124h1M199 123h1M212 123h1M216 120h1M202 121h1M228 125h1M200 122h1M209 124h1M218 125h1M192 122h1M207 125h1M207 123h1M205 123h1M213 122h1M213 123h1M213 123h1M200 124h1M194 122h1M214 122h1M211 121h1M215 125h1M222 125h1M225 126h1M224 124h1" stroke="#333" stroke-opacity="0.17"/>
<path d="M207 118h1M211 115h1M220 111h1M210 116h1M216 111h1M208 111h1M199 113h1M210 113h1M212 115h1M202 115h1M216 113h1M205 116h1M196 117h1M209 110h1M206 116h1M206 109h1M208 118h1M203 117h1M219 109h1M209 111h1M212 114h1M219 116h1M205 117h1M214 119h1M209 113h1M208 114h1M213 118h1M206 107h1M204 121h1M215 118h1M208 114h1M208 115h1M208 122h1M213 116h1M204 114h1M197 115h1M210 114h1M214 110h1M213 117h1M203 114h1M205 118h1M208 120h1M213 117h1M209 111h1M205 113h1M202 112h1M207 114h1M205 119h1M202 115h1M200 116h1M199 115h1M194 118h1M212 115h1M205 121h1M201 117h1M212 117h1M205 111h1M197 110h1M209 116h1M214 111h1M211 116h1M212 114h1M209 110h1M215 115h1M197 113h1M204 111h1M209 116h1M202 112h1M205 111h1M209 111h1M212 116h1M217 118h1M207 113h1M216 114h1M211 110h1M204 117h1M208 112h1M210 120h1M202 116h1M203 110h1M216 112h1M201 121h1M206 111h1M210 111h1M214 115h1M201 117h1M205 115h1M210 113h1M209 110h1M216 112h1M201 112h1M203 115h1M200 118h1M205 112h1M211 110h1M194 114h1M202 110h1M209 114h1M208 107h1M217 110h1M214 111h1M220 116h1M219 115h1M209 114h1M208 111h1M206 113h1M214 108h1M205 113h1M216 112h1M208 110h1M198 115h1M210 115h1M210 114h1M214 113h1M218 111h1M209 117h1M210 113h1M214 111h1M196 114h1M197 120h1M201 114h1M208 117h1M209 121h1M207 114h1M199 116h1M197 117h1M212 111h1M210 113h1M203 114h1M198 115h1M207 113h1M200 116h1M213 113h1M210 119h1M211 115h1M214 112h1M208 111h1M202 120h1M199 110h1M203 119h1M206 115h1M211 113h1M211 114h1M198 116h1M215 116h1M209 113h1M212 110h1M217 118h1M202 112h1M206 115h1M217 118h1M205 115h1M203 114h1M216 110h1M199 115h1M208 113h1M193 117h1M211 114h1M199 118h1M215 118h1M215 107h1M205 122h1M199 114h1M204 114h1M194 120h1M202 119h1M205 118h1M200 125h1M200 123h1M205 125h1M207 121h1M198 117h1M195 119h1M197 119h1M199 120h1M203 122h1M206 122h1M200 118h1M199 120h1M199 119h1M204 120h1M200 118h1M205 118h1M199 116h1M200 127h1M204 118h1M197 119h1M203 124h1M204 121h1M201 123h1M201 125h1M202 121h1M199 124h1M210 118h1M204 121h1M193 122h1M198 121h1M197 123h1M199 120h1M199 124h1M207 124h1M193 117h1M201 124h1M199 126h1M204 123h1M200 123h1M195 123h1M199 123h1M197 123h1M195 120h1M198 125h1M192 121h1M201 124h1M199 118h1M199 122h1M203 121h1M206 119h1M224 121h1M215 122h1M214 122h1M218 123h1M220 125h1M231 126h1M218 121h1M230 126h1M219 123h1M225 125h1M216 124h1M208 124h1M203 124h1M222 124h1M199 124h1M204 122h1M218 125h1M216 125h1M205 120h1M207 124h1M204 127h1M203 123h1M200 122h1M209 125h1M210 125h1M213 124h1M200 119h1M205 120h1M234 124h1M208 124h1M208 121h1M211 125h1M226 125h1M216 126h1M209 121h1M222 122h1M216 124h1M213 123h1M210 123h1M212 122h1M218 125h1M220 123h1M209 122h1M216 127h1M213 124h1M215 120h1M195 123h1M209 120h1M205 121h1M195 125h1M210 123h1M204 124h1M207 123h1M209 125h1M215 123h1M204 124h1M214 122h1M202 120h1M219 123h1M220 126h1M198 122h1M214 124h1M210 122h1M218 123h1M210 123h1M213 125h1M209 122h1M227 127h1M196 122h1M194 122h1M209 125h1M205 123h1M215 127h1M213 127h1M207 121h1M198 125h1M211 124h1M223 123h1M214 126h1M225 127h1M206 124h1M218 123h1M211 122h1M211 127h1M212 126h1M228 124h1M202 125h1M211 123h1M214 123h1M209 120h1M209 121h1M204 124h1M216 123h1M215 122h1M201 121h1M217 122h1M197 125h1M231 125h1M213 123h1" stroke="#333" stroke-opacity="0.17"/>
</g>
<rect x="191.70" y="83.20" width="66.60" height="48.90" fill="none" stroke="#333" stroke-width="0.8"/>
<line x1="191.70" y1="83.20" x2="191.70" y2="132.10" stroke="#111" stroke-width="1.15"/>
<line x1="191.70" y1="132.10" x2="258.30" y2="132.10" stroke="#111" stroke-width="1.15"/>
<rect x="198.80" y="106.40" width="35.00" height="15.30" fill="none" stroke="#222" stroke-width="0.95" rx="1"/>
<text x="215.7" y="105.10000000000001" font-size="6.30" text-anchor="middle" font-weight="bold" font-family="'Liberation Sans',sans-serif" fill="#000">45.3</text>
<text x="192.5" y="136.9" font-size="3.60" text-anchor="middle" font-weight="bold" font-family="'Liberation Serif',serif" fill="#222">1</text>
<text x="208.7" y="136.9" font-size="3.60" text-anchor="middle" font-weight="bold" font-family="'Liberation Serif',serif" fill="#222">10</text>
<text x="224.9" y="136.9" font-size="3.60" text-anchor="middle" font-weight="bold" font-family="'Liberation Serif',serif" fill="#222">100</text>
<text x="241.1" y="136.9" font-size="3.60" text-anchor="middle" font-weight="bold" font-family="'Liberation Serif',serif" fill="#222">1000</text>
<g filter="url(#sb)" transform="translate(0 .5)">
<path d="M268 114h1M274 113h1M276 113h1M276 112h1M287 116h1M275 118h1M277 114h1M273 113h1M271 111h1M279 109h1M283 115h1M267 113h1M286 115h1M284 111h1M277 118h1M268 124h1M269 114h1M284 109h1M287 115h1M266 117h1M277 116h1M278 110h1M274 116h1M279 112h1M274 120h1M267 114h1M268 113h1M265 111h1M279 116h1M278 119h1M283 112h1M278 119h1M271 113h1M269 111h1M266 114h1M273 108h1M277 119h1M283 116h1M272 108h1M269 118h1M276 122h1M271 118h1M282 116h1M277 115h1M271 118h1M277 114h1M268 115h1M269 115h1M269 121h1M272 122h1M272 114h1M283 112h1M278 117h1M275 114h1M278 116h1M288 118h1M273 108h1M279 115h1M278 117h1M279 121h1M273 111h1M267 118h1M281 122h1M279 111h1M288 117h1M281 121h1M274 113h1M267 118h1M287 118h1M274 114h1M263 117h1M273 123h1M279 114h1M269 115h1M271 118h1M284 112h1M279 118h1M278 113h1M280 111h1M270 120h1M274 115h1M277 119h1M272 117h1M267 118h1M283 119h1M270 111h1M273 117h1M272 112h1M280 117h1M285 111h1M271 122h1M272 118h1M276 115h1M276 111h1M274 117h1M271 118h1M266 117h1M271 117h1M274 117h1M265 119h1M269 116h1M270 117h1M271 111h1M281 115h1M276 119h1M273 117h1M261 114h1M275 118h1M276 117h1M269 114h1M264 116h1M273 114h1M276 115h1M266 118h1M281 107h1M276 111h1M287 112h1M285 117h1M272 116h1M268 118h1M283 113h1M275 109h1M282 118h1M274 112h1M270 120h1M285 112h1M280 114h1M278 116h1M282 110h1M270 113h1M264 113h1M268 122h1M276 116h1M274 116h1M268 111h1M273 120h1M275 108h1M269 112h1M270 119h1M265 119h1M271 110h1M272 117h1M269 115h1M278 114h1M268 115h1M279 116h1M273 112h1M270 115h1M284 114h1M272 117h1M278 115h1M267 116h1M278 119h1M268 122h1M263 120h1M281 116h1M266 117h1M279 113h1M272 122h1M273 116h1M282 112h1M273 120h1M270 118h1M267 128h1M276 122h1M268 122h1M264 128h1M262 127h1M272 121h1M268 122h1M266 126h1M270 127h1M274 123h1M276 124h1M269 119h1M263 126h1M268 126h1M272 121h1M277 121h1M271 125h1M270 123h1M266 121h1M270 126h1M263 125h1M263 118h1M267 125h1M265 125h1M269 126h1M263 126h1M263 125h1M273 122h1M264 122h1M265 128h1M265 123h1M277 120h1M272 125h1M269 120h1M266 122h1M266 125h1M273 125h1M271 122h1M271 124h1M267 117h1M268 120h1M265 126h1M269 122h1M272 127h1M274 124h1M266 127h1M270 124h1M263 124h1M269 123h1M268 122h1M268 116h1M261 128h1M268 127h1M266 124h1M266 123h1M263 122h1M263 128h1M269 117h1M270 122h1M265 122h1M264 125h1M261 122h1M275 124h1M271 123h1M272 119h1M276 121h1M266 122h1M267 125h1M265 121h1M275 123h1M289 124h1M274 122h1M284 123h1M284 124h1M263 124h1M263 123h1M286 124h1M291 124h1M270 125h1M272 125h1M272 123h1M270 122h1M265 126h1M282 126h1M287 127h1M274 123h1M271 126h1M270 123h1M272 124h1M276 125h1M278 126h1M283 123h1M276 124h1M282 126h1M295 124h1M268 124h1M289 123h1M271 125h1M284 125h1M286 127h1M284 124h1M274 126h1M271 126h1M286 123h1M276 124h1M287 124h1M293 126h1M287 127h1M269 122h1M278 124h1M278 124h1M274 126h1M284 126h1M275 124h1M283 125h1M290 126h1M295 126h1M285 125h1M271 123h1M274 122h1M272 124h1M282 127h1M276 124h1M277 126h1M283 121h1M269 126h1M273 124h1M270 123h1M278 127h1M284 125h1M275 123h1M267 123h1M288 128h1M285 124h1M272 124h1M279 121h1M273 122h1M283 124h1M286 126h1M271 124h1M282 125h1M284 121h1M280 124h1M271 125h1M280 121h1" stroke="#333" stroke-opacity="0.17"/>
<path d="M273 117h1M279 114h1M274 112h1M275 121h1M275 123h1M270 112h1M273 115h1M273 116h1M264 114h1M289 113h1M276 113h1M267 120h1M288 117h1M266 118h1M272 112h1M263 122h1M273 110h1M265 111h1M282 112h1M269 111h1M275 106h1M264 117h1M266 112h1M279 115h1M262 122h1M263 116h1M285 121h1M285 113h1M271 114h1M272 112h1M278 118h1M275 120h1M268 112h1M279 118h1M268 111h1M263 114h1M269 121h1M277 117h1M277 114h1M275 113h1M263 119h1M283 114h1M276 116h1M283 116h1M271 121h1M271 115h1M285 116h1M266 117h1M276 120h1M276 122h1M280 112h1M284 113h1M267 117h1M273 110h1M269 112h1M276 117h1M263 115h1M283 118h1M264 116h1M282 117h1M269 115h1M277 115h1M274 119h1M273 119h1M268 121h1M270 117h1M270 110h1M268 124h1M265 110h1M277 122h1M276 110h1M284 115h1M283 111h1M267 108h1M271 115h1M288 109h1M270 116h1M277 119h1M275 114h1M267 121h1M278 118h1M270 109h1M271 115h1M267 112h1M268 110h1M273 115h1M271 115h1M275 117h1M275 117h1M273 112h1M272 116h1M277 114h1M270 114h1M264 121h1M280 112h1M274 112h1M278 112h1M281 111h1M271 116h1M281 110h1M283 119h1M282 110h1M275 111h1M269 110h1M273 113h1M281 120h1M277 107h1M272 114h1M276 119h1M281 115h1M280 118h1M266 116h1M271 110h1M271 118h1M274 121h1M266 115h1M278 112h1M270 115h1M268 121h1M280 110h1M279 114h1M270 115h1M276 110h1M267 117h1M284 108h1M278 118h1M280 117h1M275 116h1M273 113h1M268 115h1M267 121h1M274 122h1M275 115h1M270 118h1M275 117h1M269 113h1M280 109h1M274 114h1M279 110h1M269 124h1M279 112h1M286 119h1M269 118h1M270 118h1M266 117h1M286 113h1M269 116h1M274 118h1M288 110h1M274 109h1M278 123h1M267 113h1M279 121h1M279 119h1M287 110h1M271 114h1M276 113h1M265 119h1M279 114h1M271 121h1M282 117h1M273 113h1M266 120h1M271 122h1M268 130h1M264 126h1M274 121h1M269 124h1M273 121h1M268 121h1M267 123h1M266 125h1M271 127h1M265 118h1M272 121h1M272 124h1M262 124h1M262 126h1M264 126h1M266 128h1M271 126h1M270 120h1M262 120h1M269 125h1M266 122h1M270 122h1M269 124h1M266 125h1M267 122h1M275 120h1M267 123h1M274 123h1M274 126h1M266 121h1M265 119h1M273 126h1M265 124h1M276 124h1M274 123h1M272 122h1M264 120h1M271 122h1M271 121h1M265 121h1M272 128h1M268 123h1M267 119h1M270 123h1M273 126h1M269 125h1M272 123h1M268 125h1M267 124h1M271 120h1M267 125h1M271 123h1M265 123h1M264 128h1M271 124h1M262 121h1M268 124h1M269 125h1M264 121h1M271 121h1M273 119h1M270 121h1M267 122h1M262 123h1M267 123h1M271 124h1M271 128h1M263 120h1M269 120h1M285 123h1M269 121h1M295 124h1M281 122h1M269 126h1M279 121h1M278 124h1M270 126h1M275 124h1M273 127h1M291 127h1M287 124h1M295 126h1M283 124h1M273 124h1M279 127h1M279 122h1M277 123h1M288 124h1M280 126h1M277 127h1M277 125h1M269 122h1M273 128h1M287 123h1M275 126h1M276 126h1M280 125h1M273 127h1M282 124h1M277 123h1M265 124h1M282 126h1M287 126h1M262 123h1M275 126h1M265 124h1M277 125h1M282 124h1M280 123h1M286 127h1M286 122h1M281 124h1M283 124h1M266 124h1M275 124h1M295 125h1M286 123h1M271 124h1M273 124h1M280 126h1M273 124h1M273 125h1M279 126h1M267 124h1M285 121h1M276 122h1M277 122h1M268 124h1M277 128h1M271 126h1M277 124h1M268 124h1M270 125h1M277 123h1M273 123h1M281 123h1M270 125h1M288 121h1M280 125h1M281 122h1M290 124h1M280 125h1M279 125h1M271 126h1" stroke="#333" stroke-opacity="0.17"/>
<path d="M276 111h1M280 111h1M283 113h1M276 113h1M281 112h1M273 118h1M266 117h1M272 117h1M286 111h1M281 114h1M263 116h1M271 117h1M272 120h1M271 114h1M267 118h1M261 117h1M285 111h1M280 112h1M271 116h1M267 111h1M279 120h1M275 118h1M284 116h1M282 120h1M281 109h1M285 118h1M273 117h1M282 117h1M278 112h1M268 116h1M266 114h1M282 109h1M268 115h1M274 109h1M288 117h1M271 113h1M266 115h1M272 110h1M275 118h1M267 114h1M266 116h1M281 114h1M272 117h1M280 120h1M274 122h1M267 119h1M287 116h1M275 118h1M273 120h1M274 113h1M281 113h1M271 115h1M276 117h1M274 120h1M269 114h1M278 109h1M282 113h1M272 117h1M272 118h1M284 109h1M282 113h1M280 116h1M275 115h1M279 118h1M275 115h1M271 115h1M271 114h1M267 109h1M283 111h1M263 116h1M278 114h1M279 112h1M272 117h1M279 118h1M268 118h1M264 117h1M279 112h1M275 113h1M283 109h1M276 106h1M281 118h1M274 117h1M283 109h1M278 116h1M281 116h1M281 113h1M275 117h1M266 114h1M281 112h1M281 118h1M272 116h1M274 117h1M271 117h1M269 114h1M267 112h1M273 115h1M275 114h1M272 112h1M276 122h1M276 118h1M279 123h1M270 116h1M278 110h1M278 114h1M281 121h1M282 118h1M274 112h1M279 112h1M280 110h1M265 121h1M277 116h1M262 116h1M278 109h1M284 112h1M274 118h1M273 120h1M276 114h1M269 111h1M277 119h1M270 116h1M279 114h1M271 119h1M262 116h1M272 117h1M269 114h1M280 117h1M271 117h1M276 116h1M272 116h1M277 123h1M274 113h1M265 121h1M275 108h1M275 118h1M285 113h1M271 115h1M282 117h1M271 114h1M276 113h1M273 106h1M274 110h1M264 123h1M267 113h1M265 123h1M285 113h1M280 115h1M288 116h1M274 115h1M277 120h1M280 117h1M287 108h1M275 115h1M280 122h1M272 119h1M286 116h1M278 115h1M265 116h1M282 107h1M273 119h1M270 116h1M280 118h1M278 117h1M270 120h1M268 124h1M268 125h1M266 119h1M264 121h1M270 123h1M273 119h1M269 124h1M267 122h1M261 127h1M266 124h1M267 123h1M271 123h1M268 118h1M274 126h1M268 123h1M263 125h1M263 124h1M272 129h1M267 119h1M277 126h1M275 126h1M276 123h1M264 121h1M275 126h1M269 125h1M266 125h1M262 128h1M271 128h1M268 121h1M275 125h1M267 121h1M266 121h1M263 119h1M263 120h1M264 125h1M269 118h1M271 127h1M266 124h1M261 126h1M267 126h1M266 118h1M263 128h1M261 126h1M268 123h1M271 125h1M269 130h1M272 124h1M275 123h1M269 122h1M266 119h1M265 122h1M266 124h1M270 122h1M269 119h1M269 124h1M272 122h1M268 118h1M266 124h1M263 120h1M267 119h1M270 124h1M276 119h1M270 121h1M273 121h1M262 119h1M274 123h1M265 122h1M273 125h1M272 122h1M261 124h1M285 126h1M268 121h1M273 123h1M282 124h1M273 125h1M276 124h1M290 125h1M279 123h1M275 121h1M277 125h1M281 121h1M277 125h1M273 124h1M279 124h1M291 124h1M292 128h1M287 125h1M280 127h1M273 126h1M286 122h1M273 124h1M275 125h1M284 127h1M291 125h1M291 126h1M286 126h1M290 128h1M274 123h1M287 123h1M263 123h1M281 122h1M277 123h1M270 122h1M291 123h1M286 126h1M281 125h1M281 124h1M285 124h1M269 126h1M280 122h1M282 126h1M278 124h1M275 125h1M274 123h1M274 125h1M283 127h1M280 125h1M286 126h1M286 121h1M284 123h1M269 122h1M280 124h1M278 123h1M267 123h1M268 125h1M268 122h1M279 123h1M280 122h1M283 125h1M264 125h1M266 123h1M281 125h1M270 123h1M278 123h1M265 125h1M272 122h1M272 121h1M277 124h1M265 121h1M277 122h1M275 125h1M274 123h1M263 123h1M273 125h1M281 125h1" stroke="#333" stroke-opacity="0.17"/>
<path d="M281 119h1M278 115h1M268 115h1M272 121h1M269 113h1M277 118h1M271 118h1M275 115h1M277 117h1M266 112h1M265 112h1M270 118h1M265 121h1M274 118h1M281 118h1M277 115h1M278 121h1M274 113h1M271 111h1M267 113h1M279 118h1M273 119h1M271 112h1M269 118h1M276 112h1M279 118h1M277 116h1M275 112h1M279 120h1M279 115h1M277 121h1M274 120h1M283 117h1M272 118h1M286 114h1M286 118h1M290 113h1M271 119h1M269 114h1M282 115h1M276 109h1M279 119h1M273 115h1M281 113h1M265 117h1M265 116h1M271 111h1M268 111h1M273 114h1M275 115h1M279 120h1M274 114h1M281 117h1M266 112h1M270 119h1M276 120h1M280 121h1M280 113h1M278 110h1M278 117h1M281 115h1M281 120h1M281 116h1M272 123h1M274 116h1M271 119h1M268 118h1M264 114h1M279 111h1M277 118h1M276 108h1M265 113h1M274 111h1M270 115h1M271 110h1M266 118h1M275 113h1M278 121h1M275 109h1M269 120h1M269 117h1M265 113h1M269 117h1M284 115h1M273 112h1M271 112h1M276 116h1M275 119h1M270 115h1M276 115h1M268 113h1M273 119h1M274 115h1M271 112h1M269 113h1M277 114h1M283 110h1M271 114h1M269 115h1M265 112h1M274 115h1M276 123h1M265 116h1M268 112h1M280 109h1M284 118h1M278 110h1M272 119h1M282 111h1M264 119h1M280 115h1M285 109h1M278 115h1M272 119h1M279 109h1M281 112h1M269 118h1M265 119h1M272 115h1M261 119h1M270 118h1M276 120h1M265 119h1M272 119h1M279 118h1M277 112h1M278 113h1M265 115h1M270 112h1M271 121h1M283 115h1M269 117h1M269 114h1M269 112h1M281 113h1M279 114h1M267 116h1M286 111h1M279 115h1M280 119h1M275 122h1M271 110h1M287 116h1M280 113h1M278 113h1M282 116h1M270 118h1M276 113h1M276 112h1M282 118h1M281 109h1M278 112h1M285 113h1M277 110h1M264 116h1M268 114h1M275 109h1M268 112h1M272 111h1M272 115h1M285 114h1M279 117h1M262 121h1M266 125h1M264 122h1M266 117h1M274 124h1M270 124h1M262 127h1M271 128h1M269 122h1M273 125h1M265 126h1M269 122h1M271 120h1M270 122h1M272 124h1M265 125h1M271 122h1M261 124h1M263 128h1M269 123h1M266 124h1M268 125h1M263 117h1M264 121h1M272 122h1M269 123h1M261 121h1M268 123h1M272 126h1M264 128h1M270 127h1M268 122h1M272 121h1M264 123h1M271 124h1M271 121h1M268 119h1M269 129h1M272 122h1M273 123h1M274 122h1M276 123h1M264 120h1M264 121h1M265 125h1M265 125h1M266 126h1M269 123h1M265 121h1M270 119h1M271 120h1M271 121h1M261 125h1M261 129h1M267 120h1M264 124h1M271 122h1M273 122h1M267 120h1M262 125h1M261 119h1M276 120h1M269 125h1M266 122h1M264 124h1M273 119h1M269 125h1M266 122h1M267 125h1M273 126h1M264 124h1M269 126h1M279 123h1M278 123h1M288 127h1M267 125h1M269 122h1M291 126h1M280 123h1M297 124h1M278 125h1M280 126h1M277 127h1M275 123h1M288 126h1M282 127h1M268 120h1M265 124h1M274 125h1M275 122h1M288 125h1M263 125h1M278 125h1M264 124h1M282 124h1M277 124h1M288 124h1M273 125h1M279 127h1M289 127h1M286 127h1M286 123h1M281 123h1M278 126h1M293 126h1M290 126h1M271 124h1M279 125h1M276 124h1M273 120h1M278 124h1M283 123h1M269 122h1M286 124h1M285 127h1M271 123h1M268 124h1M284 123h1M281 124h1M291 128h1M287 122h1M268 125h1M283 127h1M282 125h1M281 128h1M289 125h1M279 126h1M288 128h1M287 127h1M272 125h1M281 122h1M283 123h1M274 122h1M269 123h1M275 127h1M279 127h1M267 122h1M292 122h1M272 123h1M271 123h1M281 124h1M277 127h1M273 123h1M288 127h1M278 125h1" stroke="#333" stroke-opacity="0.17"/>
<path d="M272 118h1M271 115h1M279 114h1M266 117h1M279 119h1M279 112h1M279 117h1M266 110h1M269 112h1M278 118h1M277 115h1M269 116h1M277 113h1M282 116h1M277 119h1M268 111h1M271 116h1M276 114h1M270 120h1M277 110h1M274 106h1M281 114h1M279 113h1M265 113h1M273 120h1M269 122h1M274 112h1M262 119h1M264 113h1M274 121h1M267 113h1M266 113h1M278 115h1M263 114h1M264 117h1M282 120h1M272 109h1M284 112h1M279 115h1M281 114h1M267 115h1M280 116h1M278 121h1M272 113h1M271 123h1M267 113h1M267 115h1M281 115h1M274 112h1M284 111h1M278 111h1M285 115h1M279 119h1M278 111h1M273 116h1M276 118h1M279 114h1M286 114h1M271 110h1M273 118h1M266 118h1M285 110h1M284 114h1M275 121h1M277 119h1M269 120h1M266 119h1M267 118h1M274 119h1M279 118h1M266 115h1M276 112h1M275 121h1M273 109h1M281 111h1M281 116h1M264 114h1M263 115h1M276 110h1M277 114h1M267 111h1M269 109h1M263 114h1M274 110h1M273 113h1M278 116h1M277 115h1M280 116h1M275 113h1M270 115h1M273 122h1M274 112h1M277 120h1M263 117h1M282 119h1M277 118h1M279 120h1M274 117h1M270 121h1M269 116h1M265 113h1M269 123h1M279 113h1M277 110h1M276 116h1M275 119h1M284 116h1M272 120h1M277 120h1M276 116h1M274 108h1M280 113h1M287 115h1M281 116h1M267 117h1M282 114h1M269 117h1M271 121h1M272 119h1M266 121h1M278 115h1M264 117h1M266 116h1M271 113h1M276 109h1M269 115h1M274 112h1M267 123h1M275 110h1M266 111h1M271 116h1M270 117h1M282 108h1M279 118h1M280 118h1M281 116h1M270 116h1M269 114h1M274 113h1M271 116h1M278 110h1M272 113h1M276 120h1M280 119h1M274 117h1M279 110h1M276 113h1M279 117h1M271 116h1M270 114h1M282 113h1M266 121h1M264 115h1M280 119h1M271 117h1M284 116h1M275 110h1M270 121h1M279 122h1M274 108h1M276 116h1M264 116h1M265 122h1M264 122h1M270 124h1M267 127h1M269 127h1M265 124h1M271 128h1M270 120h1M265 125h1M269 129h1M270 123h1M264 118h1M264 126h1M277 120h1M269 122h1M262 124h1M265 118h1M264 127h1M268 126h1M263 127h1M266 124h1M266 122h1M268 120h1M264 123h1M271 125h1M266 126h1M266 122h1M272 126h1M263 121h1M274 126h1M269 125h1M267 123h1M265 124h1M267 125h1M269 119h1M269 124h1M268 122h1M276 121h1M267 125h1M272 121h1M262 126h1M267 121h1M263 125h1M268 127h1M267 127h1M263 125h1M268 117h1M264 122h1M276 123h1M265 124h1M265 122h1M266 120h1M273 121h1M272 122h1M265 122h1M272 129h1M271 124h1M270 123h1M270 122h1M264 121h1M268 122h1M272 123h1M276 119h1M266 122h1M271 124h1M271 123h1M265 124h1M276 123h1M267 122h1M265 126h1M271 123h1M272 123h1M284 126h1M268 122h1M271 127h1M273 122h1M271 126h1M285 126h1M261 124h1M291 125h1M271 126h1M296 127h1M265 122h1M284 127h1M279 122h1M273 123h1M283 125h1M284 122h1M274 124h1M277 125h1M269 123h1M267 126h1M277 126h1M267 123h1M276 125h1M270 124h1M273 127h1M278 124h1M277 126h1M272 124h1M276 125h1M285 127h1M278 127h1M286 124h1M279 125h1M278 125h1M297 127h1M280 125h1M275 121h1M276 124h1M287 123h1M267 124h1M286 126h1M277 124h1M277 123h1M266 124h1M274 125h1M265 121h1M269 124h1M273 123h1M281 123h1M279 124h1M288 124h1M271 121h1M268 126h1M270 126h1M286 127h1M273 124h1M272 122h1M285 124h1M286 125h1M281 124h1M265 123h1M293 126h1M284 122h1M288 127h1M279 125h1M277 126h1M274 128h1M288 126h1M270 126h1M286 129h1M271 121h1M279 123h1M284 124h1" stroke="#333" stroke-opacity="0.17"/>
</g>
<rect x="260.40" y="83.20" width="66.60" height="48.90" fill="none" stroke="#333" stroke-width="0.8"/>
<line x1="260.40" y1="83.20" x2="260.40" y2="132.10" stroke="#111" stroke-width="1.15"/>
<line x1="260.40" y1="132.10" x2="327.00" y2="132.10" stroke="#111" stroke-width="1.15"/>
<rect x="266.90" y="106.40" width="36.30" height="14.60" fill="none" stroke="#222" stroke-width="0.95" rx="1"/>
<text x="279.5" y="102.2" font-size="6.30" text-anchor="middle" font-weight="bold" font-family="'Liberation Sans',sans-serif" fill="#000">26.6</text>
<text x="261.2" y="136.9" font-size="3.60" text-anchor="middle" font-weight="bold" font-family="'Liberation Serif',serif" fill="#222">1</text>
<text x="277.4" y="136.9" font-size="3.60" text-anchor="middle" font-weight="bold" font-family="'Liberation Serif',serif" fill="#222">10</text>
<text x="293.59999999999997" y="136.9" font-size="3.60" text-anchor="middle" font-weight="bold" font-family="'Liberation Serif',serif" fill="#222">100</text>
<text x="309.79999999999995" y="136.9" font-size="3.60" text-anchor="middle" font-weight="bold" font-family="'Liberation Serif',serif" fill="#222">1000</text>
<g filter="url(#sb)" transform="translate(0 .5)">
<path d="M55 180h1M62 183h1M60 186h1M59 183h1M55 188h1M59 182h1M58 186h1M56 177h1M55 182h1M56 185h1M61 184h1M60 181h1M56 180h1M62 186h1M62 188h1M63 179h1M58 179h1M58 186h1M59 184h1M57 177h1M61 182h1M57 183h1M59 180h1M59 180h1M59 181h1M59 189h1M57 178h1M57 187h1M58 184h1M60 177h1M60 180h1M58 188h1M61 181h1M59 185h1M59 186h1M60 178h1M60 182h1M60 184h1M60 178h1M58 184h1M62 185h1M60 187h1M59 182h1M65 185h1M62 179h1M61 179h1M59 178h1M59 178h1M60 186h1M58 181h1M63 185h1M63 180h1M61 178h1M59 186h1M58 185h1M59 185h1M59 184h1M57 178h1M60 185h1M58 178h1M58 184h1M62 183h1M62 180h1M63 178h1M57 185h1M57 184h1M60 183h1M60 183h1M58 185h1M60 186h1M58 184h1M60 184h1M58 181h1M57 185h1M61 185h1M60 180h1M57 179h1M57 180h1M55 185h1M56 183h1M58 188h1M64 185h1M56 181h1M60 182h1M59 177h1M60 189h1M55 183h1M61 183h1M59 182h1M58 177h1M58 182h1M63 178h1M71 188h1M72 189h1M68 186h1M77 191h1M76 190h1M71 190h1M70 192h1M65 188h1M78 193h1M55 189h1M76 189h1M73 191h1M70 185h1M62 194h1M66 192h1M71 186h1M67 192h1M69 187h1M63 192h1M84 189h1M55 192h1M81 190h1M68 190h1M73 187h1M76 192h1M78 191h1M84 191h1M86 192h1M89 193h1M73 191h1M74 190h1M85 192h1M66 187h1M73 189h1M60 187h1M61 194h1M66 193h1M88 192h1M77 187h1M67 191h1M64 192h1M83 190h1M64 189h1M79 188h1M71 191h1M70 191h1M74 190h1M56 189h1M77 187h1M68 190h1M57 190h1M73 188h1M84 188h1M80 191h1M69 186h1M88 191h1M64 189h1M78 190h1M63 190h1M81 191h1M71 189h1M64 190h1M74 185h1M79 192h1M66 187h1M78 188h1M71 189h1M71 191h1M58 191h1M71 188h1M76 193h1M70 190h1M80 191h1M69 193h1M64 189h1M63 186h1M66 187h1M81 193h1M76 193h1M71 190h1M78 194h1M77 189h1M67 190h1M83 189h1M65 190h1M75 194h1M66 190h1M81 193h1M72 192h1M77 191h1M75 191h1M76 191h1M86 195h1M57 191h1M64 189h1M73 193h1M75 192h1M67 192h1M66 190h1M73 190h1M87 194h1M85 191h1M63 192h1M64 190h1M69 189h1M74 193h1M66 190h1M57 186h1M86 190h1M75 192h1M64 191h1M61 189h1M75 185h1M82 191h1M76 189h1M80 190h1M83 190h1M81 192h1M60 187h1M58 187h1M64 189h1M76 187h1M72 189h1M78 182h1M62 187h1M66 184h1M77 184h1M78 179h1M67 183h1M55 187h1M77 179h1M64 185h1M61 185h1M63 181h1M67 183h1M77 185h1M71 185h1M68 185h1M66 185h1M68 180h1M58 187h1M64 181h1M77 186h1M68 182h1M73 180h1M70 182h1M60 182h1M76 182h1M72 187h1M70 189h1M64 186h1M62 184h1M74 188h1M57 186h1M65 187h1M63 183h1M71 185h1M74 181h1M63 183h1M71 184h1M76 184h1M55 187h1M68 186h1M65 183h1M71 181h1M74 180h1M64 182h1M67 178h1M71 186h1M65 188h1M76 181h1" stroke="#333" stroke-opacity="0.17"/>
<path d="M57 184h1M62 183h1M61 184h1M61 186h1M60 182h1M58 182h1M63 176h1M59 187h1M57 183h1M60 176h1M58 182h1M63 185h1M59 185h1M59 182h1M62 180h1M55 182h1M62 185h1M57 176h1M56 185h1M62 182h1M59 185h1M62 181h1M60 180h1M56 185h1M60 186h1M60 180h1M56 186h1M58 183h1M60 180h1M56 181h1M55 184h1M64 181h1M61 182h1M58 188h1M59 181h1M61 185h1M64 178h1M60 182h1M56 185h1M59 179h1M61 185h1M57 180h1M60 187h1M60 180h1M63 177h1M59 185h1M62 186h1M60 178h1M58 181h1M56 181h1M58 183h1M58 184h1M58 182h1M59 185h1M59 178h1M61 181h1M60 181h1M61 183h1M59 179h1M60 175h1M62 179h1M60 185h1M61 182h1M59 190h1M58 184h1M58 179h1M64 180h1M58 182h1M62 186h1M58 188h1M56 179h1M56 182h1M60 177h1M58 182h1M56 177h1M63 178h1M64 181h1M61 185h1M59 185h1M58 186h1M57 183h1M56 178h1M56 183h1M56 181h1M58 186h1M61 187h1M61 184h1M57 182h1M62 185h1M62 187h1M55 187h1M60 178h1M67 192h1M75 189h1M66 188h1M57 190h1M75 188h1M71 192h1M65 189h1M71 188h1M67 194h1M72 188h1M76 188h1M66 190h1M78 190h1M77 186h1M70 189h1M81 192h1M73 190h1M76 190h1M76 190h1M72 189h1M72 188h1M59 188h1M61 191h1M68 188h1M72 188h1M57 191h1M65 187h1M77 189h1M71 188h1M81 192h1M64 189h1M74 189h1M67 187h1M86 190h1M67 192h1M89 193h1M71 188h1M65 191h1M78 188h1M58 190h1M62 194h1M67 190h1M65 192h1M59 191h1M69 194h1M69 189h1M73 191h1M76 193h1M64 189h1M65 191h1M64 193h1M78 190h1M74 193h1M67 190h1M84 192h1M80 195h1M66 189h1M78 189h1M74 193h1M58 192h1M84 193h1M92 192h1M62 195h1M81 190h1M79 192h1M74 188h1M81 192h1M71 186h1M67 190h1M64 194h1M72 192h1M84 187h1M87 193h1M68 194h1M77 190h1M77 190h1M70 189h1M81 190h1M59 188h1M77 188h1M70 191h1M78 190h1M75 194h1M75 193h1M60 190h1M75 189h1M65 193h1M63 190h1M59 189h1M75 191h1M56 187h1M57 188h1M89 190h1M77 191h1M72 195h1M70 188h1M84 194h1M82 189h1M59 190h1M62 189h1M76 192h1M73 194h1M93 191h1M61 192h1M56 190h1M71 188h1M73 190h1M64 192h1M67 188h1M80 187h1M81 193h1M71 194h1M80 190h1M73 191h1M70 191h1M76 191h1M79 193h1M66 186h1M67 193h1M69 181h1M70 179h1M70 184h1M72 182h1M63 181h1M65 187h1M66 183h1M69 185h1M73 184h1M66 185h1M64 185h1M61 183h1M64 190h1M70 188h1M67 186h1M69 182h1M62 182h1M66 186h1M67 183h1M63 186h1M73 189h1M62 186h1M68 185h1M61 183h1M70 190h1M69 181h1M69 188h1M70 182h1M75 181h1M72 188h1M70 183h1M62 183h1M74 181h1M68 185h1M61 188h1M67 182h1M60 183h1M62 182h1M64 185h1M79 182h1M73 187h1M61 185h1M65 186h1M63 189h1M71 184h1M74 183h1M69 183h1M68 184h1M68 179h1M68 183h1M64 186h1M76 182h1" stroke="#333" stroke-opacity="0.17"/>
<path d="M60 186h1M60 183h1M61 181h1M63 183h1M60 183h1M59 182h1M60 182h1M57 186h1M58 183h1M57 187h1M57 184h1M59 184h1M57 177h1M58 182h1M59 183h1M56 187h1M60 185h1M57 179h1M61 183h1M59 185h1M56 182h1M59 184h1M55 182h1M62 184h1M60 183h1M57 185h1M63 179h1M60 179h1M58 181h1M61 181h1M58 182h1M59 181h1M57 181h1M61 182h1M57 182h1M60 181h1M59 183h1M57 183h1M58 180h1M65 183h1M60 187h1M55 183h1M57 180h1M60 187h1M59 180h1M57 181h1M61 179h1M59 181h1M60 182h1M58 183h1M58 189h1M60 180h1M60 183h1M59 184h1M63 183h1M60 184h1M62 181h1M60 178h1M55 180h1M56 181h1M58 190h1M61 189h1M55 189h1M63 177h1M56 188h1M57 182h1M61 184h1M59 181h1M61 185h1M62 178h1M59 186h1M64 182h1M57 180h1M59 177h1M60 187h1M60 180h1M59 183h1M61 182h1M60 181h1M58 184h1M59 182h1M62 178h1M61 177h1M55 183h1M57 185h1M59 183h1M60 189h1M58 188h1M59 185h1M62 185h1M56 181h1M80 190h1M61 189h1M86 192h1M76 188h1M69 189h1M65 191h1M84 193h1M74 190h1M68 194h1M84 193h1M76 190h1M63 187h1M58 194h1M64 192h1M84 192h1M74 188h1M69 188h1M82 192h1M76 191h1M57 188h1M68 192h1M70 193h1M79 190h1M87 191h1M87 190h1M69 187h1M74 191h1M75 195h1M56 191h1M70 188h1M61 188h1M66 190h1M71 190h1M81 188h1M64 188h1M82 192h1M56 188h1M57 190h1M74 190h1M73 190h1M57 190h1M60 188h1M75 191h1M61 189h1M72 190h1M86 190h1M77 188h1M70 192h1M64 186h1M59 189h1M73 192h1M73 190h1M64 185h1M87 193h1M64 188h1M59 192h1M91 190h1M72 190h1M73 191h1M87 194h1M63 189h1M62 193h1M76 186h1M85 189h1M81 190h1M77 189h1M79 193h1M83 192h1M64 189h1M64 191h1M77 188h1M79 190h1M68 193h1M69 190h1M61 195h1M88 189h1M80 190h1M72 190h1M89 193h1M71 188h1M72 186h1M77 188h1M61 188h1M75 188h1M72 194h1M69 189h1M75 190h1M62 191h1M60 191h1M64 187h1M91 193h1M67 194h1M86 191h1M57 189h1M84 192h1M83 192h1M76 190h1M64 189h1M61 189h1M71 190h1M75 192h1M79 189h1M64 191h1M70 191h1M85 194h1M71 191h1M75 186h1M65 188h1M62 189h1M62 188h1M60 193h1M71 193h1M70 191h1M71 189h1M80 192h1M82 187h1M69 190h1M75 188h1M78 193h1M64 189h1M65 182h1M68 186h1M74 184h1M72 184h1M67 187h1M67 187h1M59 187h1M71 186h1M76 183h1M71 187h1M67 188h1M70 183h1M56 185h1M57 183h1M68 187h1M66 186h1M61 188h1M69 181h1M65 189h1M69 185h1M77 185h1M72 184h1M71 185h1M72 179h1M76 180h1M64 186h1M68 188h1M72 184h1M60 187h1M67 182h1M61 181h1M66 185h1M64 183h1M71 180h1M66 187h1M70 183h1M75 186h1M59 185h1M59 187h1M70 182h1M63 190h1M68 182h1M68 185h1M67 185h1M66 182h1M71 184h1M67 190h1M67 187h1M66 187h1M71 183h1M67 182h1M69 186h1" stroke="#333" stroke-opacity="0.17"/>
<path d="M55 187h1M55 184h1M58 177h1M63 184h1M62 185h1M60 186h1M57 189h1M57 187h1M62 180h1M63 185h1M61 188h1M56 180h1M59 183h1M58 179h1M59 185h1M61 187h1M62 185h1M61 186h1M59 179h1M62 188h1M59 181h1M57 180h1M59 180h1M62 178h1M58 178h1M57 179h1M57 184h1M57 181h1M57 184h1M60 186h1M60 180h1M62 182h1M57 183h1M60 185h1M57 189h1M59 187h1M60 182h1M58 184h1M59 185h1M58 185h1M59 185h1M63 180h1M63 179h1M59 180h1M61 185h1M58 182h1M57 184h1M59 182h1M56 182h1M57 185h1M62 186h1M56 177h1M61 187h1M59 182h1M59 190h1M57 178h1M57 189h1M55 182h1M59 182h1M62 181h1M57 186h1M56 186h1M60 181h1M58 181h1M60 181h1M61 179h1M59 176h1M56 181h1M58 186h1M62 180h1M60 180h1M60 183h1M62 188h1M63 182h1M62 181h1M58 187h1M56 187h1M59 186h1M59 183h1M61 179h1M60 181h1M61 181h1M61 181h1M59 185h1M58 179h1M64 187h1M61 184h1M64 181h1M59 182h1M55 183h1M60 178h1M80 191h1M86 189h1M62 187h1M75 193h1M66 186h1M76 191h1M71 188h1M71 191h1M84 189h1M72 192h1M79 189h1M69 189h1M74 190h1M59 189h1M70 188h1M87 192h1M69 188h1M66 189h1M65 193h1M69 189h1M56 190h1M73 189h1M63 192h1M84 190h1M74 190h1M78 192h1M69 192h1M69 191h1M73 190h1M58 188h1M83 189h1M77 192h1M81 187h1M61 193h1M94 192h1M71 187h1M81 191h1M76 190h1M77 190h1M74 192h1M67 188h1M73 190h1M69 190h1M86 190h1M75 194h1M77 194h1M63 188h1M80 193h1M84 191h1M88 190h1M59 191h1M76 190h1M87 191h1M61 192h1M72 193h1M80 190h1M64 193h1M63 190h1M67 189h1M77 192h1M85 195h1M87 192h1M84 194h1M84 190h1M70 192h1M70 190h1M76 190h1M58 186h1M67 188h1M61 191h1M73 189h1M89 189h1M77 189h1M66 189h1M74 189h1M57 188h1M72 187h1M81 190h1M72 190h1M58 192h1M77 190h1M65 188h1M78 191h1M69 190h1M77 190h1M74 191h1M71 190h1M61 188h1M66 187h1M81 190h1M59 191h1M74 191h1M70 192h1M63 186h1M58 193h1M70 192h1M77 190h1M74 190h1M74 192h1M74 189h1M84 189h1M72 188h1M74 188h1M72 195h1M66 190h1M70 188h1M84 190h1M72 195h1M85 192h1M68 188h1M70 192h1M72 185h1M89 193h1M74 188h1M64 190h1M63 190h1M71 190h1M74 191h1M72 192h1M70 192h1M68 183h1M69 185h1M60 183h1M72 182h1M67 182h1M66 179h1M79 183h1M68 185h1M59 182h1M70 183h1M74 180h1M61 184h1M68 183h1M56 186h1M67 187h1M73 184h1M70 187h1M65 187h1M71 185h1M69 185h1M69 184h1M60 180h1M62 187h1M64 185h1M70 184h1M74 182h1M70 188h1M66 184h1M78 183h1M57 188h1M74 182h1M58 182h1M63 187h1M64 187h1M67 182h1M62 186h1M65 185h1M74 184h1M62 183h1M65 180h1M67 178h1M71 187h1M68 182h1M67 187h1M60 189h1M79 184h1M75 185h1M71 184h1M63 181h1M73 182h1M64 186h1M73 185h1" stroke="#333" stroke-opacity="0.17"/>
<path d="M62 180h1M55 183h1M56 185h1M58 185h1M62 183h1M56 182h1M61 183h1M57 184h1M60 181h1M62 183h1M61 181h1M62 182h1M56 188h1M56 186h1M60 187h1M64 186h1M62 186h1M63 184h1M55 182h1M58 185h1M60 182h1M61 184h1M58 177h1M57 180h1M60 186h1M58 181h1M59 178h1M61 186h1M59 181h1M60 178h1M58 179h1M60 178h1M58 181h1M64 184h1M58 177h1M61 183h1M62 185h1M60 185h1M56 181h1M59 187h1M61 184h1M62 188h1M60 184h1M59 183h1M62 184h1M58 188h1M55 185h1M62 184h1M57 190h1M58 179h1M59 178h1M59 183h1M62 187h1M57 183h1M57 185h1M60 180h1M55 187h1M59 183h1M57 184h1M63 185h1M65 186h1M57 181h1M59 180h1M61 180h1M57 183h1M57 188h1M60 185h1M61 184h1M62 181h1M61 178h1M62 182h1M61 180h1M61 180h1M60 176h1M61 183h1M57 182h1M59 187h1M59 183h1M55 185h1M56 179h1M59 177h1M58 178h1M63 181h1M65 184h1M59 180h1M58 184h1M59 181h1M60 178h1M55 187h1M60 180h1M56 185h1M73 191h1M71 191h1M67 187h1M73 191h1M86 190h1M81 192h1M72 195h1M78 186h1M69 188h1M73 188h1M73 190h1M76 187h1M70 193h1M69 189h1M73 192h1M59 188h1M64 193h1M73 185h1M87 192h1M84 188h1M68 193h1M64 191h1M86 192h1M62 191h1M85 187h1M68 189h1M64 188h1M81 192h1M86 194h1M59 189h1M70 191h1M60 191h1M80 194h1M80 191h1M71 186h1M58 188h1M77 189h1M67 190h1M62 191h1M82 188h1M74 191h1M70 189h1M58 186h1M61 186h1M80 192h1M65 189h1M83 192h1M69 191h1M60 189h1M79 192h1M70 186h1M61 189h1M72 187h1M66 192h1M80 192h1M76 189h1M85 195h1M79 188h1M72 189h1M70 191h1M84 191h1M69 191h1M67 191h1M80 190h1M77 187h1M77 191h1M67 189h1M79 188h1M65 190h1M84 188h1M67 189h1M77 188h1M67 190h1M74 194h1M86 195h1M74 191h1M68 195h1M76 189h1M66 190h1M80 190h1M82 189h1M67 190h1M67 187h1M62 193h1M75 190h1M65 187h1M62 193h1M76 188h1M66 191h1M61 187h1M70 190h1M62 189h1M75 192h1M63 188h1M86 193h1M86 194h1M75 190h1M78 191h1M70 194h1M75 191h1M65 190h1M66 190h1M63 192h1M56 189h1M72 190h1M86 187h1M58 191h1M65 188h1M58 191h1M67 190h1M76 188h1M70 190h1M58 190h1M85 191h1M69 188h1M62 190h1M79 190h1M62 189h1M76 193h1M75 192h1M70 182h1M69 183h1M66 187h1M74 186h1M71 184h1M66 184h1M69 181h1M61 184h1M58 184h1M66 182h1M71 186h1M68 184h1M74 181h1M67 185h1M61 191h1M68 181h1M77 181h1M73 180h1M67 181h1M73 186h1M74 182h1M71 180h1M69 189h1M71 182h1M62 184h1M62 187h1M76 186h1M58 186h1M63 181h1M64 185h1M66 182h1M67 187h1M64 189h1M71 180h1M74 184h1M71 183h1M58 185h1M67 189h1M67 187h1M79 184h1M76 181h1M68 186h1M71 189h1M67 183h1M78 186h1M77 184h1M59 186h1M70 185h1M66 185h1M69 183h1M68 184h1M75 185h1" stroke="#333" stroke-opacity="0.17"/>
</g>
<rect x="54.20" y="150.30" width="66.60" height="48.90" fill="none" stroke="#333" stroke-width="0.8"/>
<line x1="54.20" y1="150.30" x2="54.20" y2="199.20" stroke="#111" stroke-width="1.15"/>
<line x1="54.20" y1="199.20" x2="120.80" y2="199.20" stroke="#111" stroke-width="1.15"/>
<rect x="54.40" y="174.40" width="10.00" height="16.00" fill="none" stroke="#222" stroke-width="0.95" rx="1"/>
<text x="71.80000000000001" y="169.2" font-size="6.30" text-anchor="middle" font-weight="bold" font-family="'Liberation Sans',sans-serif" fill="#000">27.3</text>
<text x="52.7" y="151.60000000000002" font-size="3.60" text-anchor="end" font-weight="bold" font-family="'Liberation Serif',serif" fill="#222">10000</text>
<text x="52.7" y="163.82500000000002" font-size="3.60" text-anchor="end" font-weight="bold" font-family="'Liberation Serif',serif" fill="#222">1000</text>
<text x="52.7" y="176.05" font-size="3.60" text-anchor="end" font-weight="bold" font-family="'Liberation Serif',serif" fill="#222">100</text>
<text x="52.7" y="188.27500000000003" font-size="3.60" text-anchor="end" font-weight="bold" font-family="'Liberation Serif',serif" fill="#222">10</text>
<text x="52.7" y="200.50000000000003" font-size="3.60" text-anchor="end" font-weight="bold" font-family="'Liberation Serif',serif" fill="#222">1</text>
<text x="55.0" y="204.00000000000003" font-size="3.60" text-anchor="middle" font-weight="bold" font-family="'Liberation Serif',serif" fill="#222">1</text>
<text x="71.2" y="204.00000000000003" font-size="3.60" text-anchor="middle" font-weight="bold" font-family="'Liberation Serif',serif" fill="#222">10</text>
<text x="87.4" y="204.00000000000003" font-size="3.60" text-anchor="middle" font-weight="bold" font-family="'Liberation Serif',serif" fill="#222">100</text>
<text x="103.6" y="204.00000000000003" font-size="3.60" text-anchor="middle" font-weight="bold" font-family="'Liberation Serif',serif" fill="#222">1000</text>
<g filter="url(#sb)" transform="translate(0 .5)">
<path d="M127 183h1M129 175h1M128 179h1M128 183h1M128 182h1M126 181h1M130 188h1M129 182h1M130 180h1M132 185h1M131 189h1M127 183h1M129 185h1M132 187h1M128 187h1M131 179h1M127 184h1M130 188h1M128 182h1M129 178h1M127 186h1M134 180h1M128 186h1M131 185h1M128 189h1M128 186h1M129 179h1M132 180h1M131 179h1M126 183h1M132 183h1M130 180h1M129 188h1M129 187h1M127 180h1M126 184h1M127 183h1M130 190h1M131 186h1M129 181h1M128 180h1M130 180h1M128 186h1M127 190h1M125 182h1M132 179h1M132 178h1M128 182h1M125 183h1M129 184h1M127 179h1M131 177h1M128 177h1M126 188h1M130 179h1M130 179h1M128 191h1M128 181h1M126 184h1M133 182h1M126 186h1M125 182h1M131 186h1M129 181h1M134 182h1M131 188h1M127 182h1M127 182h1M128 186h1M132 188h1M130 182h1M131 177h1M131 179h1M132 180h1M131 182h1M132 183h1M131 189h1M132 187h1M130 187h1M128 179h1M126 186h1M129 189h1M131 185h1M132 186h1M128 184h1M130 182h1M132 181h1M130 184h1M131 179h1M128 186h1M129 176h1M126 184h1M129 180h1M131 180h1M128 184h1M131 183h1M127 184h1M128 183h1M130 178h1M130 178h1M131 179h1M127 185h1M125 185h1M130 180h1M125 179h1M132 178h1M128 179h1M127 188h1M129 183h1M125 178h1M130 186h1M129 181h1M131 178h1M128 183h1M126 186h1M125 180h1M130 181h1M140 180h1M137 186h1M146 187h1M127 192h1M134 194h1M132 187h1M139 183h1M140 192h1M134 189h1M137 187h1M141 189h1M138 192h1M139 185h1M131 189h1M130 180h1M135 187h1M140 187h1M133 184h1M133 194h1M134 187h1M130 183h1M143 183h1M145 185h1M131 188h1M132 192h1M130 190h1M138 193h1M140 184h1M140 187h1M143 189h1M128 190h1M138 194h1M126 192h1M132 190h1M142 180h1M133 185h1M141 183h1M132 187h1M132 184h1M138 186h1M128 183h1M140 181h1M142 186h1M129 186h1M134 192h1M142 189h1M130 192h1M133 186h1M130 193h1M130 184h1M133 194h1M129 187h1M135 187h1M131 184h1M143 184h1M125 187h1M138 191h1M135 189h1M141 186h1M137 194h1M144 183h1M135 188h1M138 188h1M130 189h1M136 179h1M140 184h1M137 185h1M128 185h1M128 187h1M134 189h1M140 183h1M134 184h1M141 186h1M139 185h1M147 184h1M147 187h1M137 192h1M136 190h1M146 188h1M144 186h1M130 184h1M127 185h1M135 187h1M136 189h1M139 184h1M133 190h1M129 186h1M129 188h1M136 185h1M139 186h1M139 192h1M152 180h1M153 178h1M148 182h1M148 182h1M147 182h1M145 184h1M144 184h1M153 180h1M147 182h1M146 183h1M152 180h1M152 181h1M146 183h1M150 180h1M137 194h1M144 193h1M136 191h1M137 192h1M137 192h1M140 192h1M138 193h1M144 190h1M127 191h1M133 193h1M131 192h1M131 191h1M141 192h1M140 190h1M141 191h1M139 191h1M135 195h1M129 192h1M149 192h1M131 191h1M132 192h1M145 192h1M139 192h1M136 191h1M134 189h1M141 190h1M139 188h1M133 192h1M145 190h1M141 189h1M133 189h1M139 192h1M139 189h1M138 193h1M126 192h1M136 193h1M129 194h1M132 191h1M148 192h1M133 189h1" stroke="#333" stroke-opacity="0.17"/>
<path d="M128 182h1M125 182h1M127 183h1M127 181h1M126 181h1M129 180h1M129 189h1M130 179h1M127 179h1M133 179h1M129 184h1M126 184h1M128 183h1M126 186h1M128 186h1M134 181h1M131 179h1M129 182h1M125 184h1M126 187h1M127 184h1M130 179h1M129 181h1M127 185h1M128 186h1M129 175h1M129 176h1M129 183h1M128 181h1M129 176h1M130 185h1M129 184h1M126 178h1M129 188h1M127 184h1M127 186h1M127 186h1M127 188h1M133 183h1M127 184h1M133 187h1M131 180h1M131 183h1M131 187h1M129 180h1M132 183h1M127 183h1M127 185h1M133 188h1M126 182h1M126 185h1M130 182h1M130 179h1M125 185h1M127 177h1M129 180h1M128 181h1M132 181h1M127 186h1M128 180h1M130 179h1M130 187h1M127 182h1M125 186h1M132 185h1M130 179h1M128 175h1M129 181h1M127 181h1M131 184h1M129 178h1M127 179h1M129 180h1M127 185h1M131 184h1M124 182h1M126 184h1M128 191h1M128 181h1M130 183h1M126 181h1M131 181h1M129 187h1M128 178h1M131 181h1M130 182h1M131 185h1M128 184h1M129 183h1M131 190h1M125 185h1M130 181h1M126 183h1M128 185h1M131 182h1M126 183h1M130 183h1M129 182h1M132 178h1M130 181h1M126 181h1M130 178h1M126 181h1M128 180h1M128 185h1M130 186h1M129 185h1M129 186h1M130 184h1M129 184h1M125 184h1M126 186h1M132 186h1M128 183h1M127 182h1M129 189h1M126 184h1M140 189h1M145 191h1M133 189h1M127 187h1M130 186h1M141 186h1M124 190h1M136 188h1M135 192h1M141 188h1M135 192h1M138 194h1M131 186h1M131 184h1M143 186h1M140 188h1M143 187h1M126 186h1M138 186h1M129 184h1M138 193h1M134 187h1M140 186h1M140 185h1M135 189h1M134 192h1M144 186h1M142 191h1M142 182h1M140 190h1M137 185h1M143 183h1M126 190h1M138 188h1M135 185h1M137 185h1M142 187h1M139 189h1M135 185h1M141 186h1M138 183h1M134 183h1M133 191h1M133 183h1M140 186h1M134 182h1M126 188h1M135 186h1M132 194h1M128 183h1M144 186h1M133 190h1M129 189h1M143 192h1M139 188h1M130 181h1M129 192h1M134 187h1M141 186h1M126 186h1M127 186h1M132 194h1M124 185h1M129 188h1M137 182h1M131 189h1M138 189h1M128 185h1M137 184h1M129 186h1M136 183h1M131 192h1M132 187h1M132 187h1M136 185h1M144 192h1M137 185h1M148 188h1M134 188h1M144 186h1M140 184h1M135 187h1M127 191h1M143 181h1M132 186h1M132 186h1M137 183h1M132 186h1M132 183h1M138 183h1M140 188h1M148 182h1M146 184h1M153 179h1M150 182h1M149 182h1M147 183h1M148 182h1M150 181h1M140 187h1M147 182h1M145 183h1M149 181h1M151 181h1M148 180h1M138 195h1M130 192h1M142 190h1M136 192h1M137 192h1M134 189h1M140 192h1M142 192h1M138 193h1M136 192h1M141 193h1M143 192h1M139 192h1M137 191h1M143 192h1M139 194h1M132 193h1M131 192h1M146 194h1M148 192h1M139 191h1M131 191h1M140 191h1M134 194h1M130 191h1M144 192h1M127 190h1M127 192h1M132 194h1M135 189h1M136 195h1M131 189h1M136 191h1M128 192h1M137 192h1M130 192h1M136 191h1M146 190h1M133 190h1M128 192h1" stroke="#333" stroke-opacity="0.17"/>
<path d="M126 182h1M128 182h1M125 183h1M130 184h1M124 183h1M129 182h1M125 187h1M129 190h1M127 189h1M132 180h1M127 187h1M129 187h1M128 185h1M129 180h1M133 186h1M126 181h1M132 176h1M130 184h1M130 184h1M125 187h1M131 184h1M126 185h1M128 185h1M127 181h1M128 185h1M125 182h1M127 182h1M129 183h1M128 175h1M131 186h1M128 186h1M125 184h1M130 183h1M132 185h1M126 182h1M128 185h1M128 189h1M129 183h1M129 175h1M130 189h1M129 184h1M131 184h1M125 188h1M129 188h1M130 186h1M128 175h1M130 180h1M127 185h1M129 182h1M129 182h1M128 185h1M127 187h1M129 175h1M127 183h1M131 182h1M131 188h1M128 177h1M129 181h1M124 187h1M129 175h1M130 180h1M127 178h1M132 184h1M131 190h1M128 185h1M129 178h1M127 184h1M129 183h1M124 184h1M125 185h1M130 180h1M126 184h1M129 182h1M125 184h1M129 181h1M129 185h1M130 181h1M131 182h1M128 179h1M126 184h1M131 186h1M130 187h1M130 175h1M133 187h1M126 184h1M126 183h1M129 187h1M125 181h1M124 186h1M130 182h1M129 179h1M129 181h1M131 181h1M127 181h1M128 180h1M127 186h1M129 181h1M126 185h1M134 182h1M126 180h1M127 181h1M129 178h1M133 185h1M129 187h1M133 188h1M129 182h1M128 187h1M133 181h1M130 183h1M129 181h1M133 180h1M130 182h1M126 188h1M128 187h1M130 179h1M132 176h1M139 188h1M130 186h1M136 191h1M146 188h1M143 188h1M142 181h1M136 190h1M129 193h1M143 191h1M139 195h1M138 184h1M133 187h1M138 184h1M134 182h1M137 185h1M135 189h1M137 184h1M129 185h1M134 183h1M137 189h1M129 182h1M139 193h1M133 185h1M128 184h1M142 185h1M130 186h1M141 187h1M132 181h1M132 187h1M138 188h1M144 188h1M143 190h1M135 187h1M127 191h1M140 191h1M131 192h1M142 183h1M132 187h1M135 187h1M132 187h1M134 186h1M135 192h1M133 187h1M146 187h1M127 190h1M129 188h1M138 189h1M139 191h1M131 185h1M143 185h1M133 190h1M137 183h1M139 182h1M135 186h1M127 187h1M139 185h1M146 183h1M134 189h1M134 190h1M140 186h1M132 188h1M131 185h1M135 189h1M147 184h1M136 187h1M138 183h1M131 189h1M138 184h1M135 185h1M133 187h1M135 193h1M137 181h1M134 189h1M134 190h1M142 189h1M125 187h1M125 190h1M132 182h1M138 183h1M132 189h1M130 194h1M133 190h1M126 188h1M134 186h1M132 188h1M135 186h1M142 182h1M146 189h1M140 181h1M138 186h1M138 186h1M142 184h1M150 182h1M148 182h1M147 183h1M147 183h1M146 182h1M149 182h1M148 181h1M150 182h1M151 179h1M148 183h1M148 183h1M149 180h1M146 184h1M147 181h1M130 193h1M130 194h1M134 192h1M134 190h1M150 192h1M129 189h1M141 192h1M142 191h1M141 191h1M134 192h1M133 190h1M144 192h1M144 191h1M131 190h1M132 192h1M135 192h1M143 190h1M136 192h1M138 191h1M134 194h1M141 193h1M140 193h1M130 190h1M139 192h1M137 191h1M140 188h1M135 194h1M138 190h1M135 191h1M138 195h1M146 191h1M133 189h1M136 191h1M143 193h1M136 190h1M132 194h1M132 191h1M140 195h1M126 191h1M142 191h1" stroke="#333" stroke-opacity="0.17"/>
<path d="M128 184h1M132 183h1M129 186h1M126 181h1M131 186h1M129 185h1M130 182h1M127 188h1M128 180h1M127 177h1M130 184h1M125 183h1M125 180h1M127 179h1M128 184h1M129 187h1M130 184h1M130 177h1M131 181h1M129 180h1M125 179h1M131 184h1M128 187h1M124 183h1M129 181h1M132 188h1M128 184h1M125 180h1M131 182h1M130 183h1M125 181h1M131 181h1M129 186h1M128 178h1M126 178h1M129 189h1M130 177h1M128 180h1M125 182h1M124 189h1M125 186h1M127 186h1M127 186h1M131 181h1M129 183h1M128 182h1M133 183h1M128 184h1M128 176h1M133 186h1M128 186h1M128 182h1M125 184h1M130 183h1M124 183h1M125 182h1M128 187h1M127 181h1M126 185h1M129 175h1M127 180h1M131 184h1M127 182h1M125 183h1M133 182h1M130 180h1M130 178h1M128 184h1M129 184h1M128 182h1M133 184h1M129 184h1M128 185h1M132 185h1M127 182h1M125 179h1M126 190h1M129 183h1M129 179h1M129 184h1M126 181h1M130 183h1M133 186h1M129 182h1M129 182h1M127 184h1M129 187h1M128 180h1M125 186h1M125 182h1M124 183h1M131 182h1M127 184h1M131 182h1M125 185h1M128 185h1M131 187h1M129 181h1M124 180h1M129 180h1M129 178h1M130 186h1M126 186h1M132 184h1M134 183h1M125 188h1M129 180h1M125 181h1M131 184h1M133 179h1M129 176h1M128 181h1M129 185h1M126 187h1M129 181h1M128 189h1M146 192h1M137 187h1M135 189h1M137 188h1M138 193h1M133 189h1M128 185h1M135 190h1M128 185h1M133 182h1M138 183h1M131 189h1M143 181h1M143 182h1M128 190h1M135 190h1M142 190h1M131 188h1M136 187h1M141 189h1M131 188h1M133 188h1M142 188h1M131 189h1M132 186h1M142 192h1M135 192h1M139 188h1M141 191h1M141 187h1M144 189h1M136 194h1M139 183h1M137 191h1M134 188h1M141 182h1M136 183h1M134 186h1M133 188h1M139 186h1M133 186h1M131 186h1M136 193h1M138 190h1M131 193h1M134 191h1M137 186h1M138 187h1M131 186h1M133 191h1M137 184h1M132 192h1M133 184h1M131 189h1M137 189h1M135 193h1M139 183h1M135 188h1M136 188h1M125 188h1M136 182h1M132 187h1M135 188h1M140 192h1M140 190h1M131 192h1M137 194h1M128 182h1M124 189h1M141 186h1M141 184h1M131 184h1M134 186h1M144 184h1M127 187h1M141 189h1M130 181h1M135 192h1M138 187h1M140 191h1M127 182h1M130 190h1M133 191h1M147 185h1M135 190h1M135 182h1M128 192h1M140 184h1M132 191h1M131 190h1M127 185h1M143 187h1M144 184h1M150 181h1M152 180h1M147 182h1M151 181h1M150 180h1M144 185h1M146 182h1M149 181h1M143 185h1M152 180h1M142 185h1M147 184h1M144 184h1M140 191h1M141 189h1M130 195h1M132 194h1M136 191h1M130 193h1M143 188h1M139 191h1M134 188h1M144 194h1M140 189h1M130 192h1M140 190h1M147 192h1M140 191h1M142 193h1M141 188h1M141 190h1M147 191h1M133 189h1M133 191h1M131 191h1M146 194h1M139 189h1M139 192h1M142 194h1M137 195h1M147 192h1M133 195h1M128 190h1M137 190h1M143 190h1M132 189h1M130 190h1M146 192h1M125 190h1M140 191h1M135 189h1M132 193h1M137 193h1" stroke="#333" stroke-opacity="0.17"/>
<path d="M130 183h1M129 187h1M127 185h1M130 185h1M126 183h1M125 183h1M130 181h1M130 186h1M128 181h1M126 184h1M126 179h1M129 176h1M126 189h1M131 185h1M130 177h1M128 184h1M127 180h1M132 183h1M132 182h1M130 184h1M131 183h1M127 190h1M128 183h1M129 182h1M127 188h1M126 187h1M131 177h1M130 184h1M130 186h1M129 185h1M127 183h1M127 178h1M128 188h1M133 181h1M127 189h1M129 182h1M126 181h1M131 179h1M129 177h1M131 178h1M128 188h1M133 184h1M128 187h1M128 181h1M128 185h1M127 181h1M127 180h1M128 188h1M130 182h1M127 182h1M127 181h1M126 186h1M130 187h1M130 182h1M128 182h1M131 180h1M126 183h1M129 184h1M131 181h1M129 178h1M128 179h1M126 181h1M129 187h1M132 183h1M129 182h1M130 180h1M128 183h1M127 183h1M128 185h1M126 177h1M134 182h1M133 179h1M129 181h1M126 183h1M126 181h1M129 181h1M128 185h1M130 187h1M130 182h1M129 179h1M128 184h1M130 181h1M130 186h1M127 183h1M126 186h1M127 177h1M125 182h1M125 186h1M128 177h1M126 183h1M129 182h1M129 184h1M128 179h1M127 178h1M134 182h1M131 184h1M128 184h1M130 178h1M126 184h1M125 182h1M129 176h1M130 182h1M128 189h1M129 180h1M132 187h1M129 179h1M130 184h1M130 185h1M129 185h1M130 184h1M128 180h1M130 188h1M127 188h1M131 182h1M125 186h1M128 189h1M124 188h1M142 188h1M127 191h1M132 190h1M133 188h1M138 188h1M138 189h1M142 189h1M138 185h1M142 185h1M136 187h1M137 190h1M141 191h1M134 183h1M135 191h1M134 187h1M138 184h1M136 184h1M124 191h1M130 192h1M139 189h1M137 189h1M132 186h1M139 187h1M128 186h1M136 187h1M140 193h1M133 191h1M133 191h1M143 189h1M133 187h1M129 190h1M136 188h1M135 193h1M144 186h1M129 184h1M135 182h1M137 186h1M139 188h1M135 192h1M130 191h1M127 184h1M128 185h1M140 190h1M136 191h1M142 181h1M132 184h1M133 187h1M135 190h1M129 187h1M139 185h1M135 185h1M131 194h1M134 188h1M137 184h1M131 192h1M134 194h1M135 191h1M129 187h1M130 194h1M144 192h1M135 189h1M133 192h1M140 188h1M145 185h1M142 186h1M128 192h1M138 186h1M128 185h1M130 189h1M140 186h1M135 182h1M140 192h1M138 192h1M134 189h1M132 191h1M138 189h1M131 184h1M133 183h1M135 184h1M130 185h1M126 190h1M144 189h1M139 190h1M143 190h1M138 181h1M134 186h1M142 189h1M127 188h1M127 185h1M131 182h1M146 182h1M147 181h1M144 183h1M146 182h1M148 181h1M146 184h1M150 181h1M150 180h1M145 184h1M146 185h1M142 184h1M146 184h1M145 184h1M149 181h1M135 193h1M135 192h1M132 189h1M137 193h1M136 192h1M137 190h1M131 193h1M140 195h1M146 188h1M136 192h1M135 188h1M148 191h1M147 192h1M142 194h1M135 195h1M140 192h1M147 189h1M130 191h1M147 191h1M143 190h1M132 189h1M136 192h1M144 194h1M141 191h1M141 191h1M141 190h1M143 192h1M137 191h1M137 191h1M133 190h1M136 195h1M139 195h1M141 191h1M136 191h1M129 191h1M136 192h1M143 192h1M144 194h1M140 190h1M138 192h1" stroke="#333" stroke-opacity="0.17"/>
</g>
<rect x="123.30" y="150.30" width="66.60" height="48.90" fill="none" stroke="#333" stroke-width="0.8"/>
<line x1="123.30" y1="150.30" x2="123.30" y2="199.20" stroke="#111" stroke-width="1.15"/>
<line x1="123.30" y1="199.20" x2="189.90" y2="199.20" stroke="#111" stroke-width="1.15"/>
<rect x="123.20" y="174.00" width="10.30" height="16.20" fill="none" stroke="#222" stroke-width="0.95" rx="1"/>
<text x="141.0" y="168.7" font-size="6.30" text-anchor="middle" font-weight="bold" font-family="'Liberation Sans',sans-serif" fill="#000">73.7</text>
<text x="124.1" y="204.00000000000003" font-size="3.60" text-anchor="middle" font-weight="bold" font-family="'Liberation Serif',serif" fill="#222">1</text>
<text x="140.29999999999998" y="204.00000000000003" font-size="3.60" text-anchor="middle" font-weight="bold" font-family="'Liberation Serif',serif" fill="#222">10</text>
<text x="156.5" y="204.00000000000003" font-size="3.60" text-anchor="middle" font-weight="bold" font-family="'Liberation Serif',serif" fill="#222">100</text>
<text x="172.7" y="204.00000000000003" font-size="3.60" text-anchor="middle" font-weight="bold" font-family="'Liberation Serif',serif" fill="#222">1000</text>
<g filter="url(#sb)" transform="translate(0 .5)">
<path d="M198 180h1M195 178h1M197 180h1M195 185h1M201 186h1M198 182h1M198 180h1M197 184h1M194 182h1M196 185h1M199 184h1M196 181h1M197 183h1M196 183h1M201 183h1M195 183h1M195 181h1M198 186h1M200 183h1M196 179h1M196 177h1M203 184h1M198 176h1M198 185h1M195 183h1M199 188h1M197 180h1M195 183h1M196 190h1M200 182h1M195 181h1M201 180h1M199 186h1M194 184h1M198 179h1M199 187h1M198 184h1M197 189h1M196 179h1M197 183h1M200 182h1M194 184h1M197 184h1M195 187h1M193 183h1M193 186h1M197 186h1M196 188h1M193 182h1M194 182h1M198 182h1M196 181h1M202 185h1M195 182h1M198 188h1M193 184h1M202 186h1M199 177h1M197 190h1M201 182h1M195 187h1M196 187h1M201 187h1M195 189h1M195 185h1M198 183h1M196 188h1M199 185h1M197 183h1M198 183h1M195 180h1M196 188h1M201 183h1M197 187h1M195 176h1M195 185h1M197 183h1M196 178h1M198 184h1M196 181h1M197 184h1M200 187h1M197 186h1M198 181h1M194 186h1M198 181h1M198 181h1M196 186h1M199 180h1M197 179h1M195 178h1M197 184h1M201 178h1M199 188h1M210 191h1M199 186h1M211 192h1M205 191h1M220 187h1M207 192h1M210 191h1M199 188h1M201 188h1M201 190h1M201 189h1M209 193h1M214 187h1M205 192h1M202 190h1M210 189h1M205 185h1M202 187h1M206 188h1M198 190h1M213 193h1M202 189h1M207 187h1M210 188h1M222 192h1M213 190h1M207 186h1M203 189h1M196 192h1M210 188h1M211 188h1M211 189h1M206 192h1M205 189h1M212 189h1M210 188h1M197 186h1M206 192h1M209 187h1M219 193h1M199 190h1M215 191h1M203 184h1M214 188h1M201 186h1M215 185h1M201 186h1M193 187h1M206 190h1M205 188h1M219 187h1M203 191h1M198 190h1M201 189h1M210 186h1M207 190h1M195 191h1M217 191h1M207 187h1M210 185h1M205 190h1M204 191h1M210 189h1M203 186h1M199 185h1M199 184h1M194 186h1M210 190h1M216 186h1M210 188h1M206 193h1M196 185h1M209 190h1M211 190h1M214 187h1M216 189h1M200 189h1M211 194h1M196 187h1M205 189h1M208 188h1M217 189h1M201 193h1M204 192h1M207 191h1M205 183h1M199 189h1M211 190h1M213 189h1M199 185h1M203 192h1M209 193h1M214 187h1M203 186h1M201 184h1M207 185h1M208 189h1M213 188h1M210 192h1M205 187h1M209 187h1M194 188h1M204 187h1M206 189h1M203 180h1M202 184h1M204 186h1M205 183h1M210 179h1M211 182h1M203 185h1M208 184h1M202 183h1M202 184h1M205 181h1M198 184h1M200 185h1M201 181h1M202 188h1M204 184h1M198 188h1M200 189h1M209 187h1M206 185h1M198 186h1M196 187h1M207 184h1M212 181h1M208 186h1M204 179h1M202 189h1M212 185h1M206 183h1" stroke="#333" stroke-opacity="0.17"/>
<path d="M198 179h1M199 187h1M196 186h1M194 182h1M198 186h1M196 183h1M195 184h1M200 181h1M197 184h1M194 179h1M197 182h1M196 182h1M201 180h1M194 185h1M195 179h1M194 185h1M196 184h1M194 184h1M197 180h1M195 178h1M199 186h1M195 188h1M197 186h1M201 180h1M197 188h1M199 186h1M197 179h1M194 182h1M193 185h1M197 186h1M199 181h1M199 187h1M193 181h1M197 184h1M199 185h1M194 184h1M201 177h1M196 188h1M197 181h1M197 183h1M195 186h1M193 180h1M197 184h1M196 183h1M195 183h1M197 183h1M200 180h1M194 182h1M197 181h1M200 180h1M197 178h1M194 179h1M200 183h1M198 183h1M199 182h1M196 176h1M194 176h1M196 182h1M200 177h1M195 182h1M198 178h1M201 182h1M200 181h1M196 177h1M195 184h1M200 180h1M201 182h1M196 182h1M197 187h1M194 182h1M197 187h1M197 183h1M195 184h1M197 183h1M197 177h1M195 184h1M197 182h1M196 180h1M195 185h1M198 180h1M195 180h1M198 179h1M194 189h1M197 183h1M194 185h1M197 181h1M196 184h1M195 184h1M198 182h1M195 183h1M193 183h1M195 177h1M197 183h1M198 184h1M203 190h1M216 190h1M212 188h1M203 184h1M198 187h1M213 189h1M209 191h1M215 186h1M207 190h1M213 191h1M197 186h1M202 187h1M211 193h1M214 189h1M219 187h1M207 191h1M213 189h1M204 186h1M217 190h1M218 191h1M200 190h1M200 189h1M200 190h1M203 189h1M200 189h1M208 190h1M204 189h1M205 188h1M213 192h1M213 186h1M205 188h1M218 190h1M202 191h1M208 187h1M203 191h1M216 190h1M199 189h1M212 192h1M212 187h1M204 185h1M206 192h1M209 187h1M204 190h1M207 189h1M207 190h1M206 187h1M197 189h1M209 188h1M207 187h1M211 188h1M200 191h1M209 194h1M213 189h1M207 188h1M207 184h1M205 187h1M206 192h1M201 185h1M212 188h1M221 191h1M217 191h1M204 190h1M213 192h1M212 191h1M206 188h1M212 191h1M210 194h1M206 188h1M202 187h1M214 188h1M210 192h1M212 192h1M199 190h1M193 189h1M203 187h1M207 186h1M195 188h1M214 190h1M208 184h1M211 187h1M206 186h1M202 187h1M217 186h1M200 188h1M210 195h1M202 184h1M208 190h1M208 186h1M208 191h1M199 189h1M212 189h1M208 193h1M210 189h1M207 189h1M210 190h1M212 186h1M208 188h1M209 192h1M203 185h1M208 187h1M199 190h1M209 183h1M206 186h1M206 179h1M204 186h1M205 182h1M197 184h1M208 186h1M201 183h1M204 185h1M202 184h1M206 183h1M204 183h1M209 183h1M203 186h1M207 182h1M203 184h1M201 188h1M205 183h1M203 181h1M210 181h1M198 188h1M203 183h1M203 181h1M206 181h1M200 180h1M205 187h1M210 186h1M205 185h1M199 185h1M199 184h1M212 183h1M203 181h1" stroke="#333" stroke-opacity="0.17"/>
<path d="M198 188h1M200 179h1M199 186h1M198 181h1M195 186h1M197 181h1M196 188h1M197 183h1M197 191h1M195 184h1M196 185h1M196 177h1M195 179h1M195 183h1M199 183h1M193 185h1M197 188h1M199 180h1M198 186h1M196 179h1M195 184h1M198 186h1M193 178h1M194 186h1M199 183h1M198 187h1M196 181h1M195 182h1M196 183h1M197 188h1M200 186h1M194 183h1M198 187h1M200 181h1M200 179h1M198 178h1M196 181h1M195 184h1M198 182h1M196 183h1M194 185h1M199 185h1M198 184h1M194 185h1M196 183h1M197 188h1M196 178h1M194 184h1M196 184h1M200 182h1M202 184h1M199 190h1M196 183h1M202 183h1M197 188h1M198 184h1M198 181h1M198 180h1M197 187h1M196 183h1M199 183h1M197 187h1M196 181h1M195 184h1M194 180h1M195 177h1M199 182h1M199 183h1M193 182h1M197 183h1M192 180h1M198 181h1M195 179h1M197 180h1M197 183h1M197 180h1M200 185h1M195 182h1M198 183h1M197 184h1M199 179h1M194 184h1M200 187h1M200 189h1M195 188h1M195 182h1M199 184h1M197 176h1M198 183h1M197 188h1M199 185h1M195 184h1M197 184h1M200 182h1M200 188h1M211 191h1M203 189h1M204 189h1M212 190h1M208 187h1M209 188h1M199 189h1M208 190h1M215 192h1M203 190h1M198 191h1M202 192h1M222 187h1M216 188h1M215 187h1M215 188h1M202 187h1M222 192h1M215 188h1M196 191h1M199 191h1M205 189h1M200 187h1M202 185h1M211 192h1M200 187h1M205 184h1M199 193h1M203 188h1M214 191h1M218 192h1M214 193h1M200 187h1M200 190h1M194 187h1M199 186h1M204 188h1M210 188h1M208 192h1M202 189h1M218 186h1M200 188h1M203 194h1M203 187h1M210 193h1M208 185h1M210 186h1M203 187h1M212 189h1M211 190h1M205 188h1M207 192h1M211 191h1M201 186h1M215 187h1M210 186h1M199 187h1M196 189h1M205 187h1M212 189h1M213 190h1M207 186h1M205 185h1M203 192h1M221 187h1M207 194h1M200 186h1M205 188h1M221 187h1M207 192h1M198 191h1M206 187h1M206 193h1M208 189h1M212 186h1M199 188h1M203 187h1M199 184h1M218 190h1M204 189h1M215 192h1M206 187h1M200 191h1M213 191h1M196 188h1M203 190h1M197 189h1M208 186h1M207 189h1M212 191h1M200 188h1M197 186h1M195 187h1M212 188h1M197 189h1M200 186h1M209 190h1M209 190h1M222 193h1M211 189h1M204 187h1M196 187h1M196 184h1M205 184h1M204 184h1M202 182h1M196 188h1M211 182h1M201 184h1M209 188h1M204 187h1M211 185h1M213 182h1M203 187h1M200 185h1M204 186h1M204 183h1M198 185h1M199 184h1M203 179h1M198 184h1M201 188h1M203 182h1M206 187h1M202 183h1M208 183h1M206 189h1M207 184h1M209 184h1M204 180h1M204 186h1M210 181h1" stroke="#333" stroke-opacity="0.17"/>
<path d="M199 185h1M195 180h1M197 175h1M202 182h1M201 179h1M196 180h1M198 179h1M197 187h1M196 184h1M195 178h1M196 180h1M193 179h1M197 184h1M202 182h1M200 178h1M196 184h1M194 180h1M197 179h1M197 181h1M196 187h1M195 188h1M196 183h1M198 188h1M195 186h1M198 178h1M196 183h1M196 189h1M195 185h1M197 182h1M196 179h1M194 185h1M196 183h1M197 185h1M198 178h1M202 184h1M200 181h1M201 183h1M194 187h1M196 188h1M195 182h1M198 182h1M193 183h1M195 183h1M195 188h1M202 183h1M193 186h1M197 179h1M198 181h1M199 177h1M197 190h1M195 182h1M197 179h1M197 182h1M194 181h1M198 188h1M199 186h1M199 180h1M200 185h1M195 179h1M197 180h1M195 183h1M196 188h1M199 176h1M198 187h1M196 181h1M199 183h1M196 188h1M197 182h1M197 179h1M200 190h1M194 184h1M196 184h1M199 185h1M198 184h1M199 186h1M200 188h1M199 186h1M199 184h1M196 182h1M195 187h1M197 179h1M192 184h1M198 185h1M200 182h1M197 179h1M194 183h1M199 187h1M198 187h1M200 181h1M198 182h1M198 176h1M200 184h1M197 184h1M209 186h1M221 188h1M215 190h1M197 189h1M215 188h1M215 191h1M208 191h1M209 190h1M214 189h1M207 190h1M208 191h1M193 192h1M212 183h1M208 187h1M196 187h1M207 190h1M199 191h1M204 186h1M201 191h1M207 187h1M209 187h1M205 187h1M205 192h1M196 185h1M214 190h1M220 186h1M215 189h1M205 188h1M202 192h1M207 189h1M202 189h1M210 185h1M221 190h1M209 186h1M197 190h1M216 193h1M224 190h1M215 186h1M211 191h1M206 187h1M211 191h1M205 193h1M224 188h1M209 188h1M195 188h1M205 185h1M215 192h1M199 186h1M214 185h1M211 187h1M193 186h1M203 188h1M201 189h1M203 190h1M196 187h1M194 186h1M194 189h1M204 187h1M210 190h1M204 193h1M196 188h1M199 193h1M206 185h1M204 186h1M208 189h1M217 186h1M203 185h1M200 187h1M216 188h1M200 185h1M203 188h1M203 191h1M208 191h1M194 191h1M208 191h1M217 190h1M205 190h1M217 188h1M204 185h1M206 187h1M205 189h1M217 191h1M213 188h1M199 191h1M215 191h1M219 191h1M193 189h1M207 187h1M215 193h1M206 194h1M196 185h1M210 186h1M202 187h1M202 192h1M196 188h1M210 187h1M206 190h1M209 194h1M209 184h1M197 191h1M206 190h1M197 186h1M207 189h1M197 185h1M200 187h1M200 180h1M207 187h1M204 190h1M206 185h1M198 185h1M212 181h1M198 188h1M202 183h1M197 186h1M201 185h1M206 185h1M206 184h1M204 181h1M207 185h1M200 188h1M204 186h1M202 183h1M200 185h1M207 187h1M194 186h1M199 187h1M195 184h1M201 181h1M194 188h1M202 189h1M207 183h1M197 185h1M205 185h1M200 182h1" stroke="#333" stroke-opacity="0.17"/>
<path d="M197 183h1M201 179h1M199 186h1M197 176h1M199 187h1M197 181h1M198 182h1M195 185h1M201 181h1M200 182h1M195 183h1M199 179h1M201 184h1M200 182h1M195 180h1M200 182h1M193 183h1M198 183h1M197 185h1M193 181h1M203 184h1M195 181h1M198 183h1M200 184h1M196 187h1M201 183h1M195 187h1M193 183h1M196 184h1M199 177h1M194 177h1M195 177h1M195 178h1M198 182h1M195 183h1M194 183h1M196 183h1M194 184h1M201 184h1M197 187h1M199 184h1M193 182h1M201 188h1M195 180h1M194 183h1M201 186h1M199 182h1M197 184h1M197 183h1M195 184h1M197 176h1M195 181h1M193 184h1M193 183h1M198 175h1M200 185h1M199 182h1M194 185h1M195 181h1M196 183h1M198 183h1M201 181h1M197 183h1M199 179h1M196 175h1M197 185h1M194 181h1M193 187h1M201 181h1M196 181h1M202 181h1M196 179h1M197 183h1M196 182h1M198 181h1M198 179h1M194 184h1M197 186h1M198 185h1M192 181h1M194 189h1M195 185h1M198 184h1M195 184h1M194 183h1M194 185h1M198 183h1M193 182h1M195 183h1M193 183h1M202 185h1M200 185h1M197 183h1M214 193h1M216 188h1M208 188h1M212 188h1M205 190h1M202 186h1M192 190h1M214 187h1M224 190h1M206 190h1M202 189h1M203 191h1M204 190h1M211 189h1M205 189h1M210 192h1M206 193h1M204 189h1M212 188h1M196 193h1M213 190h1M206 194h1M195 188h1M205 190h1M200 183h1M216 192h1M204 187h1M214 187h1M205 190h1M205 184h1M210 185h1M203 185h1M202 194h1M201 190h1M205 188h1M201 188h1M213 188h1M196 192h1M196 187h1M208 188h1M205 186h1M205 190h1M213 191h1M212 193h1M209 187h1M207 187h1M198 189h1M217 186h1M196 191h1M215 192h1M206 188h1M203 186h1M199 188h1M217 188h1M205 188h1M214 190h1M194 191h1M217 189h1M223 187h1M212 189h1M207 186h1M199 190h1M202 194h1M204 190h1M211 190h1M197 187h1M202 187h1M213 188h1M203 187h1M217 188h1M203 189h1M196 186h1M216 190h1M203 186h1M202 191h1M204 189h1M219 188h1M196 190h1M206 186h1M216 191h1M214 189h1M198 191h1M206 190h1M201 193h1M203 190h1M211 194h1M196 191h1M200 186h1M217 192h1M214 191h1M201 189h1M200 189h1M205 186h1M204 189h1M219 188h1M214 191h1M212 189h1M206 192h1M215 191h1M209 190h1M220 190h1M205 186h1M209 182h1M197 186h1M205 185h1M208 181h1M211 186h1M198 186h1M200 189h1M201 179h1M206 183h1M215 182h1M194 187h1M203 182h1M202 179h1M210 186h1M205 181h1M213 182h1M199 184h1M204 183h1M204 181h1M203 185h1M200 187h1M201 184h1M207 183h1M205 184h1M204 184h1M201 185h1M207 182h1M202 182h1M201 188h1M203 183h1M211 188h1M209 184h1" stroke="#333" stroke-opacity="0.17"/>
</g>
<rect x="191.70" y="150.30" width="66.60" height="48.90" fill="none" stroke="#333" stroke-width="0.8"/>
<line x1="191.70" y1="150.30" x2="191.70" y2="199.20" stroke="#111" stroke-width="1.15"/>
<line x1="191.70" y1="199.20" x2="258.30" y2="199.20" stroke="#111" stroke-width="1.15"/>
<rect x="192.70" y="174.00" width="9.70" height="16.20" fill="none" stroke="#222" stroke-width="0.95" rx="1"/>
<text x="206.0" y="168.7" font-size="6.30" text-anchor="middle" font-weight="bold" font-family="'Liberation Sans',sans-serif" fill="#000">47.7</text>
<text x="192.5" y="204.00000000000003" font-size="3.60" text-anchor="middle" font-weight="bold" font-family="'Liberation Serif',serif" fill="#222">1</text>
<text x="208.7" y="204.00000000000003" font-size="3.60" text-anchor="middle" font-weight="bold" font-family="'Liberation Serif',serif" fill="#222">10</text>
<text x="224.9" y="204.00000000000003" font-size="3.60" text-anchor="middle" font-weight="bold" font-family="'Liberation Serif',serif" fill="#222">100</text>
<text x="241.1" y="204.00000000000003" font-size="3.60" text-anchor="middle" font-weight="bold" font-family="'Liberation Serif',serif" fill="#222">1000</text>
<g filter="url(#sb)" transform="translate(0 .5)">
<path d="M266 186h1M264 182h1M267 183h1M270 180h1M268 177h1M267 182h1M264 183h1M266 182h1M269 184h1M263 190h1M268 181h1M266 182h1M263 181h1M269 186h1M267 182h1M266 185h1M264 184h1M264 180h1M266 185h1M270 180h1M266 178h1M269 187h1M266 184h1M265 189h1M265 183h1M266 184h1M264 182h1M267 179h1M267 180h1M267 184h1M266 189h1M263 185h1M265 180h1M267 186h1M263 180h1M266 184h1M267 181h1M267 176h1M269 190h1M269 189h1M265 181h1M269 183h1M262 179h1M269 186h1M261 182h1M268 180h1M262 182h1M267 182h1M262 183h1M265 179h1M271 180h1M263 187h1M268 186h1M266 181h1M265 182h1M268 180h1M263 187h1M267 182h1M265 179h1M264 184h1M264 184h1M265 184h1M262 183h1M264 184h1M265 185h1M265 187h1M271 186h1M262 183h1M266 176h1M263 182h1M266 184h1M264 183h1M266 184h1M266 183h1M266 182h1M263 180h1M271 183h1M270 184h1M269 188h1M263 187h1M266 183h1M266 180h1M265 187h1M266 183h1M265 181h1M264 177h1M266 184h1M269 178h1M271 183h1M263 186h1M263 186h1M262 189h1M266 175h1M264 188h1M270 177h1M263 183h1M264 180h1M267 188h1M285 192h1M279 195h1M283 193h1M281 193h1M270 189h1M272 193h1M269 192h1M278 191h1M273 192h1M280 193h1M290 190h1M285 190h1M282 192h1M274 186h1M284 191h1M265 190h1M277 190h1M275 189h1M277 189h1M277 194h1M277 192h1M280 192h1M274 191h1M280 191h1M282 192h1M264 193h1M280 193h1M267 191h1M272 189h1M287 192h1M269 193h1M282 194h1M280 190h1M268 190h1M270 188h1M280 193h1M267 194h1M273 189h1M279 192h1M267 191h1M288 190h1M290 192h1M275 189h1M273 192h1M265 192h1M281 193h1M278 193h1M288 193h1M279 193h1M276 188h1M281 190h1M282 191h1M283 189h1M277 187h1M265 192h1M283 189h1M271 190h1M293 190h1M290 193h1M263 187h1M270 189h1M276 190h1M273 188h1M291 191h1M275 193h1M265 188h1M273 192h1M281 189h1M263 189h1M284 191h1M267 191h1M282 188h1M276 190h1M280 192h1M279 191h1M269 192h1M287 190h1M279 190h1M274 193h1M265 188h1M285 191h1M284 188h1M274 191h1M293 191h1M280 194h1M277 189h1M273 192h1M264 189h1M275 192h1M271 192h1M272 189h1M295 190h1M281 190h1M278 192h1M272 189h1M269 192h1M273 192h1M288 192h1M280 190h1M280 191h1M268 190h1M286 193h1M270 194h1M274 189h1M271 192h1M269 189h1M286 193h1M264 192h1M272 193h1M278 190h1M271 188h1M270 191h1M284 192h1M262 189h1M277 190h1M274 190h1M288 195h1M283 189h1M277 186h1M265 185h1M268 190h1M272 184h1M265 188h1M276 185h1M267 184h1M274 182h1M275 187h1M277 187h1M272 184h1M275 190h1M276 188h1M270 188h1M266 188h1M273 187h1M263 184h1M275 188h1M269 186h1M266 190h1M272 186h1M274 188h1M267 190h1M276 185h1M267 189h1M281 185h1M274 185h1M269 188h1M266 184h1M268 189h1M277 186h1M265 184h1M275 189h1M273 191h1M270 186h1M274 191h1M278 190h1M274 184h1M272 184h1M277 187h1M261 187h1M264 183h1M264 185h1M279 188h1" stroke="#333" stroke-opacity="0.17"/>
<path d="M263 177h1M264 183h1M263 176h1M264 186h1M269 178h1M266 184h1M263 184h1M265 184h1M263 182h1M265 184h1M267 179h1M263 184h1M270 178h1M265 191h1M266 180h1M266 188h1M262 183h1M263 180h1M265 184h1M263 187h1M266 177h1M266 187h1M268 181h1M266 181h1M263 179h1M266 180h1M265 182h1M265 185h1M267 183h1M267 182h1M266 185h1M262 182h1M267 189h1M264 186h1M267 182h1M264 175h1M267 181h1M269 186h1M263 185h1M268 181h1M264 185h1M271 181h1M264 186h1M266 177h1M267 181h1M264 181h1M263 181h1M267 187h1M262 184h1M262 187h1M267 183h1M271 183h1M267 183h1M265 181h1M268 185h1M265 183h1M266 182h1M264 186h1M269 187h1M264 183h1M269 182h1M270 183h1M266 180h1M265 189h1M270 186h1M266 183h1M267 185h1M263 178h1M265 186h1M265 182h1M266 185h1M267 179h1M263 177h1M267 184h1M263 181h1M267 179h1M262 190h1M267 178h1M270 184h1M263 177h1M270 183h1M263 175h1M270 184h1M266 184h1M264 184h1M263 182h1M264 179h1M266 188h1M268 184h1M262 183h1M268 184h1M265 181h1M263 184h1M266 184h1M263 186h1M264 178h1M268 184h1M265 184h1M284 191h1M265 189h1M287 191h1M280 194h1M274 190h1M270 189h1M281 192h1M272 191h1M283 188h1M291 193h1M280 191h1M289 191h1M281 193h1M269 190h1M275 194h1M269 191h1M271 191h1M267 191h1M261 189h1M276 188h1M285 193h1M273 186h1M277 190h1M285 190h1M268 193h1M269 194h1M277 192h1M280 195h1M289 191h1M270 189h1M279 191h1M269 194h1M281 191h1M282 191h1M266 190h1M282 193h1M291 190h1M281 193h1M285 194h1M277 187h1M278 193h1M268 189h1M274 189h1M280 190h1M292 191h1M277 188h1M263 192h1M278 191h1M275 189h1M271 192h1M280 193h1M282 194h1M275 188h1M279 188h1M274 191h1M267 190h1M286 190h1M277 190h1M280 192h1M282 189h1M279 187h1M281 195h1M271 192h1M278 194h1M268 190h1M270 188h1M278 192h1M266 190h1M276 188h1M284 192h1M284 190h1M284 192h1M281 194h1M271 190h1M275 190h1M283 192h1M263 191h1M279 192h1M287 191h1M264 191h1M283 190h1M262 192h1M289 190h1M264 192h1M274 188h1M271 191h1M280 191h1M282 189h1M284 190h1M267 188h1M281 191h1M275 191h1M280 190h1M285 194h1M273 191h1M281 192h1M284 193h1M279 195h1M278 190h1M266 188h1M276 191h1M282 190h1M277 192h1M273 192h1M269 192h1M290 191h1M276 194h1M274 191h1M269 194h1M261 189h1M278 192h1M287 189h1M268 191h1M281 192h1M264 191h1M273 193h1M269 191h1M294 193h1M272 188h1M266 184h1M272 185h1M277 183h1M271 187h1M266 182h1M272 188h1M274 187h1M268 183h1M271 189h1M267 187h1M275 187h1M275 186h1M279 185h1M272 185h1M276 189h1M267 186h1M274 186h1M269 188h1M277 187h1M271 188h1M273 183h1M271 189h1M272 188h1M269 184h1M269 184h1M269 188h1M275 187h1M270 188h1M261 185h1M274 188h1M268 187h1M267 185h1M270 186h1M267 184h1M266 187h1M265 183h1M275 187h1M264 184h1M265 184h1M266 184h1M270 189h1M268 187h1M263 185h1" stroke="#333" stroke-opacity="0.17"/>
<path d="M265 181h1M266 191h1M269 185h1M270 186h1M265 183h1M265 183h1M266 184h1M264 184h1M266 179h1M263 187h1M265 189h1M266 186h1M265 186h1M266 180h1M263 186h1M264 181h1M262 178h1M269 190h1M265 182h1M264 182h1M268 177h1M266 183h1M267 185h1M269 187h1M271 183h1M267 183h1M267 184h1M268 182h1M268 182h1M266 189h1M263 178h1M267 180h1M269 176h1M267 183h1M265 178h1M266 178h1M264 184h1M261 186h1M266 187h1M262 182h1M265 179h1M267 181h1M271 178h1M266 176h1M264 186h1M268 188h1M263 180h1M263 185h1M270 179h1M263 188h1M269 186h1M267 179h1M267 184h1M265 179h1M269 187h1M267 182h1M261 183h1M266 183h1M266 179h1M270 183h1M265 180h1M265 177h1M266 186h1M271 184h1M268 180h1M266 182h1M267 189h1M269 184h1M264 187h1M264 188h1M265 176h1M262 184h1M264 185h1M267 179h1M264 185h1M263 189h1M267 180h1M262 179h1M263 188h1M267 182h1M264 180h1M266 182h1M271 184h1M266 186h1M267 183h1M269 186h1M268 185h1M267 188h1M271 185h1M271 181h1M266 183h1M262 183h1M265 181h1M261 182h1M264 185h1M266 176h1M270 179h1M268 185h1M285 192h1M273 194h1M292 190h1M266 190h1M276 193h1M273 189h1M280 189h1M279 187h1M278 193h1M275 192h1M276 188h1M277 189h1M278 191h1M282 190h1M270 193h1M273 192h1M274 190h1M286 193h1M279 188h1M272 190h1M261 193h1M288 192h1M290 189h1M269 189h1M276 188h1M272 189h1M273 189h1M282 195h1M278 189h1M274 190h1M291 190h1M293 192h1M279 191h1M289 189h1M287 190h1M281 191h1M270 186h1M291 191h1M284 187h1M278 189h1M262 189h1M280 192h1M265 189h1M271 194h1M265 191h1M282 194h1M278 191h1M282 193h1M269 188h1M279 191h1M269 189h1M268 192h1M266 189h1M284 191h1M275 193h1M276 191h1M283 191h1M270 190h1M287 190h1M287 191h1M278 188h1M280 191h1M283 188h1M272 194h1M278 195h1M279 192h1M277 193h1M284 191h1M279 189h1M273 192h1M274 193h1M279 191h1M264 189h1M286 190h1M265 192h1M279 190h1M273 192h1M283 190h1M262 191h1M274 189h1M268 189h1M270 192h1M291 192h1M278 191h1M277 193h1M284 190h1M276 191h1M266 192h1M270 186h1M277 193h1M267 191h1M291 193h1M274 192h1M269 188h1M279 190h1M268 190h1M276 191h1M277 193h1M277 189h1M290 190h1M292 189h1M275 189h1M280 194h1M277 189h1M282 190h1M286 191h1M288 195h1M290 190h1M286 194h1M275 190h1M262 192h1M289 189h1M273 190h1M266 191h1M264 188h1M267 189h1M271 192h1M271 184h1M279 185h1M268 187h1M270 189h1M276 188h1M263 190h1M265 187h1M264 189h1M271 188h1M274 187h1M268 186h1M278 186h1M274 191h1M276 184h1M266 184h1M273 187h1M281 188h1M269 186h1M268 185h1M268 184h1M266 182h1M273 187h1M264 184h1M276 186h1M270 187h1M269 184h1M275 184h1M271 185h1M265 184h1M262 186h1M267 183h1M276 187h1M266 190h1M275 187h1M272 187h1M274 182h1M271 186h1M267 185h1M272 182h1M275 187h1M276 190h1M262 186h1M267 185h1M276 188h1" stroke="#333" stroke-opacity="0.17"/>
<path d="M264 182h1M265 184h1M263 186h1M264 185h1M266 190h1M265 178h1M266 180h1M266 182h1M263 181h1M266 180h1M263 183h1M269 186h1M265 180h1M262 189h1M267 183h1M268 184h1M263 185h1M267 180h1M266 191h1M263 181h1M261 184h1M263 180h1M262 186h1M267 181h1M264 181h1M269 182h1M267 189h1M268 178h1M267 191h1M265 182h1M262 182h1M268 187h1M265 183h1M266 185h1M265 187h1M265 182h1M267 184h1M268 183h1M267 181h1M266 185h1M262 184h1M270 179h1M267 189h1M269 182h1M264 185h1M269 186h1M270 187h1M268 189h1M263 186h1M271 178h1M269 182h1M266 182h1M265 183h1M262 184h1M266 183h1M263 180h1M267 184h1M262 179h1M268 186h1M266 186h1M268 186h1M266 187h1M266 184h1M264 183h1M271 187h1M262 183h1M268 181h1M268 185h1M264 186h1M264 182h1M266 186h1M263 183h1M269 188h1M262 177h1M265 184h1M267 185h1M269 183h1M266 181h1M271 180h1M270 184h1M266 187h1M268 180h1M270 184h1M264 184h1M269 183h1M271 182h1M267 184h1M265 183h1M266 185h1M263 184h1M266 182h1M263 183h1M266 183h1M267 178h1M266 188h1M266 187h1M264 184h1M287 192h1M277 194h1M284 194h1M272 188h1M289 193h1M267 192h1M285 192h1M284 191h1M280 187h1M279 189h1M294 192h1M292 192h1M272 191h1M285 193h1M272 188h1M271 189h1M281 194h1M268 187h1M272 191h1M273 190h1M274 190h1M281 192h1M288 190h1M275 192h1M290 192h1M286 191h1M270 190h1M263 188h1M268 187h1M293 191h1M274 191h1M283 191h1M272 190h1M276 188h1M270 190h1M291 192h1M268 191h1M265 191h1M277 193h1M283 191h1M280 188h1M273 194h1M290 191h1M271 190h1M277 191h1M278 192h1M275 192h1M269 192h1M265 189h1M284 192h1M285 193h1M277 192h1M290 190h1M283 187h1M277 191h1M278 193h1M295 190h1M269 189h1M288 190h1M283 190h1M289 189h1M283 191h1M286 191h1M271 191h1M265 189h1M266 189h1M271 191h1M266 191h1M289 188h1M274 191h1M278 188h1M273 194h1M295 192h1M274 191h1M285 190h1M278 190h1M280 192h1M282 189h1M270 189h1M274 192h1M283 194h1M277 192h1M264 192h1M269 190h1M276 188h1M281 190h1M270 186h1M280 189h1M278 195h1M268 191h1M290 191h1M275 187h1M285 192h1M287 192h1M283 190h1M264 190h1M270 191h1M279 187h1M269 193h1M283 189h1M269 188h1M267 190h1M275 192h1M281 190h1M280 191h1M281 189h1M277 188h1M279 192h1M279 190h1M268 192h1M282 189h1M277 188h1M282 190h1M276 191h1M281 189h1M276 190h1M281 191h1M284 187h1M270 186h1M272 185h1M277 188h1M279 188h1M277 186h1M271 187h1M272 191h1M273 186h1M276 190h1M270 185h1M273 186h1M275 185h1M264 183h1M269 186h1M271 184h1M274 186h1M268 188h1M273 186h1M278 189h1M271 182h1M264 186h1M280 189h1M264 188h1M264 188h1M276 187h1M273 187h1M267 188h1M268 188h1M272 186h1M272 185h1M264 184h1M278 187h1M273 183h1M273 185h1M270 190h1M278 185h1M270 187h1M273 187h1M274 187h1M266 186h1M274 184h1M283 187h1M271 186h1M269 182h1" stroke="#333" stroke-opacity="0.17"/>
<path d="M265 178h1M265 186h1M270 181h1M264 182h1M266 180h1M262 178h1M265 185h1M267 184h1M268 183h1M266 185h1M268 185h1M261 177h1M265 188h1M265 180h1M264 183h1M265 186h1M261 179h1M265 179h1M267 177h1M268 183h1M270 178h1M262 184h1M266 184h1M265 182h1M268 180h1M266 184h1M263 182h1M269 187h1M266 176h1M262 185h1M264 182h1M266 189h1M267 185h1M265 183h1M266 185h1M267 188h1M268 179h1M265 185h1M267 185h1M261 180h1M265 183h1M267 188h1M266 181h1M267 180h1M265 180h1M269 184h1M266 183h1M266 186h1M262 185h1M270 181h1M268 182h1M262 179h1M264 190h1M265 180h1M264 182h1M266 182h1M269 181h1M266 179h1M262 182h1M263 181h1M264 185h1M268 189h1M264 179h1M263 177h1M265 188h1M266 184h1M263 179h1M267 188h1M267 181h1M267 180h1M264 187h1M270 185h1M268 181h1M265 182h1M267 178h1M267 181h1M267 188h1M268 186h1M266 181h1M262 183h1M264 176h1M266 177h1M264 190h1M265 178h1M263 183h1M262 187h1M270 180h1M267 185h1M270 186h1M261 180h1M269 178h1M267 182h1M263 184h1M263 179h1M266 183h1M271 183h1M268 182h1M270 191h1M271 188h1M261 190h1M290 190h1M281 191h1M286 190h1M290 190h1M286 188h1M287 188h1M263 193h1M277 192h1M270 187h1M274 189h1M272 195h1M280 193h1M283 192h1M282 192h1M279 187h1M287 192h1M271 192h1M276 191h1M276 192h1M273 190h1M273 190h1M266 188h1M281 193h1M282 195h1M266 191h1M268 192h1M284 192h1M278 191h1M273 191h1M270 188h1M272 193h1M283 188h1M266 193h1M274 188h1M272 190h1M274 192h1M281 188h1M277 194h1M276 194h1M280 195h1M265 189h1M275 193h1M275 188h1M284 192h1M276 191h1M263 189h1M276 190h1M275 187h1M269 191h1M284 189h1M266 190h1M270 192h1M275 189h1M288 195h1M289 190h1M281 190h1M291 190h1M275 192h1M276 189h1M288 193h1M294 192h1M272 190h1M273 191h1M282 193h1M278 190h1M274 190h1M267 187h1M280 193h1M262 189h1M278 193h1M286 190h1M271 192h1M285 192h1M278 188h1M282 187h1M273 192h1M282 188h1M293 193h1M267 192h1M286 191h1M267 190h1M287 191h1M283 193h1M284 193h1M293 194h1M261 192h1M287 194h1M282 190h1M286 194h1M274 191h1M281 193h1M265 192h1M268 188h1M283 190h1M277 190h1M277 190h1M288 194h1M273 194h1M284 194h1M272 190h1M268 191h1M278 190h1M271 192h1M290 194h1M268 191h1M278 188h1M279 191h1M266 189h1M280 192h1M277 192h1M284 188h1M275 191h1M283 195h1M269 189h1M261 188h1M271 185h1M272 186h1M273 183h1M278 182h1M273 185h1M264 183h1M275 190h1M271 186h1M267 184h1M275 190h1M270 182h1M272 187h1M266 183h1M280 188h1M276 185h1M276 186h1M269 184h1M277 190h1M267 183h1M277 184h1M272 189h1M270 190h1M267 186h1M267 186h1M273 186h1M275 185h1M269 186h1M278 188h1M274 189h1M266 185h1M271 188h1M274 185h1M261 186h1M269 187h1M264 185h1M274 191h1M265 188h1M274 182h1M265 184h1M269 183h1M269 183h1M266 186h1M272 186h1M266 185h1" stroke="#333" stroke-opacity="0.17"/>
</g>
<rect x="260.40" y="150.30" width="66.60" height="48.90" fill="none" stroke="#333" stroke-width="0.8"/>
<line x1="260.40" y1="150.30" x2="260.40" y2="199.20" stroke="#111" stroke-width="1.15"/>
<line x1="260.40" y1="199.20" x2="327.00" y2="199.20" stroke="#111" stroke-width="1.15"/>
<rect x="260.70" y="174.00" width="10.00" height="16.20" fill="none" stroke="#222" stroke-width="0.95" rx="1"/>
<text x="274.4" y="168.7" font-size="6.30" text-anchor="middle" font-weight="bold" font-family="'Liberation Sans',sans-serif" fill="#000">33</text>
<text x="261.2" y="204.00000000000003" font-size="3.60" text-anchor="middle" font-weight="bold" font-family="'Liberation Serif',serif" fill="#222">1</text>
<text x="277.4" y="204.00000000000003" font-size="3.60" text-anchor="middle" font-weight="bold" font-family="'Liberation Serif',serif" fill="#222">10</text>
<text x="293.59999999999997" y="204.00000000000003" font-size="3.60" text-anchor="middle" font-weight="bold" font-family="'Liberation Serif',serif" fill="#222">100</text>
<text x="309.79999999999995" y="204.00000000000003" font-size="3.60" text-anchor="middle" font-weight="bold" font-family="'Liberation Serif',serif" fill="#222">1000</text>
<text x="0" y="0" font-size="9.78" text-anchor="middle" font-weight="bold" font-family="'Liberation Serif',serif" fill="#000" stroke="#000" stroke-width="0.28" transform="translate(189.8 215.4) scale(0.93 1)">CD127</text>
<line x1="400.55" y1="32.76" x2="400.55" y2="35.07" stroke="#555" stroke-width="1.1"/>
<line x1="398.75" y1="32.76" x2="402.35" y2="32.76" stroke="#555" stroke-width="1.1"/>
<rect x="387.40" y="35.07" width="26.30" height="40.53" fill="#000" stroke="none" stroke-width="1"/>
<line x1="432.45" y1="29.43" x2="432.45" y2="30.46" stroke="#555" stroke-width="1.1"/>
<line x1="430.65" y1="29.43" x2="434.25" y2="29.43" stroke="#555" stroke-width="1.1"/>
<rect x="419.30" y="30.46" width="26.30" height="45.14" fill="#000" stroke="none" stroke-width="1"/>
<line x1="464.45" y1="30.20" x2="464.45" y2="31.99" stroke="#555" stroke-width="1.1"/>
<line x1="462.65" y1="30.20" x2="466.25" y2="30.20" stroke="#555" stroke-width="1.1"/>
<rect x="451.30" y="31.99" width="26.30" height="43.61" fill="#000" stroke="none" stroke-width="1"/>
<line x1="496.35" y1="29.43" x2="496.35" y2="29.94" stroke="#555" stroke-width="1.1"/>
<line x1="494.55" y1="29.43" x2="498.15" y2="29.43" stroke="#555" stroke-width="1.1"/>
<rect x="483.20" y="29.94" width="26.30" height="45.66" fill="#000" stroke="none" stroke-width="1"/>
<rect x="381.50" y="24.50" width="132.00" height="51.00" fill="none" stroke="#777" stroke-width="0.9"/>
<text x="0" y="0" font-size="7.52" text-anchor="end" font-weight="normal" font-family="'Liberation Serif',serif" fill="#000" transform="translate(377.0 77.41999999999999) scale(0.93 1)">0</text>
<text x="0" y="0" font-size="7.52" text-anchor="end" font-weight="normal" font-family="'Liberation Serif',serif" fill="#000" transform="translate(377.0 67.15999999999998) scale(0.93 1)">20</text>
<text x="0" y="0" font-size="7.52" text-anchor="end" font-weight="normal" font-family="'Liberation Serif',serif" fill="#000" transform="translate(377.0 56.9) scale(0.93 1)">40</text>
<text x="0" y="0" font-size="7.52" text-anchor="end" font-weight="normal" font-family="'Liberation Serif',serif" fill="#000" transform="translate(377.0 46.63999999999999) scale(0.93 1)">60</text>
<text x="0" y="0" font-size="7.52" text-anchor="end" font-weight="normal" font-family="'Liberation Serif',serif" fill="#000" transform="translate(377.0 36.379999999999995) scale(0.93 1)">80</text>
<text x="0" y="0" font-size="7.52" text-anchor="end" font-weight="normal" font-family="'Liberation Serif',serif" fill="#000" transform="translate(377.0 26.11999999999999) scale(0.93 1)">100</text>
<line x1="400.55" y1="109.76" x2="400.55" y2="116.52" stroke="#555" stroke-width="1.1"/>
<line x1="398.75" y1="109.76" x2="402.35" y2="109.76" stroke="#555" stroke-width="1.1"/>
<rect x="387.40" y="116.52" width="26.30" height="17.68" fill="#000" stroke="none" stroke-width="1"/>
<line x1="432.45" y1="96.24" x2="432.45" y2="102.48" stroke="#555" stroke-width="1.1"/>
<line x1="430.65" y1="96.24" x2="434.25" y2="96.24" stroke="#555" stroke-width="1.1"/>
<rect x="419.30" y="102.48" width="26.30" height="31.72" fill="#000" stroke="none" stroke-width="1"/>
<line x1="464.45" y1="98.84" x2="464.45" y2="105.08" stroke="#555" stroke-width="1.1"/>
<line x1="462.65" y1="98.84" x2="466.25" y2="98.84" stroke="#555" stroke-width="1.1"/>
<rect x="451.30" y="105.08" width="26.30" height="29.12" fill="#000" stroke="none" stroke-width="1"/>
<line x1="496.35" y1="104.56" x2="496.35" y2="111.32" stroke="#555" stroke-width="1.1"/>
<line x1="494.55" y1="104.56" x2="498.15" y2="104.56" stroke="#555" stroke-width="1.1"/>
<rect x="483.20" y="111.32" width="26.30" height="22.88" fill="#000" stroke="none" stroke-width="1"/>
<rect x="381.50" y="82.50" width="133.00" height="52.00" fill="none" stroke="#777" stroke-width="0.9"/>
<text x="0" y="0" font-size="7.52" text-anchor="end" font-weight="normal" font-family="'Liberation Serif',serif" fill="#000" transform="translate(377.0 136.01999999999998) scale(0.93 1)">0</text>
<text x="0" y="0" font-size="7.52" text-anchor="end" font-weight="normal" font-family="'Liberation Serif',serif" fill="#000" transform="translate(377.0 125.61999999999998) scale(0.93 1)">20</text>
<text x="0" y="0" font-size="7.52" text-anchor="end" font-weight="normal" font-family="'Liberation Serif',serif" fill="#000" transform="translate(377.0 115.21999999999998) scale(0.93 1)">40</text>
<text x="0" y="0" font-size="7.52" text-anchor="end" font-weight="normal" font-family="'Liberation Serif',serif" fill="#000" transform="translate(377.0 104.81999999999998) scale(0.93 1)">60</text>
<text x="0" y="0" font-size="7.52" text-anchor="end" font-weight="normal" font-family="'Liberation Serif',serif" fill="#000" transform="translate(377.0 94.41999999999999) scale(0.93 1)">80</text>
<text x="0" y="0" font-size="7.52" text-anchor="end" font-weight="normal" font-family="'Liberation Serif',serif" fill="#000" transform="translate(377.0 84.01999999999998) scale(0.93 1)">100</text>
<line x1="401.35" y1="164.30" x2="401.35" y2="172.70" stroke="#555" stroke-width="1.1"/>
<line x1="399.55" y1="164.30" x2="403.15" y2="164.30" stroke="#555" stroke-width="1.1"/>
<rect x="388.20" y="172.70" width="26.30" height="16.80" fill="#000" stroke="none" stroke-width="1"/>
<line x1="433.05" y1="149.66" x2="433.05" y2="155.90" stroke="#555" stroke-width="1.1"/>
<line x1="431.25" y1="149.66" x2="434.85" y2="149.66" stroke="#555" stroke-width="1.1"/>
<rect x="419.90" y="155.90" width="26.30" height="33.60" fill="#000" stroke="none" stroke-width="1"/>
<line x1="464.85" y1="153.74" x2="464.85" y2="159.74" stroke="#555" stroke-width="1.1"/>
<line x1="463.05" y1="153.74" x2="466.65" y2="153.74" stroke="#555" stroke-width="1.1"/>
<rect x="451.70" y="159.74" width="26.30" height="29.76" fill="#000" stroke="none" stroke-width="1"/>
<line x1="496.55" y1="158.78" x2="496.55" y2="165.98" stroke="#555" stroke-width="1.1"/>
<line x1="494.75" y1="158.78" x2="498.35" y2="158.78" stroke="#555" stroke-width="1.1"/>
<rect x="483.40" y="165.98" width="26.30" height="23.52" fill="#000" stroke="none" stroke-width="1"/>
<rect x="382.50" y="141.50" width="133.00" height="48.00" fill="none" stroke="#777" stroke-width="0.9"/>
<text x="0" y="0" font-size="7.52" text-anchor="end" font-weight="normal" font-family="'Liberation Serif',serif" fill="#000" transform="translate(377.0 191.32) scale(0.93 1)">0</text>
<text x="0" y="0" font-size="7.52" text-anchor="end" font-weight="normal" font-family="'Liberation Serif',serif" fill="#000" transform="translate(377.0 181.72) scale(0.93 1)">20</text>
<text x="0" y="0" font-size="7.52" text-anchor="end" font-weight="normal" font-family="'Liberation Serif',serif" fill="#000" transform="translate(377.0 172.12) scale(0.93 1)">40</text>
<text x="0" y="0" font-size="7.52" text-anchor="end" font-weight="normal" font-family="'Liberation Serif',serif" fill="#000" transform="translate(377.0 162.51999999999998) scale(0.93 1)">60</text>
<text x="0" y="0" font-size="7.52" text-anchor="end" font-weight="normal" font-family="'Liberation Serif',serif" fill="#000" transform="translate(377.0 152.92) scale(0.93 1)">80</text>
<text x="0" y="0" font-size="7.52" text-anchor="end" font-weight="normal" font-family="'Liberation Serif',serif" fill="#000" transform="translate(377.0 143.32) scale(0.93 1)">100</text>
<text x="0" y="0" font-size="9.14" text-anchor="middle" font-weight="bold" font-family="'Liberation Serif',serif" fill="#000" stroke="#000" stroke-width="0.28" transform="translate(352.8 49.5) scale(0.93 1)">%</text>
<text x="0" y="0" font-size="9.14" text-anchor="middle" font-weight="bold" font-family="'Liberation Serif',serif" fill="#000" stroke="#000" stroke-width="0.28" transform="translate(352.4 57.6) scale(0.93 1)">CD4<tspan font-size="5" dy="-3">+</tspan></text>
<text x="0" y="0" font-size="9.14" text-anchor="middle" font-weight="bold" font-family="'Liberation Serif',serif" fill="#000" stroke="#000" stroke-width="0.28" transform="translate(352.3 102.7) scale(0.93 1)">%</text>
<text x="0" y="0" font-size="9.14" text-anchor="middle" font-weight="bold" font-family="'Liberation Serif',serif" fill="#000" stroke="#000" stroke-width="0.28" transform="translate(352.0 111.8) scale(0.93 1)">CD25<tspan font-size="5" dy="-3">+</tspan></text>
<text x="0" y="0" font-size="9.14" text-anchor="middle" font-weight="bold" font-family="'Liberation Serif',serif" fill="#000" stroke="#000" stroke-width="0.28" transform="translate(352.0 119.6) scale(0.93 1)">Foxp3<tspan font-size="5" dy="-3">+</tspan></text>
<text x="0" y="0" font-size="9.14" text-anchor="middle" font-weight="bold" font-family="'Liberation Serif',serif" fill="#000" stroke="#000" stroke-width="0.28" transform="translate(352.8 161.4) scale(0.93 1)">%</text>
<text x="0" y="0" font-size="9.14" text-anchor="middle" font-weight="bold" font-family="'Liberation Serif',serif" fill="#000" stroke="#000" stroke-width="0.28" transform="translate(352.0 170.2) scale(0.93 1)">CD127<tspan font-size="5" dy="-3">-</tspan></text>
<text x="0" y="0" font-size="9.14" text-anchor="middle" font-weight="bold" font-family="'Liberation Serif',serif" fill="#000" stroke="#000" stroke-width="0.28" transform="translate(352.0 178.3) scale(0.93 1)">Foxp3<tspan font-size="5" dy="-3">+</tspan></text>
<text x="0" y="0" font-size="9.24" text-anchor="middle" font-weight="bold" font-family="'Liberation Serif',serif" fill="#000" stroke="#000" stroke-width="0.28" transform="translate(401.5 199.7) scale(0.93 1)">CD3/28</text>
<text x="0" y="0" font-size="9.24" text-anchor="middle" font-weight="bold" font-family="'Liberation Serif',serif" fill="#000" stroke="#000" stroke-width="0.28" transform="translate(401.5 208.6) scale(0.93 1)">beads</text>
<text x="0" y="0" font-size="9.24" text-anchor="middle" font-weight="bold" font-family="'Liberation Serif',serif" fill="#000" stroke="#000" stroke-width="0.28" transform="translate(432.7 199.7) scale(0.93 1)">KT32</text>
<text x="0" y="0" font-size="9.24" text-anchor="middle" font-weight="bold" font-family="'Liberation Serif',serif" fill="#000" stroke="#000" stroke-width="0.28" transform="translate(465.0 199.7) scale(0.93 1)">KT32/</text>
<text x="0" y="0" font-size="9.24" text-anchor="middle" font-weight="bold" font-family="'Liberation Serif',serif" fill="#000" stroke="#000" stroke-width="0.28" transform="translate(465.0 208.6) scale(0.93 1)">4.1BBL</text>
<text x="0" y="0" font-size="9.24" text-anchor="middle" font-weight="bold" font-family="'Liberation Serif',serif" fill="#000" stroke="#000" stroke-width="0.28" transform="translate(496.6 199.7) scale(0.93 1)">KT32/</text>
<text x="0" y="0" font-size="9.24" text-anchor="middle" font-weight="bold" font-family="'Liberation Serif',serif" fill="#000" stroke="#000" stroke-width="0.28" transform="translate(496.6 208.6) scale(0.93 1)">OX40L</text>
<rect x="52.50" y="267.50" width="269.00" height="167.00" fill="none" stroke="#222" stroke-width="1.0"/>
<text x="0" y="0" font-size="8.60" text-anchor="end" font-weight="bold" font-family="'Liberation Serif',serif" fill="#000" stroke="#000" stroke-width="0.28" transform="translate(46.8 437.2) scale(0.93 1)">0</text>
<line x1="50.30" y1="434.40" x2="52.30" y2="434.40" stroke="#222" stroke-width="0.8"/>
<text x="0" y="0" font-size="8.60" text-anchor="end" font-weight="bold" font-family="'Liberation Serif',serif" fill="#000" stroke="#000" stroke-width="0.28" transform="translate(46.8 403.8) scale(0.93 1)">500</text>
<line x1="50.30" y1="401.00" x2="52.30" y2="401.00" stroke="#222" stroke-width="0.8"/>
<text x="0" y="0" font-size="8.60" text-anchor="end" font-weight="bold" font-family="'Liberation Serif',serif" fill="#000" stroke="#000" stroke-width="0.28" transform="translate(46.8 370.4) scale(0.93 1)">1000</text>
<line x1="50.30" y1="367.60" x2="52.30" y2="367.60" stroke="#222" stroke-width="0.8"/>
<text x="0" y="0" font-size="8.60" text-anchor="end" font-weight="bold" font-family="'Liberation Serif',serif" fill="#000" stroke="#000" stroke-width="0.28" transform="translate(46.8 337.0) scale(0.93 1)">1500</text>
<line x1="50.30" y1="334.20" x2="52.30" y2="334.20" stroke="#222" stroke-width="0.8"/>
<text x="0" y="0" font-size="8.60" text-anchor="end" font-weight="bold" font-family="'Liberation Serif',serif" fill="#000" stroke="#000" stroke-width="0.28" transform="translate(46.8 303.59999999999997) scale(0.93 1)">2000</text>
<line x1="50.30" y1="300.80" x2="52.30" y2="300.80" stroke="#222" stroke-width="0.8"/>
<text x="0" y="0" font-size="8.60" text-anchor="end" font-weight="bold" font-family="'Liberation Serif',serif" fill="#000" stroke="#000" stroke-width="0.28" transform="translate(46.8 270.2) scale(0.93 1)">2500</text>
<line x1="50.30" y1="267.40" x2="52.30" y2="267.40" stroke="#222" stroke-width="0.8"/>
<text x="0" y="0" font-size="8.60" text-anchor="middle" font-weight="bold" font-family="'Liberation Serif',serif" fill="#000" stroke="#000" stroke-width="0.28" transform="translate(67.4 449.9) scale(0.93 1)">0</text>
<text x="0" y="0" font-size="8.60" text-anchor="middle" font-weight="bold" font-family="'Liberation Serif',serif" fill="#000" stroke="#000" stroke-width="0.28" transform="translate(97.10000000000001 449.9) scale(0.93 1)">4</text>
<text x="0" y="0" font-size="8.60" text-anchor="middle" font-weight="bold" font-family="'Liberation Serif',serif" fill="#000" stroke="#000" stroke-width="0.28" transform="translate(126.80000000000001 449.9) scale(0.93 1)">6</text>
<text x="0" y="0" font-size="8.60" text-anchor="middle" font-weight="bold" font-family="'Liberation Serif',serif" fill="#000" stroke="#000" stroke-width="0.28" transform="translate(156.5 449.9) scale(0.93 1)">8</text>
<text x="0" y="0" font-size="8.60" text-anchor="middle" font-weight="bold" font-family="'Liberation Serif',serif" fill="#000" stroke="#000" stroke-width="0.28" transform="translate(186.2 449.9) scale(0.93 1)">11</text>
<text x="0" y="0" font-size="8.60" text-anchor="middle" font-weight="bold" font-family="'Liberation Serif',serif" fill="#000" stroke="#000" stroke-width="0.28" transform="translate(215.9 449.9) scale(0.93 1)">13</text>
<text x="0" y="0" font-size="8.60" text-anchor="middle" font-weight="bold" font-family="'Liberation Serif',serif" fill="#000" stroke="#000" stroke-width="0.28" transform="translate(245.6 449.9) scale(0.93 1)">15</text>
<text x="0" y="0" font-size="8.60" text-anchor="middle" font-weight="bold" font-family="'Liberation Serif',serif" fill="#000" stroke="#000" stroke-width="0.28" transform="translate(275.3 449.9) scale(0.93 1)">18</text>
<text x="0" y="0" font-size="8.60" text-anchor="middle" font-weight="bold" font-family="'Liberation Serif',serif" fill="#000" stroke="#000" stroke-width="0.28" transform="translate(305.0 449.9) scale(0.93 1)">21</text>
<line x1="52.60" y1="434.40" x2="52.60" y2="436.40" stroke="#222" stroke-width="0.8"/>
<line x1="82.30" y1="434.40" x2="82.30" y2="436.40" stroke="#222" stroke-width="0.8"/>
<line x1="112.00" y1="434.40" x2="112.00" y2="436.40" stroke="#222" stroke-width="0.8"/>
<line x1="141.70" y1="434.40" x2="141.70" y2="436.40" stroke="#222" stroke-width="0.8"/>
<line x1="171.40" y1="434.40" x2="171.40" y2="436.40" stroke="#222" stroke-width="0.8"/>
<line x1="201.10" y1="434.40" x2="201.10" y2="436.40" stroke="#222" stroke-width="0.8"/>
<line x1="230.80" y1="434.40" x2="230.80" y2="436.40" stroke="#222" stroke-width="0.8"/>
<line x1="260.50" y1="434.40" x2="260.50" y2="436.40" stroke="#222" stroke-width="0.8"/>
<line x1="290.20" y1="434.40" x2="290.20" y2="436.40" stroke="#222" stroke-width="0.8"/>
<line x1="319.90" y1="434.40" x2="319.90" y2="436.40" stroke="#222" stroke-width="0.8"/>
<text x="0" y="0" font-size="10.96" text-anchor="middle" font-weight="bold" font-family="'Liberation Serif',serif" fill="#000" stroke="#000" stroke-width="0.28" transform="translate(183.4 459.2) scale(0.93 1)">Day</text>
<text x="23.6" y="350.9" font-size="12.90" text-anchor="middle" font-weight="bold" font-family="'Liberation Serif',serif" fill="#000" stroke="#000" stroke-width="0.28" transform="rotate(-90 23.6 350.9)">Fold Expansion</text>
<path d="M67.4,434.1 L97.1,434.1 L126.8,434.1 L156.5,433.4 L186.2,419.8 L215.9,422.7 L245.6,406.2 L275.3,387.0 L305.0,381.8" fill="none" stroke="#000" stroke-width="1.6"/>
<path d="M67.4,430.76599999999996 L70.7,434.066 L67.4,437.366 L64.10000000000001,434.066Z" fill="#000" stroke="none" stroke-width="1"/>
<path d="M97.10000000000001,430.76599999999996 L100.4,434.066 L97.10000000000001,437.366 L93.80000000000001,434.066Z" fill="#000" stroke="none" stroke-width="1"/>
<path d="M126.80000000000001,430.76599999999996 L130.10000000000002,434.066 L126.80000000000001,437.366 L123.50000000000001,434.066Z" fill="#000" stroke="none" stroke-width="1"/>
<path d="M156.5,430.09799999999996 L159.8,433.39799999999997 L156.5,436.698 L153.2,433.39799999999997Z" fill="#000" stroke="none" stroke-width="1"/>
<path d="M186.2,416.53759999999994 L189.5,419.83759999999995 L186.2,423.13759999999996 L182.89999999999998,419.83759999999995Z" fill="#000" stroke="none" stroke-width="1"/>
<path d="M215.9,419.40999999999997 L219.20000000000002,422.71 L215.9,426.01 L212.6,422.71Z" fill="#000" stroke="none" stroke-width="1"/>
<path d="M245.6,402.9104 L248.9,406.2104 L245.6,409.5104 L242.29999999999998,406.2104Z" fill="#000" stroke="none" stroke-width="1"/>
<path d="M275.3,383.67199999999997 L278.6,386.972 L275.3,390.272 L272.0,386.972Z" fill="#000" stroke="none" stroke-width="1"/>
<path d="M305.0,378.5284 L308.3,381.8284 L305.0,385.1284 L301.7,381.8284Z" fill="#000" stroke="none" stroke-width="1"/>
<path d="M67.4,434.1 L97.1,434.1 L126.8,434.1 L156.5,433.4 L186.2,429.3 L215.9,428.9 L245.6,427.1 L275.3,423.4 L305.0,422.0" fill="none" stroke="#000" stroke-width="1.6"/>
<circle cx="67.40" cy="434.07" r="3.135" fill="#000"/>
<circle cx="97.10" cy="434.07" r="3.135" fill="#000"/>
<circle cx="126.80" cy="434.07" r="3.135" fill="#000"/>
<circle cx="156.50" cy="433.40" r="3.135" fill="#000"/>
<circle cx="186.20" cy="429.32" r="3.135" fill="#000"/>
<circle cx="215.90" cy="428.92" r="3.135" fill="#000"/>
<circle cx="245.60" cy="427.05" r="3.135" fill="#000"/>
<circle cx="275.30" cy="423.38" r="3.135" fill="#000"/>
<circle cx="305.00" cy="422.04" r="3.135" fill="#000"/>
<path d="M67.4,434.1 L97.1,434.1 L126.8,434.1 L156.5,433.6 L186.2,424.5 L215.9,420.9 L245.6,405.1 L275.3,369.7 L305.0,301.8" fill="none" stroke="#000" stroke-width="1.6"/>
<rect x="64.76" y="431.43" width="5.28" height="5.28" fill="#000" stroke="none" stroke-width="1"/>
<rect x="94.46" y="431.43" width="5.28" height="5.28" fill="#000" stroke="none" stroke-width="1"/>
<rect x="124.16" y="431.43" width="5.28" height="5.28" fill="#000" stroke="none" stroke-width="1"/>
<rect x="153.86" y="430.96" width="5.28" height="5.28" fill="#000" stroke="none" stroke-width="1"/>
<rect x="183.56" y="421.87" width="5.28" height="5.28" fill="#000" stroke="none" stroke-width="1"/>
<rect x="213.26" y="418.27" width="5.28" height="5.28" fill="#000" stroke="none" stroke-width="1"/>
<rect x="242.96" y="402.50" width="5.28" height="5.28" fill="#000" stroke="none" stroke-width="1"/>
<rect x="272.66" y="367.10" width="5.28" height="5.28" fill="#000" stroke="none" stroke-width="1"/>
<rect x="302.36" y="299.16" width="5.28" height="5.28" fill="#000" stroke="none" stroke-width="1"/>
<path d="M67.4,434.1 L97.1,434.1 L126.8,434.1 L156.5,433.6 L186.2,426.3 L215.9,424.5 L245.6,416.1 L275.3,356.9 L305.0,321.2" fill="none" stroke="#000" stroke-width="1.6"/>
<path d="M67.4,430.601 L70.7,436.70599999999996 L64.10000000000001,436.70599999999996Z" fill="#000" stroke="none" stroke-width="1"/>
<path d="M97.10000000000001,430.601 L100.4,436.70599999999996 L93.80000000000001,436.70599999999996Z" fill="#000" stroke="none" stroke-width="1"/>
<path d="M126.80000000000001,430.601 L130.10000000000002,436.70599999999996 L123.50000000000001,436.70599999999996Z" fill="#000" stroke="none" stroke-width="1"/>
<path d="M156.5,430.1334 L159.8,436.23839999999996 L153.2,436.23839999999996Z" fill="#000" stroke="none" stroke-width="1"/>
<path d="M186.2,422.8522 L189.5,428.95719999999994 L182.89999999999998,428.95719999999994Z" fill="#000" stroke="none" stroke-width="1"/>
<path d="M215.9,421.0486 L219.20000000000002,427.1536 L212.6,427.1536Z" fill="#000" stroke="none" stroke-width="1"/>
<path d="M245.6,412.6318 L248.9,418.73679999999996 L242.29999999999998,418.73679999999996Z" fill="#000" stroke="none" stroke-width="1"/>
<path d="M275.3,353.447 L278.6,359.55199999999996 L272.0,359.55199999999996Z" fill="#000" stroke="none" stroke-width="1"/>
<path d="M305.0,317.709 L308.3,323.81399999999996 L301.7,323.81399999999996Z" fill="#000" stroke="none" stroke-width="1"/>
<line x1="89.60" y1="283.60" x2="104.50" y2="283.60" stroke="#000" stroke-width="1.3"/>
<path d="M97.3,280.90000000000003 L100.0,283.6 L97.3,286.3 L94.6,283.6Z" fill="#000" stroke="none" stroke-width="1"/>
<text x="106.2" y="286.5" font-size="8.60" text-anchor="start" font-weight="bold" font-family="'Liberation Serif',serif" fill="#000" stroke="#000" stroke-width="0.28" textLength="45.3" lengthAdjust="spacingAndGlyphs">CD3/28 beads</text>
<line x1="89.60" y1="296.90" x2="104.50" y2="296.90" stroke="#000" stroke-width="1.3"/>
<circle cx="97.30" cy="296.90" r="2.565" fill="#000"/>
<text x="106.2" y="299.8" font-size="8.60" text-anchor="start" font-weight="bold" font-family="'Liberation Serif',serif" fill="#000" stroke="#000" stroke-width="0.28" textLength="17.8" lengthAdjust="spacingAndGlyphs">KT32</text>
<line x1="89.60" y1="310.20" x2="104.50" y2="310.20" stroke="#000" stroke-width="1.3"/>
<rect x="95.14" y="308.04" width="4.32" height="4.32" fill="#000" stroke="none" stroke-width="1"/>
<text x="106.2" y="313.1" font-size="8.60" text-anchor="start" font-weight="bold" font-family="'Liberation Serif',serif" fill="#000" stroke="#000" stroke-width="0.28" textLength="46.1" lengthAdjust="spacingAndGlyphs">KT32/4/1BBL</text>
<line x1="89.60" y1="323.50" x2="104.50" y2="323.50" stroke="#000" stroke-width="1.3"/>
<path d="M97.3,320.665 L100.0,325.66 L94.6,325.66Z" fill="#000" stroke="none" stroke-width="1"/>
<text x="106.2" y="326.4" font-size="8.60" text-anchor="start" font-weight="bold" font-family="'Liberation Serif',serif" fill="#000" stroke="#000" stroke-width="0.28" textLength="45.3" lengthAdjust="spacingAndGlyphs">KT32/OX40L</text>
<line x1="395.05" y1="318.58" x2="395.05" y2="325.31" stroke="#555" stroke-width="1.1"/>
<line x1="393.25" y1="318.58" x2="396.85" y2="318.58" stroke="#555" stroke-width="1.1"/>
<rect x="385.80" y="325.31" width="18.50" height="16.69" fill="#000" stroke="none" stroke-width="1"/>
<line x1="417.30" y1="328.82" x2="417.30" y2="331.58" stroke="#555" stroke-width="1.1"/>
<line x1="415.50" y1="328.82" x2="419.10" y2="328.82" stroke="#555" stroke-width="1.1"/>
<rect x="407.90" y="331.58" width="18.80" height="10.42" fill="#000" stroke="none" stroke-width="1"/>
<line x1="439.90" y1="276.42" x2="439.90" y2="292.52" stroke="#555" stroke-width="1.1"/>
<line x1="438.10" y1="276.42" x2="441.70" y2="276.42" stroke="#555" stroke-width="1.1"/>
<rect x="430.60" y="292.52" width="18.60" height="49.48" fill="#000" stroke="none" stroke-width="1"/>
<line x1="462.40" y1="266.17" x2="462.40" y2="284.03" stroke="#555" stroke-width="1.1"/>
<line x1="460.60" y1="266.17" x2="464.20" y2="266.17" stroke="#555" stroke-width="1.1"/>
<rect x="453.00" y="284.03" width="18.80" height="57.97" fill="#000" stroke="none" stroke-width="1"/>
<rect x="381.50" y="236.50" width="94.00" height="106.00" fill="none" stroke="#666" stroke-width="1.0"/>
<text x="0" y="0" font-size="8.49" text-anchor="end" font-weight="bold" font-family="'Liberation Serif',serif" fill="#000" transform="translate(376.2 344.054) scale(0.93 1)">0</text>
<text x="0" y="0" font-size="8.49" text-anchor="end" font-weight="bold" font-family="'Liberation Serif',serif" fill="#000" transform="translate(376.2 332.34288888888887) scale(0.93 1)">200</text>
<text x="0" y="0" font-size="8.49" text-anchor="end" font-weight="bold" font-family="'Liberation Serif',serif" fill="#000" transform="translate(376.2 320.63177777777776) scale(0.93 1)">400</text>
<text x="0" y="0" font-size="8.49" text-anchor="end" font-weight="bold" font-family="'Liberation Serif',serif" fill="#000" transform="translate(376.2 308.92066666666665) scale(0.93 1)">600</text>
<text x="0" y="0" font-size="8.49" text-anchor="end" font-weight="bold" font-family="'Liberation Serif',serif" fill="#000" transform="translate(376.2 297.20955555555554) scale(0.93 1)">800</text>
<text x="0" y="0" font-size="8.49" text-anchor="end" font-weight="bold" font-family="'Liberation Serif',serif" fill="#000" transform="translate(376.2 285.49844444444443) scale(0.93 1)">1000</text>
<text x="0" y="0" font-size="8.49" text-anchor="end" font-weight="bold" font-family="'Liberation Serif',serif" fill="#000" transform="translate(376.2 273.7873333333333) scale(0.93 1)">1200</text>
<text x="0" y="0" font-size="8.49" text-anchor="end" font-weight="bold" font-family="'Liberation Serif',serif" fill="#000" transform="translate(376.2 262.0762222222222) scale(0.93 1)">1400</text>
<text x="0" y="0" font-size="8.49" text-anchor="end" font-weight="bold" font-family="'Liberation Serif',serif" fill="#000" transform="translate(376.2 250.3651111111111) scale(0.93 1)">1600</text>
<text x="0" y="0" font-size="8.49" text-anchor="end" font-weight="bold" font-family="'Liberation Serif',serif" fill="#000" transform="translate(376.2 238.654) scale(0.93 1)">1800</text>
<text x="354.6" y="291.0" font-size="10.70" text-anchor="middle" font-weight="bold" font-family="'Liberation Serif',serif" fill="#000" stroke="#000" stroke-width="0.28" transform="rotate(-90 354.6 291.0)">Fold Expansion (Total)</text>
<line x1="394.10" y1="446.45" x2="394.10" y2="450.12" stroke="#555" stroke-width="1.1"/>
<line x1="392.30" y1="446.45" x2="395.90" y2="446.45" stroke="#555" stroke-width="1.1"/>
<rect x="384.50" y="450.12" width="19.20" height="9.28" fill="#000" stroke="none" stroke-width="1"/>
<line x1="417.25" y1="444.29" x2="417.25" y2="444.94" stroke="#555" stroke-width="1.1"/>
<line x1="415.45" y1="444.29" x2="419.05" y2="444.29" stroke="#555" stroke-width="1.1"/>
<rect x="407.60" y="444.94" width="19.30" height="14.46" fill="#000" stroke="none" stroke-width="1"/>
<line x1="440.55" y1="386.88" x2="440.55" y2="401.77" stroke="#555" stroke-width="1.1"/>
<line x1="438.75" y1="386.88" x2="442.35" y2="386.88" stroke="#555" stroke-width="1.1"/>
<rect x="430.70" y="401.77" width="19.70" height="57.63" fill="#000" stroke="none" stroke-width="1"/>
<line x1="464.10" y1="406.95" x2="464.10" y2="410.62" stroke="#555" stroke-width="1.1"/>
<line x1="462.30" y1="406.95" x2="465.90" y2="406.95" stroke="#555" stroke-width="1.1"/>
<rect x="454.40" y="410.62" width="19.40" height="48.78" fill="#000" stroke="none" stroke-width="1"/>
<rect x="380.50" y="355.50" width="97.00" height="104.00" fill="none" stroke="#666" stroke-width="1.0"/>
<text x="0" y="0" font-size="8.49" text-anchor="end" font-weight="bold" font-family="'Liberation Serif',serif" fill="#000" transform="translate(376.0 461.45399999999995) scale(0.93 1)">0</text>
<text x="0" y="0" font-size="8.49" text-anchor="end" font-weight="bold" font-family="'Liberation Serif',serif" fill="#000" transform="translate(376.0 444.1873333333333) scale(0.93 1)">400</text>
<text x="0" y="0" font-size="8.49" text-anchor="end" font-weight="bold" font-family="'Liberation Serif',serif" fill="#000" transform="translate(376.0 426.92066666666665) scale(0.93 1)">800</text>
<text x="0" y="0" font-size="8.49" text-anchor="end" font-weight="bold" font-family="'Liberation Serif',serif" fill="#000" transform="translate(376.0 409.65399999999994) scale(0.93 1)">1200</text>
<text x="0" y="0" font-size="8.49" text-anchor="end" font-weight="bold" font-family="'Liberation Serif',serif" fill="#000" transform="translate(376.0 392.3873333333333) scale(0.93 1)">1600</text>
<text x="0" y="0" font-size="8.49" text-anchor="end" font-weight="bold" font-family="'Liberation Serif',serif" fill="#000" transform="translate(376.0 375.12066666666664) scale(0.93 1)">2000</text>
<text x="0" y="0" font-size="8.49" text-anchor="end" font-weight="bold" font-family="'Liberation Serif',serif" fill="#000" transform="translate(376.0 357.8539999999999) scale(0.93 1)">2400</text>
<text x="353.9" y="405.6" font-size="10.40" text-anchor="middle" font-weight="bold" font-family="'Liberation Serif',serif" fill="#000" stroke="#000" stroke-width="0.28" transform="rotate(-90 353.9 405.6)">Fold Expansion (Treg)</text>
<text x="0" y="0" font-size="11.82" text-anchor="middle" font-weight="bold" font-family="'Liberation Serif',serif" fill="#000" stroke="#000" stroke-width="0.28" transform="translate(440.2 260.5) scale(0.93 1)">*, #</text>
<text x="0" y="0" font-size="11.82" text-anchor="middle" font-weight="bold" font-family="'Liberation Serif',serif" fill="#000" stroke="#000" stroke-width="0.28" transform="translate(462.3 262.0) scale(0.93 1)">*, #</text>
<text x="0" y="0" font-size="11.82" text-anchor="middle" font-weight="bold" font-family="'Liberation Serif',serif" fill="#000" stroke="#000" stroke-width="0.28" transform="translate(440.6 379.8) scale(0.93 1)">*, #</text>
<text x="0" y="0" font-size="11.82" text-anchor="middle" font-weight="bold" font-family="'Liberation Serif',serif" fill="#000" stroke="#000" stroke-width="0.28" transform="translate(464.0 379.8) scale(0.93 1)">*, #</text>
<text x="0" y="0" font-size="9.03" text-anchor="middle" font-weight="bold" font-family="'Liberation Serif',serif" fill="#000" stroke="#000" stroke-width="0.28" transform="translate(394.6 469.8) scale(0.93 1)">CD3/28</text>
<text x="0" y="0" font-size="9.03" text-anchor="middle" font-weight="bold" font-family="'Liberation Serif',serif" fill="#000" stroke="#000" stroke-width="0.28" transform="translate(394.4 479.0) scale(0.93 1)">beads</text>
<text x="0" y="0" font-size="9.03" text-anchor="middle" font-weight="bold" font-family="'Liberation Serif',serif" fill="#000" stroke="#000" stroke-width="0.28" transform="translate(441.0 469.8) scale(0.93 1)">KT32/</text>
<text x="0" y="0" font-size="9.03" text-anchor="middle" font-weight="bold" font-family="'Liberation Serif',serif" fill="#000" stroke="#000" stroke-width="0.28" transform="translate(439.3 478.8) scale(0.93 1)">4.1BBL</text>
<text x="0" y="0" font-size="9.03" text-anchor="middle" font-weight="bold" font-family="'Liberation Serif',serif" fill="#000" stroke="#000" stroke-width="0.28" transform="translate(418.4 493.8) scale(0.93 1)">KT32</text>
<text x="0" y="0" font-size="9.03" text-anchor="middle" font-weight="bold" font-family="'Liberation Serif',serif" fill="#000" stroke="#000" stroke-width="0.28" transform="translate(463.6 486.8) scale(0.93 1)">KT32/</text>
<text x="0" y="0" font-size="9.03" text-anchor="middle" font-weight="bold" font-family="'Liberation Serif',serif" fill="#000" stroke="#000" stroke-width="0.28" transform="translate(463.6 496.2) scale(0.93 1)">OX40L</text>
<rect x="76.50" y="511.50" width="233.00" height="95.00" fill="none" stroke="#333" stroke-width="1.0"/>
<text x="0" y="0" font-size="7.96" text-anchor="end" font-weight="bold" font-family="'Liberation Serif',serif" fill="#000" stroke="#000" stroke-width="0.15" transform="translate(73.3 521.4769230769232) scale(0.93 1)">90</text>
<text x="0" y="0" font-size="7.96" text-anchor="end" font-weight="bold" font-family="'Liberation Serif',serif" fill="#000" stroke="#000" stroke-width="0.15" transform="translate(73.3 543.3076923076924) scale(0.93 1)">60</text>
<text x="0" y="0" font-size="7.96" text-anchor="end" font-weight="bold" font-family="'Liberation Serif',serif" fill="#000" stroke="#000" stroke-width="0.15" transform="translate(73.3 565.1384615384617) scale(0.93 1)">30</text>
<text x="0" y="0" font-size="7.96" text-anchor="end" font-weight="bold" font-family="'Liberation Serif',serif" fill="#000" stroke="#000" stroke-width="0.15" transform="translate(73.3 586.9692307692309) scale(0.93 1)">0</text>
<text x="0" y="0" font-size="7.96" text-anchor="end" font-weight="bold" font-family="'Liberation Serif',serif" fill="#000" stroke="#000" stroke-width="0.15" transform="translate(73.3 608.8000000000001) scale(0.93 1)">-30</text>
<text x="0" y="0" font-size="7.96" text-anchor="middle" font-weight="bold" font-family="'Liberation Serif',serif" fill="#000" stroke="#000" stroke-width="0.15" transform="translate(93.5 618.2) scale(0.93 1)">1:1</text>
<text x="0" y="0" font-size="7.96" text-anchor="middle" font-weight="bold" font-family="'Liberation Serif',serif" fill="#000" stroke="#000" stroke-width="0.15" transform="translate(126.72 618.2) scale(0.93 1)">1:2</text>
<text x="0" y="0" font-size="7.96" text-anchor="middle" font-weight="bold" font-family="'Liberation Serif',serif" fill="#000" stroke="#000" stroke-width="0.15" transform="translate(159.94 618.2) scale(0.93 1)">1:4</text>
<text x="0" y="0" font-size="7.96" text-anchor="middle" font-weight="bold" font-family="'Liberation Serif',serif" fill="#000" stroke="#000" stroke-width="0.15" transform="translate(193.16 618.2) scale(0.93 1)">1:8</text>
<text x="0" y="0" font-size="7.96" text-anchor="middle" font-weight="bold" font-family="'Liberation Serif',serif" fill="#000" stroke="#000" stroke-width="0.15" transform="translate(226.38 618.2) scale(0.93 1)">1:16</text>
<text x="0" y="0" font-size="7.96" text-anchor="middle" font-weight="bold" font-family="'Liberation Serif',serif" fill="#000" stroke="#000" stroke-width="0.15" transform="translate(259.6 618.2) scale(0.93 1)">1:32</text>
<text x="0" y="0" font-size="7.96" text-anchor="middle" font-weight="bold" font-family="'Liberation Serif',serif" fill="#000" stroke="#000" stroke-width="0.15" transform="translate(292.82 618.2) scale(0.93 1)">1:64</text>
<text x="0" y="0" font-size="8.92" text-anchor="middle" font-weight="bold" font-family="'Liberation Serif',serif" fill="#000" stroke="#000" stroke-width="0.28" transform="translate(194.5 627.4) scale(0.93 1)">Treg;Responder</text>
<text x="56.0" y="558.2" font-size="9.60" text-anchor="middle" font-weight="bold" font-family="'Liberation Serif',serif" fill="#000" stroke="#000" stroke-width="0.28" transform="rotate(-90 56.0 558.2)">% Suppression</text>
<path d="M93.5,527.6 L126.7,522.5 L159.9,527.6 L193.2,537.1 L226.4,555.3 L259.6,588.4 L292.8,601.1" fill="none" stroke="#000" stroke-width="1.5"/>
<path d="M93.5,524.5092307692308 L96.6,527.6092307692309 L93.5,530.7092307692309 L90.4,527.6092307692309Z" fill="#000" stroke="none" stroke-width="1"/>
<path d="M126.72,519.4153846153847 L129.82,522.5153846153847 L126.72,525.6153846153848 L123.62,522.5153846153847Z" fill="#000" stroke="none" stroke-width="1"/>
<path d="M159.94,524.5092307692308 L163.04,527.6092307692309 L159.94,530.7092307692309 L156.84,527.6092307692309Z" fill="#000" stroke="none" stroke-width="1"/>
<path d="M193.16,533.9692307692309 L196.26,537.0692307692309 L193.16,540.1692307692309 L190.06,537.0692307692309Z" fill="#000" stroke="none" stroke-width="1"/>
<path d="M226.38,552.1615384615385 L229.48,555.2615384615385 L226.38,558.3615384615385 L223.28,555.2615384615385Z" fill="#000" stroke="none" stroke-width="1"/>
<path d="M259.6,585.2715384615385 L262.70000000000005,588.3715384615385 L259.6,591.4715384615386 L256.5,588.3715384615385Z" fill="#000" stroke="none" stroke-width="1"/>
<path d="M292.82,598.0061538461539 L295.92,601.1061538461539 L292.82,604.2061538461539 L289.71999999999997,601.1061538461539Z" fill="#000" stroke="none" stroke-width="1"/>
<path d="M93.5,516.7 L126.7,516.7 L159.9,520.3 L193.2,521.8 L226.4,527.6 L259.6,537.1 L292.8,547.3" fill="none" stroke="#000" stroke-width="1.5"/>
<circle cx="93.50" cy="516.69" r="2.945" fill="#000"/>
<circle cx="126.72" cy="516.69" r="2.945" fill="#000"/>
<circle cx="159.94" cy="520.33" r="2.945" fill="#000"/>
<circle cx="193.16" cy="521.79" r="2.945" fill="#000"/>
<circle cx="226.38" cy="527.61" r="2.945" fill="#000"/>
<circle cx="259.60" cy="537.07" r="2.945" fill="#000"/>
<circle cx="292.82" cy="547.26" r="2.945" fill="#000"/>
<path d="M93.5,526.2 L126.7,524.0 L159.9,527.6 L193.2,531.2 L226.4,540.7 L259.6,546.5 L292.8,580.7" fill="none" stroke="#000" stroke-width="1.5"/>
<rect x="91.02" y="523.67" width="4.96" height="4.96" fill="#000" stroke="none" stroke-width="1"/>
<rect x="124.24" y="521.49" width="4.96" height="4.96" fill="#000" stroke="none" stroke-width="1"/>
<rect x="157.46" y="525.13" width="4.96" height="4.96" fill="#000" stroke="none" stroke-width="1"/>
<rect x="190.68" y="528.77" width="4.96" height="4.96" fill="#000" stroke="none" stroke-width="1"/>
<rect x="223.90" y="538.23" width="4.96" height="4.96" fill="#000" stroke="none" stroke-width="1"/>
<rect x="257.12" y="544.05" width="4.96" height="4.96" fill="#000" stroke="none" stroke-width="1"/>
<rect x="290.34" y="578.25" width="4.96" height="4.96" fill="#000" stroke="none" stroke-width="1"/>
<path d="M93.5,530.5 L126.7,525.4 L159.9,528.3 L193.2,533.4 L226.4,552.4 L259.6,574.2 L292.8,593.8" fill="none" stroke="#000" stroke-width="1.5"/>
<path d="M93.5,527.2650000000001 L96.6,533.0000000000001 L90.4,533.0000000000001Z" fill="#000" stroke="none" stroke-width="1"/>
<path d="M126.72,522.171153846154 L129.82,527.906153846154 L123.62,527.906153846154Z" fill="#000" stroke="none" stroke-width="1"/>
<path d="M159.94,525.0819230769232 L163.04,530.8169230769232 L156.84,530.8169230769232Z" fill="#000" stroke="none" stroke-width="1"/>
<path d="M193.16,530.1757692307693 L196.26,535.9107692307693 L190.06,535.9107692307693Z" fill="#000" stroke="none" stroke-width="1"/>
<path d="M226.38,549.0957692307693 L229.48,554.8307692307693 L223.28,554.8307692307693Z" fill="#000" stroke="none" stroke-width="1"/>
<path d="M259.6,570.9265384615386 L262.70000000000005,576.6615384615386 L256.5,576.6615384615386Z" fill="#000" stroke="none" stroke-width="1"/>
<path d="M292.82,590.5742307692309 L295.92,596.3092307692309 L289.71999999999997,596.3092307692309Z" fill="#000" stroke="none" stroke-width="1"/>
<line x1="89.40" y1="566.90" x2="103.10" y2="566.90" stroke="#000" stroke-width="1.4"/>
<path d="M96.3,564.5 L98.7,566.9 L96.3,569.3 L93.89999999999999,566.9Z" fill="#000" stroke="none" stroke-width="1"/>
<text x="104.8" y="569.6" font-size="7.90" text-anchor="start" font-weight="bold" font-family="'Liberation Serif',serif" fill="#000" stroke="#000" stroke-width="0.15" textLength="39.6" lengthAdjust="spacingAndGlyphs">CD3/28 beads</text>
<line x1="89.40" y1="576.60" x2="103.10" y2="576.60" stroke="#000" stroke-width="1.4"/>
<circle cx="96.30" cy="576.60" r="2.28" fill="#000"/>
<text x="104.8" y="579.3000000000001" font-size="7.90" text-anchor="start" font-weight="bold" font-family="'Liberation Serif',serif" fill="#000" stroke="#000" stroke-width="0.15" textLength="16.6" lengthAdjust="spacingAndGlyphs">KT32</text>
<line x1="89.40" y1="586.30" x2="103.10" y2="586.30" stroke="#000" stroke-width="1.4"/>
<rect x="94.38" y="584.38" width="3.84" height="3.84" fill="#000" stroke="none" stroke-width="1"/>
<text x="104.8" y="589.0" font-size="7.90" text-anchor="start" font-weight="bold" font-family="'Liberation Serif',serif" fill="#000" stroke="#000" stroke-width="0.15" textLength="40.5" lengthAdjust="spacingAndGlyphs">KT32/4.1BBL</text>
<line x1="89.40" y1="596.00" x2="103.10" y2="596.00" stroke="#000" stroke-width="1.4"/>
<path d="M96.3,593.48 L98.7,597.92 L93.89999999999999,597.92Z" fill="#000" stroke="none" stroke-width="1"/>
<text x="104.8" y="598.7" font-size="7.90" text-anchor="start" font-weight="bold" font-family="'Liberation Serif',serif" fill="#000" stroke="#000" stroke-width="0.15" textLength="39.6" lengthAdjust="spacingAndGlyphs">KT32/OX40L</text>
<line x1="112.60" y1="670.63" x2="112.60" y2="681.38" stroke="#555" stroke-width="1.0"/>
<line x1="110.80" y1="670.63" x2="114.40" y2="670.63" stroke="#555" stroke-width="1.0"/>
<rect x="89.20" y="681.38" width="46.80" height="45.82" fill="#000" stroke="none" stroke-width="1"/>
<line x1="168.95" y1="649.60" x2="168.95" y2="657.82" stroke="#555" stroke-width="1.0"/>
<line x1="167.15" y1="649.60" x2="170.75" y2="649.60" stroke="#555" stroke-width="1.0"/>
<rect x="146.20" y="657.82" width="45.50" height="69.38" fill="#000" stroke="none" stroke-width="1"/>
<line x1="224.00" y1="656.42" x2="224.00" y2="661.84" stroke="#555" stroke-width="1.0"/>
<line x1="222.20" y1="656.42" x2="225.80" y2="656.42" stroke="#555" stroke-width="1.0"/>
<rect x="201.00" y="661.84" width="46.00" height="65.36" fill="#000" stroke="none" stroke-width="1"/>
<line x1="279.65" y1="655.77" x2="279.65" y2="665.58" stroke="#555" stroke-width="1.0"/>
<line x1="277.85" y1="655.77" x2="281.45" y2="655.77" stroke="#555" stroke-width="1.0"/>
<rect x="256.30" y="665.58" width="46.70" height="61.62" fill="#000" stroke="none" stroke-width="1"/>
<rect x="78.50" y="633.50" width="233.00" height="94.00" fill="none" stroke="#333" stroke-width="1.0"/>
<text x="0" y="0" font-size="10.32" text-anchor="end" font-weight="bold" font-family="'Liberation Serif',serif" fill="#000" transform="translate(73.9 729.696) scale(0.93 1)">0</text>
<text x="0" y="0" font-size="10.32" text-anchor="end" font-weight="bold" font-family="'Liberation Serif',serif" fill="#000" transform="translate(73.9 710.996) scale(0.93 1)">20</text>
<text x="0" y="0" font-size="10.32" text-anchor="end" font-weight="bold" font-family="'Liberation Serif',serif" fill="#000" transform="translate(73.9 692.296) scale(0.93 1)">40</text>
<text x="0" y="0" font-size="10.32" text-anchor="end" font-weight="bold" font-family="'Liberation Serif',serif" fill="#000" transform="translate(73.9 673.596) scale(0.93 1)">60</text>
<text x="0" y="0" font-size="10.32" text-anchor="end" font-weight="bold" font-family="'Liberation Serif',serif" fill="#000" transform="translate(73.9 654.8960000000001) scale(0.93 1)">80</text>
<text x="0" y="0" font-size="10.32" text-anchor="end" font-weight="bold" font-family="'Liberation Serif',serif" fill="#000" transform="translate(73.9 636.196) scale(0.93 1)">100</text>
<text x="53.8" y="681.0" font-size="9.70" text-anchor="middle" font-weight="bold" font-family="'Liberation Serif',serif" fill="#000" stroke="#000" stroke-width="0.28" transform="rotate(-90 53.8 681.0)">% Suppression (@ 1:4)</text>
<text x="0" y="0" font-size="20.96" text-anchor="middle" font-weight="bold" font-family="'Liberation Serif',serif" fill="#000" stroke="#000" stroke-width="0.28" transform="translate(168.8 650.5) scale(0.93 1)">*</text>
<text x="0" y="0" font-size="20.96" text-anchor="middle" font-weight="bold" font-family="'Liberation Serif',serif" fill="#000" stroke="#000" stroke-width="0.28" transform="translate(223.9 650.5) scale(0.93 1)">*</text>
<text x="0" y="0" font-size="20.96" text-anchor="middle" font-weight="bold" font-family="'Liberation Serif',serif" fill="#000" stroke="#000" stroke-width="0.28" transform="translate(279.9 650.5) scale(0.93 1)">*</text>
<text x="0" y="0" font-size="12.15" text-anchor="middle" font-weight="bold" font-family="'Liberation Serif',serif" fill="#000" stroke="#000" stroke-width="0.28" transform="translate(112.3 741.2) scale(0.93 1)">CD3/28</text>
<text x="0" y="0" font-size="12.15" text-anchor="middle" font-weight="bold" font-family="'Liberation Serif',serif" fill="#000" stroke="#000" stroke-width="0.28" transform="translate(112.3 753.3) scale(0.93 1)">beads</text>
<text x="0" y="0" font-size="12.15" text-anchor="middle" font-weight="bold" font-family="'Liberation Serif',serif" fill="#000" stroke="#000" stroke-width="0.28" transform="translate(168.4 741.2) scale(0.93 1)">KT32</text>
<text x="0" y="0" font-size="12.15" text-anchor="middle" font-weight="bold" font-family="'Liberation Serif',serif" fill="#000" stroke="#000" stroke-width="0.28" transform="translate(224.0 741.2) scale(0.93 1)">KT32/</text>
<text x="0" y="0" font-size="12.15" text-anchor="middle" font-weight="bold" font-family="'Liberation Serif',serif" fill="#000" stroke="#000" stroke-width="0.28" transform="translate(224.0 753.3) scale(0.93 1)">4.1BBL</text>
<text x="0" y="0" font-size="12.15" text-anchor="middle" font-weight="bold" font-family="'Liberation Serif',serif" fill="#000" stroke="#000" stroke-width="0.28" transform="translate(280.0 741.2) scale(0.93 1)">KT32/</text>
<text x="0" y="0" font-size="12.15" text-anchor="middle" font-weight="bold" font-family="'Liberation Serif',serif" fill="#000" stroke="#000" stroke-width="0.28" transform="translate(280.0 753.3) scale(0.93 1)">OX40L</text>
<rect x="400.50" y="526.50" width="96.00" height="79.00" fill="none" stroke="#555" stroke-width="1.0"/>
<line x1="400.30" y1="526.50" x2="400.30" y2="605.80" stroke="#111" stroke-width="1.2"/>
<line x1="400.30" y1="605.80" x2="496.50" y2="605.80" stroke="#111" stroke-width="1.2"/>
<line x1="400.30" y1="553.50" x2="496.50" y2="553.50" stroke="#444" stroke-width="1.0"/>
<line x1="400.30" y1="579.50" x2="496.50" y2="579.50" stroke="#444" stroke-width="1.0"/>
<line x1="398.50" y1="526.50" x2="400.30" y2="526.50" stroke="#111" stroke-width="0.8"/>
<text x="398.0" y="528.1" font-size="4.70" text-anchor="end" font-weight="bold" font-family="'Liberation Serif',serif" fill="#222">10000</text>
<line x1="398.50" y1="552.93" x2="400.30" y2="552.93" stroke="#111" stroke-width="0.8"/>
<text x="398.0" y="554.5333333333333" font-size="4.70" text-anchor="end" font-weight="bold" font-family="'Liberation Serif',serif" fill="#222">1000</text>
<line x1="398.50" y1="579.37" x2="400.30" y2="579.37" stroke="#111" stroke-width="0.8"/>
<text x="398.0" y="580.9666666666667" font-size="4.70" text-anchor="end" font-weight="bold" font-family="'Liberation Serif',serif" fill="#222">100</text>
<line x1="398.50" y1="605.80" x2="400.30" y2="605.80" stroke="#111" stroke-width="0.8"/>
<text x="398.0" y="607.4" font-size="4.70" text-anchor="end" font-weight="bold" font-family="'Liberation Serif',serif" fill="#222">10</text>
<circle cx="407.00" cy="549.60" r="2.3" fill="#000"/>
<circle cx="411.20" cy="557.00" r="2.3" fill="#000"/>
<circle cx="415.60" cy="550.80" r="2.3" fill="#000"/>
<circle cx="432.10" cy="551.50" r="2.3" fill="#000"/>
<circle cx="436.90" cy="549.20" r="2.3" fill="#000"/>
<circle cx="441.70" cy="551.20" r="2.3" fill="#000"/>
<circle cx="453.80" cy="593.00" r="2.3" fill="#000"/>
<circle cx="458.70" cy="581.90" r="2.3" fill="#000"/>
<circle cx="463.30" cy="587.10" r="2.3" fill="#000"/>
<circle cx="478.30" cy="568.80" r="2.3" fill="#000"/>
<circle cx="483.50" cy="564.20" r="2.3" fill="#000"/>
<circle cx="487.70" cy="575.40" r="2.3" fill="#000"/>
<text x="382.0" y="563.7" font-size="8.80" text-anchor="middle" font-weight="bold" font-family="'Liberation Serif',serif" fill="#000" stroke="#000" stroke-width="0.28" transform="rotate(-90 382.0 563.7)">TGF-β (ng/ml)</text>
<path d="M458.7,556.5 L458.7,549.6 L481.2,549.6 L481.2,556.5" fill="none" stroke="#222" stroke-width="1.0"/>
<text x="0" y="0" font-size="11.82" text-anchor="middle" font-weight="bold" font-family="'Liberation Serif',serif" fill="#000" stroke="#000" stroke-width="0.28" transform="translate(470.6 550.0) scale(0.93 1)">*</text>
<text x="0" y="0" font-size="9.67" text-anchor="middle" font-weight="bold" font-family="'Liberation Serif',serif" fill="#000" stroke="#000" stroke-width="0.28" transform="translate(424.4 534.6) scale(0.93 1)">d6</text>
<text x="0" y="0" font-size="9.67" text-anchor="middle" font-weight="bold" font-family="'Liberation Serif',serif" fill="#000" stroke="#000" stroke-width="0.28" transform="translate(471.2 534.6) scale(0.93 1)">d17</text>
<rect x="401.50" y="648.50" width="95.00" height="81.00" fill="none" stroke="#555" stroke-width="1.0"/>
<line x1="401.30" y1="648.40" x2="401.30" y2="729.60" stroke="#111" stroke-width="1.2"/>
<line x1="401.30" y1="729.60" x2="496.50" y2="729.60" stroke="#111" stroke-width="1.2"/>
<line x1="401.30" y1="675.50" x2="496.50" y2="675.50" stroke="#444" stroke-width="1.0"/>
<line x1="401.30" y1="702.50" x2="496.50" y2="702.50" stroke="#444" stroke-width="1.0"/>
<line x1="399.50" y1="648.40" x2="401.30" y2="648.40" stroke="#111" stroke-width="0.8"/>
<text x="399.0" y="650.0" font-size="4.70" text-anchor="end" font-weight="bold" font-family="'Liberation Serif',serif" fill="#222">10000</text>
<line x1="399.50" y1="675.47" x2="401.30" y2="675.47" stroke="#111" stroke-width="0.8"/>
<text x="399.0" y="677.0666666666667" font-size="4.70" text-anchor="end" font-weight="bold" font-family="'Liberation Serif',serif" fill="#222">1000</text>
<line x1="399.50" y1="702.53" x2="401.30" y2="702.53" stroke="#111" stroke-width="0.8"/>
<text x="399.0" y="704.1333333333333" font-size="4.70" text-anchor="end" font-weight="bold" font-family="'Liberation Serif',serif" fill="#222">100</text>
<line x1="399.50" y1="729.60" x2="401.30" y2="729.60" stroke="#111" stroke-width="0.8"/>
<text x="399.0" y="731.2" font-size="4.70" text-anchor="end" font-weight="bold" font-family="'Liberation Serif',serif" fill="#222"></text>
<circle cx="410.80" cy="675.80" r="2.3" fill="#000"/>
<circle cx="414.20" cy="708.80" r="2.3" fill="#000"/>
<circle cx="406.50" cy="716.20" r="2.3" fill="#000"/>
<circle cx="429.60" cy="671.30" r="2.3" fill="#000"/>
<circle cx="434.40" cy="662.70" r="2.3" fill="#000"/>
<circle cx="438.80" cy="667.70" r="2.3" fill="#000"/>
<circle cx="453.80" cy="724.20" r="2.3" fill="#000"/>
<circle cx="458.70" cy="718.10" r="2.3" fill="#000"/>
<circle cx="463.50" cy="724.20" r="2.3" fill="#000"/>
<circle cx="477.70" cy="715.60" r="2.3" fill="#000"/>
<circle cx="482.10" cy="706.50" r="2.3" fill="#000"/>
<circle cx="486.90" cy="716.90" r="2.3" fill="#000"/>
<text x="380.4" y="691.0" font-size="8.40" text-anchor="middle" font-weight="bold" font-family="'Liberation Serif',serif" fill="#000" stroke="#000" stroke-width="0.28" transform="rotate(-90 380.4 691.0)">IFN-γ (ng/ml)</text>
<text x="0" y="0" font-size="9.67" text-anchor="middle" font-weight="bold" font-family="'Liberation Serif',serif" fill="#000" stroke="#000" stroke-width="0.28" transform="translate(423.1 656.8) scale(0.93 1)">d6</text>
<text x="0" y="0" font-size="9.67" text-anchor="middle" font-weight="bold" font-family="'Liberation Serif',serif" fill="#000" stroke="#000" stroke-width="0.28" transform="translate(470.4 656.8) scale(0.93 1)">d17</text>
<text x="399.0" y="719.6" font-size="4.50" text-anchor="end" font-weight="bold" font-family="'Liberation Serif',serif" fill="#222">≥15</text>
<path d="M398.8,719.5 l5,-1.2 M398.8,721.0 l5,-1.2" fill="none" stroke="#111" stroke-width="0.8"/>
<text x="0" y="0" font-size="8.17" text-anchor="middle" font-weight="bold" font-family="'Liberation Serif',serif" fill="#000" stroke="#000" stroke-width="0.15" transform="translate(410.2 615.2) scale(0.93 1)">CD</text>
<text x="0" y="0" font-size="8.17" text-anchor="middle" font-weight="bold" font-family="'Liberation Serif',serif" fill="#000" stroke="#000" stroke-width="0.15" transform="translate(410.7 622.0) scale(0.93 1)">3/28</text>
<text x="0" y="0" font-size="8.17" text-anchor="middle" font-weight="bold" font-family="'Liberation Serif',serif" fill="#000" stroke="#000" stroke-width="0.15" transform="translate(435.3 615.2) scale(0.93 1)">KT32/</text>
<text x="0" y="0" font-size="8.17" text-anchor="middle" font-weight="bold" font-family="'Liberation Serif',serif" fill="#000" stroke="#000" stroke-width="0.15" transform="translate(435.8 622.0) scale(0.93 1)">4.1BBL</text>
<text x="0" y="0" font-size="8.17" text-anchor="middle" font-weight="bold" font-family="'Liberation Serif',serif" fill="#000" stroke="#000" stroke-width="0.15" transform="translate(458.6 615.2) scale(0.93 1)">CD</text>
<text x="0" y="0" font-size="8.17" text-anchor="middle" font-weight="bold" font-family="'Liberation Serif',serif" fill="#000" stroke="#000" stroke-width="0.15" transform="translate(459.1 622.0) scale(0.93 1)">3/28</text>
<text x="0" y="0" font-size="8.17" text-anchor="middle" font-weight="bold" font-family="'Liberation Serif',serif" fill="#000" stroke="#000" stroke-width="0.15" transform="translate(483.2 615.2) scale(0.93 1)">KT32/</text>
<text x="0" y="0" font-size="8.17" text-anchor="middle" font-weight="bold" font-family="'Liberation Serif',serif" fill="#000" stroke="#000" stroke-width="0.15" transform="translate(483.7 622.0) scale(0.93 1)">4.1BBL</text>
<text x="0" y="0" font-size="8.17" text-anchor="middle" font-weight="bold" font-family="'Liberation Serif',serif" fill="#000" stroke="#000" stroke-width="0.15" transform="translate(410.6 738.8) scale(0.93 1)">CD</text>
<text x="0" y="0" font-size="8.17" text-anchor="middle" font-weight="bold" font-family="'Liberation Serif',serif" fill="#000" stroke="#000" stroke-width="0.15" transform="translate(411.1 745.5999999999999) scale(0.93 1)">3/28</text>
<text x="0" y="0" font-size="8.17" text-anchor="middle" font-weight="bold" font-family="'Liberation Serif',serif" fill="#000" stroke="#000" stroke-width="0.15" transform="translate(434.8 738.8) scale(0.93 1)">KT32/</text>
<text x="0" y="0" font-size="8.17" text-anchor="middle" font-weight="bold" font-family="'Liberation Serif',serif" fill="#000" stroke="#000" stroke-width="0.15" transform="translate(435.3 745.5999999999999) scale(0.93 1)">4.1BBL</text>
<text x="0" y="0" font-size="8.17" text-anchor="middle" font-weight="bold" font-family="'Liberation Serif',serif" fill="#000" stroke="#000" stroke-width="0.15" transform="translate(459.0 738.8) scale(0.93 1)">CD</text>
<text x="0" y="0" font-size="8.17" text-anchor="middle" font-weight="bold" font-family="'Liberation Serif',serif" fill="#000" stroke="#000" stroke-width="0.15" transform="translate(459.5 745.5999999999999) scale(0.93 1)">3/28</text>
<text x="0" y="0" font-size="8.17" text-anchor="middle" font-weight="bold" font-family="'Liberation Serif',serif" fill="#000" stroke="#000" stroke-width="0.15" transform="translate(483.0 738.8) scale(0.93 1)">KT32/</text>
<text x="0" y="0" font-size="8.17" text-anchor="middle" font-weight="bold" font-family="'Liberation Serif',serif" fill="#000" stroke="#000" stroke-width="0.15" transform="translate(483.5 745.5999999999999) scale(0.93 1)">4.1BBL</text>
</svg></body></html>
